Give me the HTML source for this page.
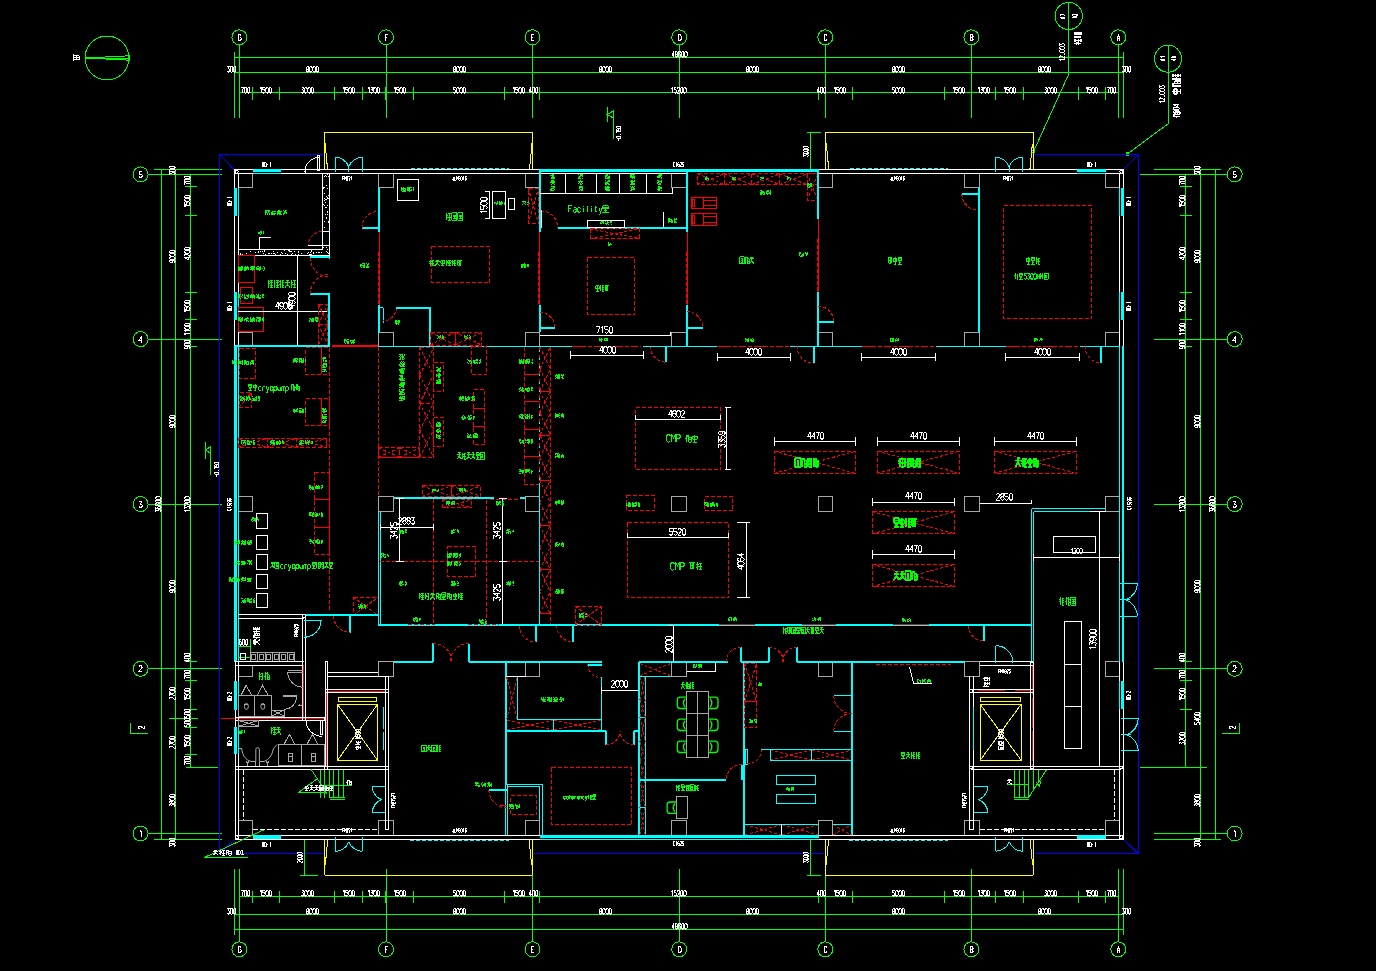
<!DOCTYPE html>
<html><head><meta charset="utf-8"><title>Floor plan</title>
<style>
html,body{margin:0;padding:0;background:#000;overflow:hidden}
svg{display:block;font-family:"Liberation Sans",sans-serif}
</style></head><body>
<svg width="1376" height="971" viewBox="0 0 1376 971" fill="none" stroke-width="1" shape-rendering="crispEdges">
<title>CAD floor plan</title><desc>First floor plan: grid axes A-G and 1-5, overall 48600 x 36600, bays 8000 / 9000; rooms: Facility, CMP small 4602x3359, CMP large 5520x4064, cryopump areas, test area 5300HM, equipment 4470, corridor, offices, meeting room, toilets, lifts, stairs, electrical room 13900.</desc>
<rect width="1376" height="971" fill="#000"/>
<circle cx="239.4" cy="37.3" r="7.5" stroke="#00ff00"/>
<path transform="translate(239.5 34.5)" d="M1.5,1L0.5,0L-0.5,0L-1.5,1L-1.5,5L-0.5,6L0.5,6L1.5,5L1.5,3L0,3" stroke="#ffffff" stroke-linejoin="round"/>
<path d="M239.5 44.8V117.5" stroke="#00ff00"/>
<circle cx="386" cy="37.3" r="7.5" stroke="#00ff00"/>
<path transform="translate(386.5 34.5)" d="M1.5,0L-1.5,0L-1.5,6M-1.5,3L0.5,3" stroke="#ffffff" stroke-linejoin="round"/>
<path d="M386.5 44.8V117.5" stroke="#00ff00"/>
<circle cx="532.5" cy="37.3" r="7.5" stroke="#00ff00"/>
<path transform="translate(532.5 34.5)" d="M1.5,0L-1.5,0L-1.5,6L1.5,6M-1.5,3L0.5,3" stroke="#ffffff" stroke-linejoin="round"/>
<path d="M532.5 44.8V117.5" stroke="#00ff00"/>
<circle cx="679.2" cy="37.3" r="7.5" stroke="#00ff00"/>
<path transform="translate(679.5 34.5)" d="M-1.5,0L-1.5,6L0.5,6L1.5,5L1.5,1L0.5,0L-1.5,0" stroke="#ffffff" stroke-linejoin="round"/>
<path d="M679.5 44.8V117.5" stroke="#00ff00"/>
<circle cx="825.3" cy="37.3" r="7.5" stroke="#00ff00"/>
<path transform="translate(825.5 34.5)" d="M1.5,1L0.5,0L-0.5,0L-1.5,1L-1.5,5L-0.5,6L0.5,6L1.5,5" stroke="#ffffff" stroke-linejoin="round"/>
<path d="M825.5 44.8V117.5" stroke="#00ff00"/>
<circle cx="971.4" cy="37.3" r="7.5" stroke="#00ff00"/>
<path transform="translate(971.5 34.5)" d="M-1.5,0L-1.5,6L0.5,6L1.5,5L1.5,4L0.5,3L-1.5,3M0.5,3L1.5,2L1.5,1L0.5,0L-1.5,0" stroke="#ffffff" stroke-linejoin="round"/>
<path d="M971.5 44.8V117.5" stroke="#00ff00"/>
<circle cx="1118.3" cy="37.3" r="7.5" stroke="#00ff00"/>
<path transform="translate(1118.5 34.5)" d="M-1.5,6L0,0L1.5,6M-0.9,4L0.9,4" stroke="#ffffff" stroke-linejoin="round"/>
<path d="M1118.5 44.8V117.5" stroke="#00ff00"/>
<path d="M234.5 52V117.5" stroke="#00ff00"/>
<path d="M1123.5 52V117.5" stroke="#00ff00"/>
<path d="M234 57.5H1124" stroke="#00ff00"/>
<path d="M234 72.5H1124" stroke="#00ff00"/>
<path d="M239.4 92.5H1118.3" stroke="#00ff00"/>
<path d="M252.5 86.6V99.6" stroke="#00ff00"/>
<path transform="translate(245.5 87.5)" d="M-4.36,0L-2.04,0L-3.59,5.52M-1.16,0.92L-0.39,0L0.39,0L1.16,0.92L1.16,4.6L0.39,5.52L-0.39,5.52L-1.16,4.6ZM2.04,0.92L2.82,0L3.59,0L4.36,0.92L4.36,4.6L3.59,5.52L2.82,5.52L2.04,4.6Z" stroke="#ffffff" stroke-linejoin="round"/>
<path d="M279.5 86.6V99.6" stroke="#00ff00"/>
<path transform="translate(265.5 87.5)" d="M-5.34,1.1L-4.42,0L-4.42,5.52M-0.44,0L-2.76,0L-2.76,2.3L-1.21,2.3L-0.44,3.22L-0.44,4.6L-1.21,5.52L-1.99,5.52L-2.76,4.6M0.44,0.92L1.21,0L1.99,0L2.76,0.92L2.76,4.6L1.99,5.52L1.21,5.52L0.44,4.6ZM3.64,0.92L4.42,0L5.19,0L5.96,0.92L5.96,4.6L5.19,5.52L4.42,5.52L3.64,4.6Z" stroke="#ffffff" stroke-linejoin="round"/>
<path d="M334.5 86.6V99.6" stroke="#00ff00"/>
<path transform="translate(307.5 87.5)" d="M-5.96,0L-3.64,0L-4.88,2.3L-4.42,2.3L-3.64,3.22L-3.64,4.6L-4.42,5.52L-5.19,5.52L-5.96,4.6M-2.76,0.92L-1.99,0L-1.21,0L-0.44,0.92L-0.44,4.6L-1.21,5.52L-1.99,5.52L-2.76,4.6ZM0.44,0.92L1.21,0L1.99,0L2.76,0.92L2.76,4.6L1.99,5.52L1.21,5.52L0.44,4.6ZM3.64,0.92L4.42,0L5.19,0L5.96,0.92L5.96,4.6L5.19,5.52L4.42,5.52L3.64,4.6Z" stroke="#ffffff" stroke-linejoin="round"/>
<path d="M362.5 86.6V99.6" stroke="#00ff00"/>
<path transform="translate(348.5 87.5)" d="M-5.34,1.1L-4.42,0L-4.42,5.52M-0.44,0L-2.76,0L-2.76,2.3L-1.21,2.3L-0.44,3.22L-0.44,4.6L-1.21,5.52L-1.99,5.52L-2.76,4.6M0.44,0.92L1.21,0L1.99,0L2.76,0.92L2.76,4.6L1.99,5.52L1.21,5.52L0.44,4.6ZM3.64,0.92L4.42,0L5.19,0L5.96,0.92L5.96,4.6L5.19,5.52L4.42,5.52L3.64,4.6Z" stroke="#ffffff" stroke-linejoin="round"/>
<path d="M385.5 86.6V99.6" stroke="#00ff00"/>
<path transform="translate(373.5 87.5)" d="M-5.34,1.1L-4.42,0L-4.42,5.52M-2.76,0L-0.44,0L-1.68,2.3L-1.21,2.3L-0.44,3.22L-0.44,4.6L-1.21,5.52L-1.99,5.52L-2.76,4.6M0.44,0.92L1.21,0L1.99,0L2.76,0.92L2.76,4.6L1.99,5.52L1.21,5.52L0.44,4.6ZM3.64,0.92L4.42,0L5.19,0L5.96,0.92L5.96,4.6L5.19,5.52L4.42,5.52L3.64,4.6Z" stroke="#ffffff" stroke-linejoin="round"/>
<path d="M413.5 86.6V99.6" stroke="#00ff00"/>
<path transform="translate(399.5 87.5)" d="M-5.34,1.1L-4.42,0L-4.42,5.52M-0.44,0L-2.76,0L-2.76,2.3L-1.21,2.3L-0.44,3.22L-0.44,4.6L-1.21,5.52L-1.99,5.52L-2.76,4.6M0.44,0.92L1.21,0L1.99,0L2.76,0.92L2.76,4.6L1.99,5.52L1.21,5.52L0.44,4.6ZM3.64,0.92L4.42,0L5.19,0L5.96,0.92L5.96,4.6L5.19,5.52L4.42,5.52L3.64,4.6Z" stroke="#ffffff" stroke-linejoin="round"/>
<path d="M504.5 86.6V99.6" stroke="#00ff00"/>
<path transform="translate(459.5 87.5)" d="M-3.64,0L-5.96,0L-5.96,2.3L-4.42,2.3L-3.64,3.22L-3.64,4.6L-4.42,5.52L-5.19,5.52L-5.96,4.6M-2.76,0.92L-1.99,0L-1.21,0L-0.44,0.92L-0.44,4.6L-1.21,5.52L-1.99,5.52L-2.76,4.6ZM0.44,0.92L1.21,0L1.99,0L2.76,0.92L2.76,4.6L1.99,5.52L1.21,5.52L0.44,4.6ZM3.64,0.92L4.42,0L5.19,0L5.96,0.92L5.96,4.6L5.19,5.52L4.42,5.52L3.64,4.6Z" stroke="#ffffff" stroke-linejoin="round"/>
<path d="M532.5 86.6V99.6" stroke="#00ff00"/>
<path transform="translate(518.5 87.5)" d="M-5.34,1.1L-4.42,0L-4.42,5.52M-0.44,0L-2.76,0L-2.76,2.3L-1.21,2.3L-0.44,3.22L-0.44,4.6L-1.21,5.52L-1.99,5.52L-2.76,4.6M0.44,0.92L1.21,0L1.99,0L2.76,0.92L2.76,4.6L1.99,5.52L1.21,5.52L0.44,4.6ZM3.64,0.92L4.42,0L5.19,0L5.96,0.92L5.96,4.6L5.19,5.52L4.42,5.52L3.64,4.6Z" stroke="#ffffff" stroke-linejoin="round"/>
<path d="M539.5 86.6V99.6" stroke="#00ff00"/>
<path transform="translate(533.5 87.5)" d="M-2.51,5.52L-2.51,0L-4.36,3.68L-1.89,3.68M-1.16,0.92L-0.39,0L0.39,0L1.16,0.92L1.16,4.6L0.39,5.52L-0.39,5.52L-1.16,4.6ZM2.04,0.92L2.82,0L3.59,0L4.36,0.92L4.36,4.6L3.59,5.52L2.82,5.52L2.04,4.6Z" stroke="#ffffff" stroke-linejoin="round"/>
<path d="M818.5 86.6V99.6" stroke="#00ff00"/>
<path transform="translate(678.5 87.5)" d="M-6.94,1.1L-6.02,0L-6.02,5.52M-2.04,0L-4.36,0L-4.36,2.3L-2.82,2.3L-2.04,3.22L-2.04,4.6L-2.82,5.52L-3.59,5.52L-4.36,4.6M-1.16,0.92L-0.39,0L0.39,0L1.16,0.92L1.16,1.84L-1.16,5.52L1.16,5.52M2.04,0.92L2.82,0L3.59,0L4.36,0.92L4.36,4.6L3.59,5.52L2.82,5.52L2.04,4.6ZM5.24,0.92L6.02,0L6.79,0L7.56,0.92L7.56,4.6L6.79,5.52L6.02,5.52L5.24,4.6Z" stroke="#ffffff" stroke-linejoin="round"/>
<path d="M825.5 86.6V99.6" stroke="#00ff00"/>
<path transform="translate(821.5 87.5)" d="M-2.51,5.52L-2.51,0L-4.36,3.68L-1.89,3.68M-1.16,0.92L-0.39,0L0.39,0L1.16,0.92L1.16,4.6L0.39,5.52L-0.39,5.52L-1.16,4.6ZM2.04,0.92L2.82,0L3.59,0L4.36,0.92L4.36,4.6L3.59,5.52L2.82,5.52L2.04,4.6Z" stroke="#ffffff" stroke-linejoin="round"/>
<path d="M852.5 86.6V99.6" stroke="#00ff00"/>
<path transform="translate(839.5 87.5)" d="M-5.34,1.1L-4.42,0L-4.42,5.52M-0.44,0L-2.76,0L-2.76,2.3L-1.21,2.3L-0.44,3.22L-0.44,4.6L-1.21,5.52L-1.99,5.52L-2.76,4.6M0.44,0.92L1.21,0L1.99,0L2.76,0.92L2.76,4.6L1.99,5.52L1.21,5.52L0.44,4.6ZM3.64,0.92L4.42,0L5.19,0L5.96,0.92L5.96,4.6L5.19,5.52L4.42,5.52L3.64,4.6Z" stroke="#ffffff" stroke-linejoin="round"/>
<path d="M944.5 86.6V99.6" stroke="#00ff00"/>
<path transform="translate(898.5 87.5)" d="M-3.64,0L-5.96,0L-5.96,2.3L-4.42,2.3L-3.64,3.22L-3.64,4.6L-4.42,5.52L-5.19,5.52L-5.96,4.6M-2.76,0.92L-1.99,0L-1.21,0L-0.44,0.92L-0.44,4.6L-1.21,5.52L-1.99,5.52L-2.76,4.6ZM0.44,0.92L1.21,0L1.99,0L2.76,0.92L2.76,4.6L1.99,5.52L1.21,5.52L0.44,4.6ZM3.64,0.92L4.42,0L5.19,0L5.96,0.92L5.96,4.6L5.19,5.52L4.42,5.52L3.64,4.6Z" stroke="#ffffff" stroke-linejoin="round"/>
<path d="M971.5 86.6V99.6" stroke="#00ff00"/>
<path transform="translate(958.5 87.5)" d="M-5.34,1.1L-4.42,0L-4.42,5.52M-0.44,0L-2.76,0L-2.76,2.3L-1.21,2.3L-0.44,3.22L-0.44,4.6L-1.21,5.52L-1.99,5.52L-2.76,4.6M0.44,0.92L1.21,0L1.99,0L2.76,0.92L2.76,4.6L1.99,5.52L1.21,5.52L0.44,4.6ZM3.64,0.92L4.42,0L5.19,0L5.96,0.92L5.96,4.6L5.19,5.52L4.42,5.52L3.64,4.6Z" stroke="#ffffff" stroke-linejoin="round"/>
<path d="M995.5 86.6V99.6" stroke="#00ff00"/>
<path transform="translate(983.5 87.5)" d="M-5.34,1.1L-4.42,0L-4.42,5.52M-2.76,0L-0.44,0L-1.68,2.3L-1.21,2.3L-0.44,3.22L-0.44,4.6L-1.21,5.52L-1.99,5.52L-2.76,4.6M0.44,0.92L1.21,0L1.99,0L2.76,0.92L2.76,4.6L1.99,5.52L1.21,5.52L0.44,4.6ZM3.64,0.92L4.42,0L5.19,0L5.96,0.92L5.96,4.6L5.19,5.52L4.42,5.52L3.64,4.6Z" stroke="#ffffff" stroke-linejoin="round"/>
<path d="M1023.5 86.6V99.6" stroke="#00ff00"/>
<path transform="translate(1009.5 87.5)" d="M-5.34,1.1L-4.42,0L-4.42,5.52M-0.44,0L-2.76,0L-2.76,2.3L-1.21,2.3L-0.44,3.22L-0.44,4.6L-1.21,5.52L-1.99,5.52L-2.76,4.6M0.44,0.92L1.21,0L1.99,0L2.76,0.92L2.76,4.6L1.99,5.52L1.21,5.52L0.44,4.6ZM3.64,0.92L4.42,0L5.19,0L5.96,0.92L5.96,4.6L5.19,5.52L4.42,5.52L3.64,4.6Z" stroke="#ffffff" stroke-linejoin="round"/>
<path d="M1078.5 86.6V99.6" stroke="#00ff00"/>
<path transform="translate(1050.5 87.5)" d="M-5.96,0L-3.64,0L-4.88,2.3L-4.42,2.3L-3.64,3.22L-3.64,4.6L-4.42,5.52L-5.19,5.52L-5.96,4.6M-2.76,0.92L-1.99,0L-1.21,0L-0.44,0.92L-0.44,4.6L-1.21,5.52L-1.99,5.52L-2.76,4.6ZM0.44,0.92L1.21,0L1.99,0L2.76,0.92L2.76,4.6L1.99,5.52L1.21,5.52L0.44,4.6ZM3.64,0.92L4.42,0L5.19,0L5.96,0.92L5.96,4.6L5.19,5.52L4.42,5.52L3.64,4.6Z" stroke="#ffffff" stroke-linejoin="round"/>
<path d="M1105.5 86.6V99.6" stroke="#00ff00"/>
<path transform="translate(1091.5 87.5)" d="M-5.34,1.1L-4.42,0L-4.42,5.52M-0.44,0L-2.76,0L-2.76,2.3L-1.21,2.3L-0.44,3.22L-0.44,4.6L-1.21,5.52L-1.99,5.52L-2.76,4.6M0.44,0.92L1.21,0L1.99,0L2.76,0.92L2.76,4.6L1.99,5.52L1.21,5.52L0.44,4.6ZM3.64,0.92L4.42,0L5.19,0L5.96,0.92L5.96,4.6L5.19,5.52L4.42,5.52L3.64,4.6Z" stroke="#ffffff" stroke-linejoin="round"/>
<path transform="translate(1111.5 87.5)" d="M-4.36,0L-2.04,0L-3.59,5.52M-1.16,0.92L-0.39,0L0.39,0L1.16,0.92L1.16,4.6L0.39,5.52L-0.39,5.52L-1.16,4.6ZM2.04,0.92L2.82,0L3.59,0L4.36,0.92L4.36,4.6L3.59,5.52L2.82,5.52L2.04,4.6Z" stroke="#ffffff" stroke-linejoin="round"/>
<path transform="translate(312.5 66.5)" d="M-5.19,0L-4.42,0L-3.64,0.92L-3.64,1.84L-4.42,2.76L-5.19,2.76L-5.96,1.84L-5.96,0.92ZM-5.19,2.76L-5.96,3.68L-5.96,4.6L-5.19,5.52L-4.42,5.52L-3.64,4.6L-3.64,3.68L-4.42,2.76M-2.76,0.92L-1.99,0L-1.21,0L-0.44,0.92L-0.44,4.6L-1.21,5.52L-1.99,5.52L-2.76,4.6ZM0.44,0.92L1.21,0L1.99,0L2.76,0.92L2.76,4.6L1.99,5.52L1.21,5.52L0.44,4.6ZM3.64,0.92L4.42,0L5.19,0L5.96,0.92L5.96,4.6L5.19,5.52L4.42,5.52L3.64,4.6Z" stroke="#ffffff" stroke-linejoin="round"/>
<path transform="translate(459.5 66.5)" d="M-5.19,0L-4.42,0L-3.64,0.92L-3.64,1.84L-4.42,2.76L-5.19,2.76L-5.96,1.84L-5.96,0.92ZM-5.19,2.76L-5.96,3.68L-5.96,4.6L-5.19,5.52L-4.42,5.52L-3.64,4.6L-3.64,3.68L-4.42,2.76M-2.76,0.92L-1.99,0L-1.21,0L-0.44,0.92L-0.44,4.6L-1.21,5.52L-1.99,5.52L-2.76,4.6ZM0.44,0.92L1.21,0L1.99,0L2.76,0.92L2.76,4.6L1.99,5.52L1.21,5.52L0.44,4.6ZM3.64,0.92L4.42,0L5.19,0L5.96,0.92L5.96,4.6L5.19,5.52L4.42,5.52L3.64,4.6Z" stroke="#ffffff" stroke-linejoin="round"/>
<path transform="translate(605.5 66.5)" d="M-5.19,0L-4.42,0L-3.64,0.92L-3.64,1.84L-4.42,2.76L-5.19,2.76L-5.96,1.84L-5.96,0.92ZM-5.19,2.76L-5.96,3.68L-5.96,4.6L-5.19,5.52L-4.42,5.52L-3.64,4.6L-3.64,3.68L-4.42,2.76M-2.76,0.92L-1.99,0L-1.21,0L-0.44,0.92L-0.44,4.6L-1.21,5.52L-1.99,5.52L-2.76,4.6ZM0.44,0.92L1.21,0L1.99,0L2.76,0.92L2.76,4.6L1.99,5.52L1.21,5.52L0.44,4.6ZM3.64,0.92L4.42,0L5.19,0L5.96,0.92L5.96,4.6L5.19,5.52L4.42,5.52L3.64,4.6Z" stroke="#ffffff" stroke-linejoin="round"/>
<path transform="translate(752.5 66.5)" d="M-5.19,0L-4.42,0L-3.64,0.92L-3.64,1.84L-4.42,2.76L-5.19,2.76L-5.96,1.84L-5.96,0.92ZM-5.19,2.76L-5.96,3.68L-5.96,4.6L-5.19,5.52L-4.42,5.52L-3.64,4.6L-3.64,3.68L-4.42,2.76M-2.76,0.92L-1.99,0L-1.21,0L-0.44,0.92L-0.44,4.6L-1.21,5.52L-1.99,5.52L-2.76,4.6ZM0.44,0.92L1.21,0L1.99,0L2.76,0.92L2.76,4.6L1.99,5.52L1.21,5.52L0.44,4.6ZM3.64,0.92L4.42,0L5.19,0L5.96,0.92L5.96,4.6L5.19,5.52L4.42,5.52L3.64,4.6Z" stroke="#ffffff" stroke-linejoin="round"/>
<path transform="translate(898.5 66.5)" d="M-5.19,0L-4.42,0L-3.64,0.92L-3.64,1.84L-4.42,2.76L-5.19,2.76L-5.96,1.84L-5.96,0.92ZM-5.19,2.76L-5.96,3.68L-5.96,4.6L-5.19,5.52L-4.42,5.52L-3.64,4.6L-3.64,3.68L-4.42,2.76M-2.76,0.92L-1.99,0L-1.21,0L-0.44,0.92L-0.44,4.6L-1.21,5.52L-1.99,5.52L-2.76,4.6ZM0.44,0.92L1.21,0L1.99,0L2.76,0.92L2.76,4.6L1.99,5.52L1.21,5.52L0.44,4.6ZM3.64,0.92L4.42,0L5.19,0L5.96,0.92L5.96,4.6L5.19,5.52L4.42,5.52L3.64,4.6Z" stroke="#ffffff" stroke-linejoin="round"/>
<path transform="translate(1044.5 66.5)" d="M-5.19,0L-4.42,0L-3.64,0.92L-3.64,1.84L-4.42,2.76L-5.19,2.76L-5.96,1.84L-5.96,0.92ZM-5.19,2.76L-5.96,3.68L-5.96,4.6L-5.19,5.52L-4.42,5.52L-3.64,4.6L-3.64,3.68L-4.42,2.76M-2.76,0.92L-1.99,0L-1.21,0L-0.44,0.92L-0.44,4.6L-1.21,5.52L-1.99,5.52L-2.76,4.6ZM0.44,0.92L1.21,0L1.99,0L2.76,0.92L2.76,4.6L1.99,5.52L1.21,5.52L0.44,4.6ZM3.64,0.92L4.42,0L5.19,0L5.96,0.92L5.96,4.6L5.19,5.52L4.42,5.52L3.64,4.6Z" stroke="#ffffff" stroke-linejoin="round"/>
<path transform="translate(231.5 66.5)" d="M-4.36,0L-2.04,0L-3.28,2.3L-2.82,2.3L-2.04,3.22L-2.04,4.6L-2.82,5.52L-3.59,5.52L-4.36,4.6M-1.16,0.92L-0.39,0L0.39,0L1.16,0.92L1.16,4.6L0.39,5.52L-0.39,5.52L-1.16,4.6ZM2.04,0.92L2.82,0L3.59,0L4.36,0.92L4.36,4.6L3.59,5.52L2.82,5.52L2.04,4.6Z" stroke="#ffffff" stroke-linejoin="round"/>
<path transform="translate(1126.5 66.5)" d="M-4.36,0L-2.04,0L-3.28,2.3L-2.82,2.3L-2.04,3.22L-2.04,4.6L-2.82,5.52L-3.59,5.52L-4.36,4.6M-1.16,0.92L-0.39,0L0.39,0L1.16,0.92L1.16,4.6L0.39,5.52L-0.39,5.52L-1.16,4.6ZM2.04,0.92L2.82,0L3.59,0L4.36,0.92L4.36,4.6L3.59,5.52L2.82,5.52L2.04,4.6Z" stroke="#ffffff" stroke-linejoin="round"/>
<path transform="translate(679.5 51.5)" d="M-5.71,5.52L-5.71,0L-7.56,3.68L-5.09,3.68M-3.59,0L-2.82,0L-2.04,0.92L-2.04,1.84L-2.82,2.76L-3.59,2.76L-4.36,1.84L-4.36,0.92ZM-3.59,2.76L-4.36,3.68L-4.36,4.6L-3.59,5.52L-2.82,5.52L-2.04,4.6L-2.04,3.68L-2.82,2.76M1.16,0.92L0.39,0L-0.39,0L-1.16,0.92L-1.16,4.6L-0.39,5.52L0.39,5.52L1.16,4.6L1.16,3.22L0.39,2.3L-1.16,2.3M2.04,0.92L2.82,0L3.59,0L4.36,0.92L4.36,4.6L3.59,5.52L2.82,5.52L2.04,4.6ZM5.24,0.92L6.02,0L6.79,0L7.56,0.92L7.56,4.6L6.79,5.52L6.02,5.52L5.24,4.6Z" stroke="#ffffff" stroke-linejoin="round"/>
<circle cx="239.4" cy="949.3" r="7.5" stroke="#00ff00"/>
<path transform="translate(239.5 946.5)" d="M1.5,1L0.5,0L-0.5,0L-1.5,1L-1.5,5L-0.5,6L0.5,6L1.5,5L1.5,3L0,3" stroke="#ffffff" stroke-linejoin="round"/>
<path d="M239.5 869V941.8" stroke="#00ff00"/>
<circle cx="386" cy="949.3" r="7.5" stroke="#00ff00"/>
<path transform="translate(386.5 946.5)" d="M1.5,0L-1.5,0L-1.5,6M-1.5,3L0.5,3" stroke="#ffffff" stroke-linejoin="round"/>
<path d="M386.5 869V941.8" stroke="#00ff00"/>
<circle cx="532.5" cy="949.3" r="7.5" stroke="#00ff00"/>
<path transform="translate(532.5 946.5)" d="M1.5,0L-1.5,0L-1.5,6L1.5,6M-1.5,3L0.5,3" stroke="#ffffff" stroke-linejoin="round"/>
<path d="M532.5 869V941.8" stroke="#00ff00"/>
<circle cx="679.2" cy="949.3" r="7.5" stroke="#00ff00"/>
<path transform="translate(679.5 946.5)" d="M-1.5,0L-1.5,6L0.5,6L1.5,5L1.5,1L0.5,0L-1.5,0" stroke="#ffffff" stroke-linejoin="round"/>
<path d="M679.5 869V941.8" stroke="#00ff00"/>
<circle cx="825.3" cy="949.3" r="7.5" stroke="#00ff00"/>
<path transform="translate(825.5 946.5)" d="M1.5,1L0.5,0L-0.5,0L-1.5,1L-1.5,5L-0.5,6L0.5,6L1.5,5" stroke="#ffffff" stroke-linejoin="round"/>
<path d="M825.5 869V941.8" stroke="#00ff00"/>
<circle cx="971.4" cy="949.3" r="7.5" stroke="#00ff00"/>
<path transform="translate(971.5 946.5)" d="M-1.5,0L-1.5,6L0.5,6L1.5,5L1.5,4L0.5,3L-1.5,3M0.5,3L1.5,2L1.5,1L0.5,0L-1.5,0" stroke="#ffffff" stroke-linejoin="round"/>
<path d="M971.5 869V941.8" stroke="#00ff00"/>
<circle cx="1118.3" cy="949.3" r="7.5" stroke="#00ff00"/>
<path transform="translate(1118.5 946.5)" d="M-1.5,6L0,0L1.5,6M-0.9,4L0.9,4" stroke="#ffffff" stroke-linejoin="round"/>
<path d="M1118.5 869V941.8" stroke="#00ff00"/>
<path d="M234.5 869V935" stroke="#00ff00"/>
<path d="M1123.5 869V935" stroke="#00ff00"/>
<path d="M234 929.5H1124" stroke="#00ff00"/>
<path d="M234 914.5H1124" stroke="#00ff00"/>
<path d="M239.4 896.5H1118.3" stroke="#00ff00"/>
<path d="M252.5 890.6V902.8" stroke="#00ff00"/>
<path transform="translate(245.5 890.5)" d="M-4.36,0L-2.04,0L-3.59,5.52M-1.16,0.92L-0.39,0L0.39,0L1.16,0.92L1.16,4.6L0.39,5.52L-0.39,5.52L-1.16,4.6ZM2.04,0.92L2.82,0L3.59,0L4.36,0.92L4.36,4.6L3.59,5.52L2.82,5.52L2.04,4.6Z" stroke="#ffffff" stroke-linejoin="round"/>
<path d="M279.5 890.6V902.8" stroke="#00ff00"/>
<path transform="translate(265.5 890.5)" d="M-5.34,1.1L-4.42,0L-4.42,5.52M-0.44,0L-2.76,0L-2.76,2.3L-1.21,2.3L-0.44,3.22L-0.44,4.6L-1.21,5.52L-1.99,5.52L-2.76,4.6M0.44,0.92L1.21,0L1.99,0L2.76,0.92L2.76,4.6L1.99,5.52L1.21,5.52L0.44,4.6ZM3.64,0.92L4.42,0L5.19,0L5.96,0.92L5.96,4.6L5.19,5.52L4.42,5.52L3.64,4.6Z" stroke="#ffffff" stroke-linejoin="round"/>
<path d="M334.5 890.6V902.8" stroke="#00ff00"/>
<path transform="translate(307.5 890.5)" d="M-5.96,0L-3.64,0L-4.88,2.3L-4.42,2.3L-3.64,3.22L-3.64,4.6L-4.42,5.52L-5.19,5.52L-5.96,4.6M-2.76,0.92L-1.99,0L-1.21,0L-0.44,0.92L-0.44,4.6L-1.21,5.52L-1.99,5.52L-2.76,4.6ZM0.44,0.92L1.21,0L1.99,0L2.76,0.92L2.76,4.6L1.99,5.52L1.21,5.52L0.44,4.6ZM3.64,0.92L4.42,0L5.19,0L5.96,0.92L5.96,4.6L5.19,5.52L4.42,5.52L3.64,4.6Z" stroke="#ffffff" stroke-linejoin="round"/>
<path d="M362.5 890.6V902.8" stroke="#00ff00"/>
<path transform="translate(348.5 890.5)" d="M-5.34,1.1L-4.42,0L-4.42,5.52M-0.44,0L-2.76,0L-2.76,2.3L-1.21,2.3L-0.44,3.22L-0.44,4.6L-1.21,5.52L-1.99,5.52L-2.76,4.6M0.44,0.92L1.21,0L1.99,0L2.76,0.92L2.76,4.6L1.99,5.52L1.21,5.52L0.44,4.6ZM3.64,0.92L4.42,0L5.19,0L5.96,0.92L5.96,4.6L5.19,5.52L4.42,5.52L3.64,4.6Z" stroke="#ffffff" stroke-linejoin="round"/>
<path d="M385.5 890.6V902.8" stroke="#00ff00"/>
<path transform="translate(373.5 890.5)" d="M-5.34,1.1L-4.42,0L-4.42,5.52M-2.76,0L-0.44,0L-1.68,2.3L-1.21,2.3L-0.44,3.22L-0.44,4.6L-1.21,5.52L-1.99,5.52L-2.76,4.6M0.44,0.92L1.21,0L1.99,0L2.76,0.92L2.76,4.6L1.99,5.52L1.21,5.52L0.44,4.6ZM3.64,0.92L4.42,0L5.19,0L5.96,0.92L5.96,4.6L5.19,5.52L4.42,5.52L3.64,4.6Z" stroke="#ffffff" stroke-linejoin="round"/>
<path d="M413.5 890.6V902.8" stroke="#00ff00"/>
<path transform="translate(399.5 890.5)" d="M-5.34,1.1L-4.42,0L-4.42,5.52M-0.44,0L-2.76,0L-2.76,2.3L-1.21,2.3L-0.44,3.22L-0.44,4.6L-1.21,5.52L-1.99,5.52L-2.76,4.6M0.44,0.92L1.21,0L1.99,0L2.76,0.92L2.76,4.6L1.99,5.52L1.21,5.52L0.44,4.6ZM3.64,0.92L4.42,0L5.19,0L5.96,0.92L5.96,4.6L5.19,5.52L4.42,5.52L3.64,4.6Z" stroke="#ffffff" stroke-linejoin="round"/>
<path d="M504.5 890.6V902.8" stroke="#00ff00"/>
<path transform="translate(459.5 890.5)" d="M-3.64,0L-5.96,0L-5.96,2.3L-4.42,2.3L-3.64,3.22L-3.64,4.6L-4.42,5.52L-5.19,5.52L-5.96,4.6M-2.76,0.92L-1.99,0L-1.21,0L-0.44,0.92L-0.44,4.6L-1.21,5.52L-1.99,5.52L-2.76,4.6ZM0.44,0.92L1.21,0L1.99,0L2.76,0.92L2.76,4.6L1.99,5.52L1.21,5.52L0.44,4.6ZM3.64,0.92L4.42,0L5.19,0L5.96,0.92L5.96,4.6L5.19,5.52L4.42,5.52L3.64,4.6Z" stroke="#ffffff" stroke-linejoin="round"/>
<path d="M532.5 890.6V902.8" stroke="#00ff00"/>
<path transform="translate(518.5 890.5)" d="M-5.34,1.1L-4.42,0L-4.42,5.52M-0.44,0L-2.76,0L-2.76,2.3L-1.21,2.3L-0.44,3.22L-0.44,4.6L-1.21,5.52L-1.99,5.52L-2.76,4.6M0.44,0.92L1.21,0L1.99,0L2.76,0.92L2.76,4.6L1.99,5.52L1.21,5.52L0.44,4.6ZM3.64,0.92L4.42,0L5.19,0L5.96,0.92L5.96,4.6L5.19,5.52L4.42,5.52L3.64,4.6Z" stroke="#ffffff" stroke-linejoin="round"/>
<path d="M539.5 890.6V902.8" stroke="#00ff00"/>
<path transform="translate(533.5 890.5)" d="M-2.51,5.52L-2.51,0L-4.36,3.68L-1.89,3.68M-1.16,0.92L-0.39,0L0.39,0L1.16,0.92L1.16,4.6L0.39,5.52L-0.39,5.52L-1.16,4.6ZM2.04,0.92L2.82,0L3.59,0L4.36,0.92L4.36,4.6L3.59,5.52L2.82,5.52L2.04,4.6Z" stroke="#ffffff" stroke-linejoin="round"/>
<path d="M818.5 890.6V902.8" stroke="#00ff00"/>
<path transform="translate(678.5 890.5)" d="M-6.94,1.1L-6.02,0L-6.02,5.52M-2.04,0L-4.36,0L-4.36,2.3L-2.82,2.3L-2.04,3.22L-2.04,4.6L-2.82,5.52L-3.59,5.52L-4.36,4.6M-1.16,0.92L-0.39,0L0.39,0L1.16,0.92L1.16,1.84L-1.16,5.52L1.16,5.52M2.04,0.92L2.82,0L3.59,0L4.36,0.92L4.36,4.6L3.59,5.52L2.82,5.52L2.04,4.6ZM5.24,0.92L6.02,0L6.79,0L7.56,0.92L7.56,4.6L6.79,5.52L6.02,5.52L5.24,4.6Z" stroke="#ffffff" stroke-linejoin="round"/>
<path d="M825.5 890.6V902.8" stroke="#00ff00"/>
<path transform="translate(821.5 890.5)" d="M-2.51,5.52L-2.51,0L-4.36,3.68L-1.89,3.68M-1.16,0.92L-0.39,0L0.39,0L1.16,0.92L1.16,4.6L0.39,5.52L-0.39,5.52L-1.16,4.6ZM2.04,0.92L2.82,0L3.59,0L4.36,0.92L4.36,4.6L3.59,5.52L2.82,5.52L2.04,4.6Z" stroke="#ffffff" stroke-linejoin="round"/>
<path d="M852.5 890.6V902.8" stroke="#00ff00"/>
<path transform="translate(839.5 890.5)" d="M-5.34,1.1L-4.42,0L-4.42,5.52M-0.44,0L-2.76,0L-2.76,2.3L-1.21,2.3L-0.44,3.22L-0.44,4.6L-1.21,5.52L-1.99,5.52L-2.76,4.6M0.44,0.92L1.21,0L1.99,0L2.76,0.92L2.76,4.6L1.99,5.52L1.21,5.52L0.44,4.6ZM3.64,0.92L4.42,0L5.19,0L5.96,0.92L5.96,4.6L5.19,5.52L4.42,5.52L3.64,4.6Z" stroke="#ffffff" stroke-linejoin="round"/>
<path d="M944.5 890.6V902.8" stroke="#00ff00"/>
<path transform="translate(898.5 890.5)" d="M-3.64,0L-5.96,0L-5.96,2.3L-4.42,2.3L-3.64,3.22L-3.64,4.6L-4.42,5.52L-5.19,5.52L-5.96,4.6M-2.76,0.92L-1.99,0L-1.21,0L-0.44,0.92L-0.44,4.6L-1.21,5.52L-1.99,5.52L-2.76,4.6ZM0.44,0.92L1.21,0L1.99,0L2.76,0.92L2.76,4.6L1.99,5.52L1.21,5.52L0.44,4.6ZM3.64,0.92L4.42,0L5.19,0L5.96,0.92L5.96,4.6L5.19,5.52L4.42,5.52L3.64,4.6Z" stroke="#ffffff" stroke-linejoin="round"/>
<path d="M971.5 890.6V902.8" stroke="#00ff00"/>
<path transform="translate(958.5 890.5)" d="M-5.34,1.1L-4.42,0L-4.42,5.52M-0.44,0L-2.76,0L-2.76,2.3L-1.21,2.3L-0.44,3.22L-0.44,4.6L-1.21,5.52L-1.99,5.52L-2.76,4.6M0.44,0.92L1.21,0L1.99,0L2.76,0.92L2.76,4.6L1.99,5.52L1.21,5.52L0.44,4.6ZM3.64,0.92L4.42,0L5.19,0L5.96,0.92L5.96,4.6L5.19,5.52L4.42,5.52L3.64,4.6Z" stroke="#ffffff" stroke-linejoin="round"/>
<path d="M995.5 890.6V902.8" stroke="#00ff00"/>
<path transform="translate(983.5 890.5)" d="M-5.34,1.1L-4.42,0L-4.42,5.52M-2.76,0L-0.44,0L-1.68,2.3L-1.21,2.3L-0.44,3.22L-0.44,4.6L-1.21,5.52L-1.99,5.52L-2.76,4.6M0.44,0.92L1.21,0L1.99,0L2.76,0.92L2.76,4.6L1.99,5.52L1.21,5.52L0.44,4.6ZM3.64,0.92L4.42,0L5.19,0L5.96,0.92L5.96,4.6L5.19,5.52L4.42,5.52L3.64,4.6Z" stroke="#ffffff" stroke-linejoin="round"/>
<path d="M1023.5 890.6V902.8" stroke="#00ff00"/>
<path transform="translate(1009.5 890.5)" d="M-5.34,1.1L-4.42,0L-4.42,5.52M-0.44,0L-2.76,0L-2.76,2.3L-1.21,2.3L-0.44,3.22L-0.44,4.6L-1.21,5.52L-1.99,5.52L-2.76,4.6M0.44,0.92L1.21,0L1.99,0L2.76,0.92L2.76,4.6L1.99,5.52L1.21,5.52L0.44,4.6ZM3.64,0.92L4.42,0L5.19,0L5.96,0.92L5.96,4.6L5.19,5.52L4.42,5.52L3.64,4.6Z" stroke="#ffffff" stroke-linejoin="round"/>
<path d="M1078.5 890.6V902.8" stroke="#00ff00"/>
<path transform="translate(1050.5 890.5)" d="M-5.96,0L-3.64,0L-4.88,2.3L-4.42,2.3L-3.64,3.22L-3.64,4.6L-4.42,5.52L-5.19,5.52L-5.96,4.6M-2.76,0.92L-1.99,0L-1.21,0L-0.44,0.92L-0.44,4.6L-1.21,5.52L-1.99,5.52L-2.76,4.6ZM0.44,0.92L1.21,0L1.99,0L2.76,0.92L2.76,4.6L1.99,5.52L1.21,5.52L0.44,4.6ZM3.64,0.92L4.42,0L5.19,0L5.96,0.92L5.96,4.6L5.19,5.52L4.42,5.52L3.64,4.6Z" stroke="#ffffff" stroke-linejoin="round"/>
<path d="M1105.5 890.6V902.8" stroke="#00ff00"/>
<path transform="translate(1091.5 890.5)" d="M-5.34,1.1L-4.42,0L-4.42,5.52M-0.44,0L-2.76,0L-2.76,2.3L-1.21,2.3L-0.44,3.22L-0.44,4.6L-1.21,5.52L-1.99,5.52L-2.76,4.6M0.44,0.92L1.21,0L1.99,0L2.76,0.92L2.76,4.6L1.99,5.52L1.21,5.52L0.44,4.6ZM3.64,0.92L4.42,0L5.19,0L5.96,0.92L5.96,4.6L5.19,5.52L4.42,5.52L3.64,4.6Z" stroke="#ffffff" stroke-linejoin="round"/>
<path transform="translate(1111.5 890.5)" d="M-4.36,0L-2.04,0L-3.59,5.52M-1.16,0.92L-0.39,0L0.39,0L1.16,0.92L1.16,4.6L0.39,5.52L-0.39,5.52L-1.16,4.6ZM2.04,0.92L2.82,0L3.59,0L4.36,0.92L4.36,4.6L3.59,5.52L2.82,5.52L2.04,4.6Z" stroke="#ffffff" stroke-linejoin="round"/>
<path transform="translate(312.5 908.5)" d="M-5.19,0L-4.42,0L-3.64,0.92L-3.64,1.84L-4.42,2.76L-5.19,2.76L-5.96,1.84L-5.96,0.92ZM-5.19,2.76L-5.96,3.68L-5.96,4.6L-5.19,5.52L-4.42,5.52L-3.64,4.6L-3.64,3.68L-4.42,2.76M-2.76,0.92L-1.99,0L-1.21,0L-0.44,0.92L-0.44,4.6L-1.21,5.52L-1.99,5.52L-2.76,4.6ZM0.44,0.92L1.21,0L1.99,0L2.76,0.92L2.76,4.6L1.99,5.52L1.21,5.52L0.44,4.6ZM3.64,0.92L4.42,0L5.19,0L5.96,0.92L5.96,4.6L5.19,5.52L4.42,5.52L3.64,4.6Z" stroke="#ffffff" stroke-linejoin="round"/>
<path transform="translate(459.5 908.5)" d="M-5.19,0L-4.42,0L-3.64,0.92L-3.64,1.84L-4.42,2.76L-5.19,2.76L-5.96,1.84L-5.96,0.92ZM-5.19,2.76L-5.96,3.68L-5.96,4.6L-5.19,5.52L-4.42,5.52L-3.64,4.6L-3.64,3.68L-4.42,2.76M-2.76,0.92L-1.99,0L-1.21,0L-0.44,0.92L-0.44,4.6L-1.21,5.52L-1.99,5.52L-2.76,4.6ZM0.44,0.92L1.21,0L1.99,0L2.76,0.92L2.76,4.6L1.99,5.52L1.21,5.52L0.44,4.6ZM3.64,0.92L4.42,0L5.19,0L5.96,0.92L5.96,4.6L5.19,5.52L4.42,5.52L3.64,4.6Z" stroke="#ffffff" stroke-linejoin="round"/>
<path transform="translate(605.5 908.5)" d="M-5.19,0L-4.42,0L-3.64,0.92L-3.64,1.84L-4.42,2.76L-5.19,2.76L-5.96,1.84L-5.96,0.92ZM-5.19,2.76L-5.96,3.68L-5.96,4.6L-5.19,5.52L-4.42,5.52L-3.64,4.6L-3.64,3.68L-4.42,2.76M-2.76,0.92L-1.99,0L-1.21,0L-0.44,0.92L-0.44,4.6L-1.21,5.52L-1.99,5.52L-2.76,4.6ZM0.44,0.92L1.21,0L1.99,0L2.76,0.92L2.76,4.6L1.99,5.52L1.21,5.52L0.44,4.6ZM3.64,0.92L4.42,0L5.19,0L5.96,0.92L5.96,4.6L5.19,5.52L4.42,5.52L3.64,4.6Z" stroke="#ffffff" stroke-linejoin="round"/>
<path transform="translate(752.5 908.5)" d="M-5.19,0L-4.42,0L-3.64,0.92L-3.64,1.84L-4.42,2.76L-5.19,2.76L-5.96,1.84L-5.96,0.92ZM-5.19,2.76L-5.96,3.68L-5.96,4.6L-5.19,5.52L-4.42,5.52L-3.64,4.6L-3.64,3.68L-4.42,2.76M-2.76,0.92L-1.99,0L-1.21,0L-0.44,0.92L-0.44,4.6L-1.21,5.52L-1.99,5.52L-2.76,4.6ZM0.44,0.92L1.21,0L1.99,0L2.76,0.92L2.76,4.6L1.99,5.52L1.21,5.52L0.44,4.6ZM3.64,0.92L4.42,0L5.19,0L5.96,0.92L5.96,4.6L5.19,5.52L4.42,5.52L3.64,4.6Z" stroke="#ffffff" stroke-linejoin="round"/>
<path transform="translate(898.5 908.5)" d="M-5.19,0L-4.42,0L-3.64,0.92L-3.64,1.84L-4.42,2.76L-5.19,2.76L-5.96,1.84L-5.96,0.92ZM-5.19,2.76L-5.96,3.68L-5.96,4.6L-5.19,5.52L-4.42,5.52L-3.64,4.6L-3.64,3.68L-4.42,2.76M-2.76,0.92L-1.99,0L-1.21,0L-0.44,0.92L-0.44,4.6L-1.21,5.52L-1.99,5.52L-2.76,4.6ZM0.44,0.92L1.21,0L1.99,0L2.76,0.92L2.76,4.6L1.99,5.52L1.21,5.52L0.44,4.6ZM3.64,0.92L4.42,0L5.19,0L5.96,0.92L5.96,4.6L5.19,5.52L4.42,5.52L3.64,4.6Z" stroke="#ffffff" stroke-linejoin="round"/>
<path transform="translate(1044.5 908.5)" d="M-5.19,0L-4.42,0L-3.64,0.92L-3.64,1.84L-4.42,2.76L-5.19,2.76L-5.96,1.84L-5.96,0.92ZM-5.19,2.76L-5.96,3.68L-5.96,4.6L-5.19,5.52L-4.42,5.52L-3.64,4.6L-3.64,3.68L-4.42,2.76M-2.76,0.92L-1.99,0L-1.21,0L-0.44,0.92L-0.44,4.6L-1.21,5.52L-1.99,5.52L-2.76,4.6ZM0.44,0.92L1.21,0L1.99,0L2.76,0.92L2.76,4.6L1.99,5.52L1.21,5.52L0.44,4.6ZM3.64,0.92L4.42,0L5.19,0L5.96,0.92L5.96,4.6L5.19,5.52L4.42,5.52L3.64,4.6Z" stroke="#ffffff" stroke-linejoin="round"/>
<path transform="translate(231.5 908.5)" d="M-4.36,0L-2.04,0L-3.28,2.3L-2.82,2.3L-2.04,3.22L-2.04,4.6L-2.82,5.52L-3.59,5.52L-4.36,4.6M-1.16,0.92L-0.39,0L0.39,0L1.16,0.92L1.16,4.6L0.39,5.52L-0.39,5.52L-1.16,4.6ZM2.04,0.92L2.82,0L3.59,0L4.36,0.92L4.36,4.6L3.59,5.52L2.82,5.52L2.04,4.6Z" stroke="#ffffff" stroke-linejoin="round"/>
<path transform="translate(1126.5 908.5)" d="M-4.36,0L-2.04,0L-3.28,2.3L-2.82,2.3L-2.04,3.22L-2.04,4.6L-2.82,5.52L-3.59,5.52L-4.36,4.6M-1.16,0.92L-0.39,0L0.39,0L1.16,0.92L1.16,4.6L0.39,5.52L-0.39,5.52L-1.16,4.6ZM2.04,0.92L2.82,0L3.59,0L4.36,0.92L4.36,4.6L3.59,5.52L2.82,5.52L2.04,4.6Z" stroke="#ffffff" stroke-linejoin="round"/>
<path transform="translate(679.5 923.5)" d="M-5.71,5.52L-5.71,0L-7.56,3.68L-5.09,3.68M-3.59,0L-2.82,0L-2.04,0.92L-2.04,1.84L-2.82,2.76L-3.59,2.76L-4.36,1.84L-4.36,0.92ZM-3.59,2.76L-4.36,3.68L-4.36,4.6L-3.59,5.52L-2.82,5.52L-2.04,4.6L-2.04,3.68L-2.82,2.76M1.16,0.92L0.39,0L-0.39,0L-1.16,0.92L-1.16,4.6L-0.39,5.52L0.39,5.52L1.16,4.6L1.16,3.22L0.39,2.3L-1.16,2.3M2.04,0.92L2.82,0L3.59,0L4.36,0.92L4.36,4.6L3.59,5.52L2.82,5.52L2.04,4.6ZM5.24,0.92L6.02,0L6.79,0L7.56,0.92L7.56,4.6L6.79,5.52L6.02,5.52L5.24,4.6Z" stroke="#ffffff" stroke-linejoin="round"/>
<circle cx="140.6" cy="174.4" r="7.5" stroke="#00ff00"/>
<path transform="translate(140.5 171.5)" d="M1.5,0L-1.5,0L-1.5,2.5L0.5,2.5L1.5,3.5L1.5,5L0.5,6L-0.5,6L-1.5,5" stroke="#ffffff" stroke-linejoin="round"/>
<path d="M148.1 174.5H221.6" stroke="#00ff00"/>
<circle cx="140.6" cy="339.1" r="7.5" stroke="#00ff00"/>
<path transform="translate(140.5 336.5)" d="M0.9,6L0.9,0L-1.5,4L1.7,4" stroke="#ffffff" stroke-linejoin="round"/>
<path d="M148.1 339.5H221.6" stroke="#00ff00"/>
<circle cx="140.6" cy="504.1" r="7.5" stroke="#00ff00"/>
<path transform="translate(140.5 501.5)" d="M-1.5,0L1.5,0L-0.1,2.5L0.5,2.5L1.5,3.5L1.5,5L0.5,6L-0.5,6L-1.5,5" stroke="#ffffff" stroke-linejoin="round"/>
<path d="M148.1 504.5H221.6" stroke="#00ff00"/>
<circle cx="140.6" cy="668.8" r="7.5" stroke="#00ff00"/>
<path transform="translate(140.5 665.5)" d="M-1.5,1L-0.5,0L0.5,0L1.5,1L1.5,2L-1.5,6L1.5,6" stroke="#ffffff" stroke-linejoin="round"/>
<path d="M148.1 668.5H221.6" stroke="#00ff00"/>
<circle cx="140.6" cy="833.5" r="7.5" stroke="#00ff00"/>
<path transform="translate(140.5 830.5)" d="M-0.7,1.2L0.5,0L0.5,6" stroke="#ffffff" stroke-linejoin="round"/>
<path d="M148.1 833.5H221.6" stroke="#00ff00"/>
<path d="M154.3 169.5H221.6" stroke="#00ff00"/>
<path d="M154.3 839.5H221.6" stroke="#00ff00"/>
<path d="M161.5 169V840" stroke="#00ff00"/>
<path d="M175.5 169V840" stroke="#00ff00"/>
<path d="M190.5 174V767.7" stroke="#00ff00"/>
<path d="M185.3 186.5H196.5" stroke="#00ff00"/>
<path d="M185.3 215.5H196.5" stroke="#00ff00"/>
<path d="M185.3 292.5H196.5" stroke="#00ff00"/>
<path d="M185.3 319.5H196.5" stroke="#00ff00"/>
<path d="M185.3 346.5H196.5" stroke="#00ff00"/>
<path d="M185.3 661.5H196.5" stroke="#00ff00"/>
<path d="M185.3 680.5H196.5" stroke="#00ff00"/>
<path d="M185.3 709.5H196.5" stroke="#00ff00"/>
<path d="M185.3 718.5H196.5" stroke="#00ff00"/>
<path d="M185.3 727.5H196.5" stroke="#00ff00"/>
<path d="M185.3 754.5H196.5" stroke="#00ff00"/>
<path d="M185.8 767.5H218.3" stroke="#00ff00"/>
<path d="M169 718.5H197.5" stroke="#00ff00"/>
<path transform="translate(184.5 180.5) rotate(-90)" d="M-4.36,0L-2.04,0L-3.59,5.52M-1.16,0.92L-0.39,0L0.39,0L1.16,0.92L1.16,4.6L0.39,5.52L-0.39,5.52L-1.16,4.6ZM2.04,0.92L2.82,0L3.59,0L4.36,0.92L4.36,4.6L3.59,5.52L2.82,5.52L2.04,4.6Z" stroke="#ffffff" stroke-linejoin="round"/>
<path transform="translate(184.5 201.5) rotate(-90)" d="M-5.34,1.1L-4.42,0L-4.42,5.52M-0.44,0L-2.76,0L-2.76,2.3L-1.21,2.3L-0.44,3.22L-0.44,4.6L-1.21,5.52L-1.99,5.52L-2.76,4.6M0.44,0.92L1.21,0L1.99,0L2.76,0.92L2.76,4.6L1.99,5.52L1.21,5.52L0.44,4.6ZM3.64,0.92L4.42,0L5.19,0L5.96,0.92L5.96,4.6L5.19,5.52L4.42,5.52L3.64,4.6Z" stroke="#ffffff" stroke-linejoin="round"/>
<path transform="translate(184.5 253.5) rotate(-90)" d="M-4.11,5.52L-4.11,0L-5.96,3.68L-3.49,3.68M-2.76,0.92L-1.99,0L-1.21,0L-0.44,0.92L-0.44,1.84L-2.76,5.52L-0.44,5.52M0.44,0.92L1.21,0L1.99,0L2.76,0.92L2.76,4.6L1.99,5.52L1.21,5.52L0.44,4.6ZM3.64,0.92L4.42,0L5.19,0L5.96,0.92L5.96,4.6L5.19,5.52L4.42,5.52L3.64,4.6Z" stroke="#ffffff" stroke-linejoin="round"/>
<path transform="translate(184.5 306.5) rotate(-90)" d="M-5.34,1.1L-4.42,0L-4.42,5.52M-0.44,0L-2.76,0L-2.76,2.3L-1.21,2.3L-0.44,3.22L-0.44,4.6L-1.21,5.52L-1.99,5.52L-2.76,4.6M0.44,0.92L1.21,0L1.99,0L2.76,0.92L2.76,4.6L1.99,5.52L1.21,5.52L0.44,4.6ZM3.64,0.92L4.42,0L5.19,0L5.96,0.92L5.96,4.6L5.19,5.52L4.42,5.52L3.64,4.6Z" stroke="#ffffff" stroke-linejoin="round"/>
<path transform="translate(184.5 329.5) rotate(-90)" d="M-5.34,1.1L-4.42,0L-4.42,5.52M-2.14,1.1L-1.21,0L-1.21,5.52M0.44,0.92L1.21,0L1.99,0L2.76,0.92L2.76,4.6L1.99,5.52L1.21,5.52L0.44,4.6ZM3.64,0.92L4.42,0L5.19,0L5.96,0.92L5.96,4.6L5.19,5.52L4.42,5.52L3.64,4.6Z" stroke="#ffffff" stroke-linejoin="round"/>
<path transform="translate(184.5 344.5) rotate(-90)" d="M-4.36,4.6L-3.59,5.52L-2.82,5.52L-2.04,4.6L-2.04,0.92L-2.82,0L-3.59,0L-4.36,0.92L-4.36,2.3L-3.59,3.22L-2.04,3.22M-1.16,0.92L-0.39,0L0.39,0L1.16,0.92L1.16,4.6L0.39,5.52L-0.39,5.52L-1.16,4.6ZM2.04,0.92L2.82,0L3.59,0L4.36,0.92L4.36,4.6L3.59,5.52L2.82,5.52L2.04,4.6Z" stroke="#ffffff" stroke-linejoin="round"/>
<path transform="translate(184.5 504.5) rotate(-90)" d="M-6.94,1.1L-6.02,0L-6.02,5.52M-4.36,0L-2.04,0L-3.28,2.3L-2.82,2.3L-2.04,3.22L-2.04,4.6L-2.82,5.52L-3.59,5.52L-4.36,4.6M-1.16,0.92L-0.39,0L0.39,0L1.16,0.92L1.16,1.84L-1.16,5.52L1.16,5.52M2.04,0.92L2.82,0L3.59,0L4.36,0.92L4.36,4.6L3.59,5.52L2.82,5.52L2.04,4.6ZM5.24,0.92L6.02,0L6.79,0L7.56,0.92L7.56,4.6L6.79,5.52L6.02,5.52L5.24,4.6Z" stroke="#ffffff" stroke-linejoin="round"/>
<path transform="translate(184.5 657.5) rotate(-90)" d="M-2.51,5.52L-2.51,0L-4.36,3.68L-1.89,3.68M-1.16,0.92L-0.39,0L0.39,0L1.16,0.92L1.16,4.6L0.39,5.52L-0.39,5.52L-1.16,4.6ZM2.04,0.92L2.82,0L3.59,0L4.36,0.92L4.36,4.6L3.59,5.52L2.82,5.52L2.04,4.6Z" stroke="#ffffff" stroke-linejoin="round"/>
<path transform="translate(184.5 674.5) rotate(-90)" d="M-4.36,0L-2.04,0L-3.59,5.52M-1.16,0.92L-0.39,0L0.39,0L1.16,0.92L1.16,4.6L0.39,5.52L-0.39,5.52L-1.16,4.6ZM2.04,0.92L2.82,0L3.59,0L4.36,0.92L4.36,4.6L3.59,5.52L2.82,5.52L2.04,4.6Z" stroke="#ffffff" stroke-linejoin="round"/>
<path transform="translate(184.5 694.5) rotate(-90)" d="M-5.34,1.1L-4.42,0L-4.42,5.52M-0.44,0L-2.76,0L-2.76,2.3L-1.21,2.3L-0.44,3.22L-0.44,4.6L-1.21,5.52L-1.99,5.52L-2.76,4.6M0.44,0.92L1.21,0L1.99,0L2.76,0.92L2.76,4.6L1.99,5.52L1.21,5.52L0.44,4.6ZM3.64,0.92L4.42,0L5.19,0L5.96,0.92L5.96,4.6L5.19,5.52L4.42,5.52L3.64,4.6Z" stroke="#ffffff" stroke-linejoin="round"/>
<path transform="translate(184.5 713.5) rotate(-90)" d="M-2.04,0L-4.36,0L-4.36,2.3L-2.82,2.3L-2.04,3.22L-2.04,4.6L-2.82,5.52L-3.59,5.52L-4.36,4.6M-1.16,0.92L-0.39,0L0.39,0L1.16,0.92L1.16,4.6L0.39,5.52L-0.39,5.52L-1.16,4.6ZM2.04,0.92L2.82,0L3.59,0L4.36,0.92L4.36,4.6L3.59,5.52L2.82,5.52L2.04,4.6Z" stroke="#ffffff" stroke-linejoin="round"/>
<path transform="translate(184.5 722.5) rotate(-90)" d="M-2.04,0L-4.36,0L-4.36,2.3L-2.82,2.3L-2.04,3.22L-2.04,4.6L-2.82,5.52L-3.59,5.52L-4.36,4.6M-1.16,0.92L-0.39,0L0.39,0L1.16,0.92L1.16,4.6L0.39,5.52L-0.39,5.52L-1.16,4.6ZM2.04,0.92L2.82,0L3.59,0L4.36,0.92L4.36,4.6L3.59,5.52L2.82,5.52L2.04,4.6Z" stroke="#ffffff" stroke-linejoin="round"/>
<path transform="translate(184.5 741.5) rotate(-90)" d="M-5.34,1.1L-4.42,0L-4.42,5.52M-0.44,0L-2.76,0L-2.76,2.3L-1.21,2.3L-0.44,3.22L-0.44,4.6L-1.21,5.52L-1.99,5.52L-2.76,4.6M0.44,0.92L1.21,0L1.99,0L2.76,0.92L2.76,4.6L1.99,5.52L1.21,5.52L0.44,4.6ZM3.64,0.92L4.42,0L5.19,0L5.96,0.92L5.96,4.6L5.19,5.52L4.42,5.52L3.64,4.6Z" stroke="#ffffff" stroke-linejoin="round"/>
<path transform="translate(184.5 760.5) rotate(-90)" d="M-4.36,0L-2.04,0L-3.59,5.52M-1.16,0.92L-0.39,0L0.39,0L1.16,0.92L1.16,4.6L0.39,5.52L-0.39,5.52L-1.16,4.6ZM2.04,0.92L2.82,0L3.59,0L4.36,0.92L4.36,4.6L3.59,5.52L2.82,5.52L2.04,4.6Z" stroke="#ffffff" stroke-linejoin="round"/>
<path transform="translate(169.5 256.5) rotate(-90)" d="M-5.96,4.6L-5.19,5.52L-4.42,5.52L-3.64,4.6L-3.64,0.92L-4.42,0L-5.19,0L-5.96,0.92L-5.96,2.3L-5.19,3.22L-3.64,3.22M-2.76,0.92L-1.99,0L-1.21,0L-0.44,0.92L-0.44,4.6L-1.21,5.52L-1.99,5.52L-2.76,4.6ZM0.44,0.92L1.21,0L1.99,0L2.76,0.92L2.76,4.6L1.99,5.52L1.21,5.52L0.44,4.6ZM3.64,0.92L4.42,0L5.19,0L5.96,0.92L5.96,4.6L5.19,5.52L4.42,5.52L3.64,4.6Z" stroke="#ffffff" stroke-linejoin="round"/>
<path transform="translate(169.5 421.5) rotate(-90)" d="M-5.96,4.6L-5.19,5.52L-4.42,5.52L-3.64,4.6L-3.64,0.92L-4.42,0L-5.19,0L-5.96,0.92L-5.96,2.3L-5.19,3.22L-3.64,3.22M-2.76,0.92L-1.99,0L-1.21,0L-0.44,0.92L-0.44,4.6L-1.21,5.52L-1.99,5.52L-2.76,4.6ZM0.44,0.92L1.21,0L1.99,0L2.76,0.92L2.76,4.6L1.99,5.52L1.21,5.52L0.44,4.6ZM3.64,0.92L4.42,0L5.19,0L5.96,0.92L5.96,4.6L5.19,5.52L4.42,5.52L3.64,4.6Z" stroke="#ffffff" stroke-linejoin="round"/>
<path transform="translate(169.5 586.5) rotate(-90)" d="M-5.96,4.6L-5.19,5.52L-4.42,5.52L-3.64,4.6L-3.64,0.92L-4.42,0L-5.19,0L-5.96,0.92L-5.96,2.3L-5.19,3.22L-3.64,3.22M-2.76,0.92L-1.99,0L-1.21,0L-0.44,0.92L-0.44,4.6L-1.21,5.52L-1.99,5.52L-2.76,4.6ZM0.44,0.92L1.21,0L1.99,0L2.76,0.92L2.76,4.6L1.99,5.52L1.21,5.52L0.44,4.6ZM3.64,0.92L4.42,0L5.19,0L5.96,0.92L5.96,4.6L5.19,5.52L4.42,5.52L3.64,4.6Z" stroke="#ffffff" stroke-linejoin="round"/>
<path transform="translate(169.5 693.5) rotate(-90)" d="M-5.96,0.92L-5.19,0L-4.42,0L-3.64,0.92L-3.64,1.84L-5.96,5.52L-3.64,5.52M-2.76,0L-0.44,0L-1.99,5.52M0.44,0.92L1.21,0L1.99,0L2.76,0.92L2.76,4.6L1.99,5.52L1.21,5.52L0.44,4.6ZM3.64,0.92L4.42,0L5.19,0L5.96,0.92L5.96,4.6L5.19,5.52L4.42,5.52L3.64,4.6Z" stroke="#ffffff" stroke-linejoin="round"/>
<path transform="translate(169.5 742.5) rotate(-90)" d="M-5.96,0.92L-5.19,0L-4.42,0L-3.64,0.92L-3.64,1.84L-5.96,5.52L-3.64,5.52M-2.76,0L-0.44,0L-1.99,5.52M0.44,0.92L1.21,0L1.99,0L2.76,0.92L2.76,4.6L1.99,5.52L1.21,5.52L0.44,4.6ZM3.64,0.92L4.42,0L5.19,0L5.96,0.92L5.96,4.6L5.19,5.52L4.42,5.52L3.64,4.6Z" stroke="#ffffff" stroke-linejoin="round"/>
<path transform="translate(169.5 800.5) rotate(-90)" d="M-5.96,0L-3.64,0L-4.88,2.3L-4.42,2.3L-3.64,3.22L-3.64,4.6L-4.42,5.52L-5.19,5.52L-5.96,4.6M-0.44,0.92L-1.21,0L-1.99,0L-2.76,0.92L-2.76,4.6L-1.99,5.52L-1.21,5.52L-0.44,4.6L-0.44,3.22L-1.21,2.3L-2.76,2.3M0.44,0.92L1.21,0L1.99,0L2.76,0.92L2.76,4.6L1.99,5.52L1.21,5.52L0.44,4.6ZM3.64,0.92L4.42,0L5.19,0L5.96,0.92L5.96,4.6L5.19,5.52L4.42,5.52L3.64,4.6Z" stroke="#ffffff" stroke-linejoin="round"/>
<path transform="translate(169.5 842.5) rotate(-90)" d="M-4.36,0L-2.04,0L-3.28,2.3L-2.82,2.3L-2.04,3.22L-2.04,4.6L-2.82,5.52L-3.59,5.52L-4.36,4.6M-1.16,0.92L-0.39,0L0.39,0L1.16,0.92L1.16,4.6L0.39,5.52L-0.39,5.52L-1.16,4.6ZM2.04,0.92L2.82,0L3.59,0L4.36,0.92L4.36,4.6L3.59,5.52L2.82,5.52L2.04,4.6Z" stroke="#ffffff" stroke-linejoin="round"/>
<path transform="translate(169.5 170.5) rotate(-90)" d="M-4.36,0L-2.04,0L-3.28,2.3L-2.82,2.3L-2.04,3.22L-2.04,4.6L-2.82,5.52L-3.59,5.52L-4.36,4.6M-1.16,0.92L-0.39,0L0.39,0L1.16,0.92L1.16,4.6L0.39,5.52L-0.39,5.52L-1.16,4.6ZM2.04,0.92L2.82,0L3.59,0L4.36,0.92L4.36,4.6L3.59,5.52L2.82,5.52L2.04,4.6Z" stroke="#ffffff" stroke-linejoin="round"/>
<path transform="translate(155.5 504.5) rotate(-90)" d="M-7.56,0L-5.24,0L-6.48,2.3L-6.02,2.3L-5.24,3.22L-5.24,4.6L-6.02,5.52L-6.79,5.52L-7.56,4.6M-2.04,0.92L-2.82,0L-3.59,0L-4.36,0.92L-4.36,4.6L-3.59,5.52L-2.82,5.52L-2.04,4.6L-2.04,3.22L-2.82,2.3L-4.36,2.3M1.16,0.92L0.39,0L-0.39,0L-1.16,0.92L-1.16,4.6L-0.39,5.52L0.39,5.52L1.16,4.6L1.16,3.22L0.39,2.3L-1.16,2.3M2.04,0.92L2.82,0L3.59,0L4.36,0.92L4.36,4.6L3.59,5.52L2.82,5.52L2.04,4.6ZM5.24,0.92L6.02,0L6.79,0L7.56,0.92L7.56,4.6L6.79,5.52L6.02,5.52L5.24,4.6Z" stroke="#ffffff" stroke-linejoin="round"/>
<path d="M130.2 723L130.2 733.7L148.3 733.7" stroke="#00ff00"/>
<path transform="translate(138.5 727.5) rotate(-90)" d="M-1.18,0.93L-0.39,0L0.39,0L1.18,0.93L1.18,1.87L-1.18,5.6L1.18,5.6" stroke="#ffffff" stroke-linejoin="round"/>
<path d="M1239.4 723L1239.4 733.7L1222.3 733.7" stroke="#00ff00"/>
<path transform="translate(1229.5 727.5) rotate(-90)" d="M-1.18,0.93L-0.39,0L0.39,0L1.18,0.93L1.18,1.87L-1.18,5.6L1.18,5.6" stroke="#ffffff" stroke-linejoin="round"/>
<circle cx="1234.7" cy="174.4" r="7.5" stroke="#00ff00"/>
<path transform="translate(1234.5 171.5)" d="M1.5,0L-1.5,0L-1.5,2.5L0.5,2.5L1.5,3.5L1.5,5L0.5,6L-0.5,6L-1.5,5" stroke="#ffffff" stroke-linejoin="round"/>
<path d="M1140 174.5H1227.2" stroke="#00ff00"/>
<circle cx="1234.7" cy="339.1" r="7.5" stroke="#00ff00"/>
<path transform="translate(1234.5 336.5)" d="M0.9,6L0.9,0L-1.5,4L1.7,4" stroke="#ffffff" stroke-linejoin="round"/>
<path d="M1154.4 339.5H1227.2" stroke="#00ff00"/>
<circle cx="1234.7" cy="504.1" r="7.5" stroke="#00ff00"/>
<path transform="translate(1234.5 501.5)" d="M-1.5,0L1.5,0L-0.1,2.5L0.5,2.5L1.5,3.5L1.5,5L0.5,6L-0.5,6L-1.5,5" stroke="#ffffff" stroke-linejoin="round"/>
<path d="M1154.4 504.5H1227.2" stroke="#00ff00"/>
<circle cx="1234.7" cy="668.8" r="7.5" stroke="#00ff00"/>
<path transform="translate(1234.5 665.5)" d="M-1.5,1L-0.5,0L0.5,0L1.5,1L1.5,2L-1.5,6L1.5,6" stroke="#ffffff" stroke-linejoin="round"/>
<path d="M1154.4 668.5H1227.2" stroke="#00ff00"/>
<circle cx="1234.7" cy="833.5" r="7.5" stroke="#00ff00"/>
<path transform="translate(1234.5 830.5)" d="M-0.7,1.2L0.5,0L0.5,6" stroke="#ffffff" stroke-linejoin="round"/>
<path d="M1154.4 833.5H1227.2" stroke="#00ff00"/>
<path d="M1154.4 169.5H1220.6" stroke="#00ff00"/>
<path d="M1154.4 839.5H1220.6" stroke="#00ff00"/>
<path d="M1185.5 174V767.7" stroke="#00ff00"/>
<path d="M1200.5 169V840" stroke="#00ff00"/>
<path d="M1215.5 169V840" stroke="#00ff00"/>
<path d="M1180.3 186.5H1191.5" stroke="#00ff00"/>
<path d="M1180.3 215.5H1191.5" stroke="#00ff00"/>
<path d="M1180.3 292.5H1191.5" stroke="#00ff00"/>
<path d="M1180.3 319.5H1191.5" stroke="#00ff00"/>
<path d="M1180.3 346.5H1191.5" stroke="#00ff00"/>
<path d="M1180.3 661.5H1191.5" stroke="#00ff00"/>
<path d="M1180.3 680.5H1191.5" stroke="#00ff00"/>
<path d="M1180.3 709.5H1191.5" stroke="#00ff00"/>
<path d="M1140 767.5H1206.6" stroke="#00ff00"/>
<path transform="translate(1179.5 180.5) rotate(-90)" d="M-4.36,0L-2.04,0L-3.59,5.52M-1.16,0.92L-0.39,0L0.39,0L1.16,0.92L1.16,4.6L0.39,5.52L-0.39,5.52L-1.16,4.6ZM2.04,0.92L2.82,0L3.59,0L4.36,0.92L4.36,4.6L3.59,5.52L2.82,5.52L2.04,4.6Z" stroke="#ffffff" stroke-linejoin="round"/>
<path transform="translate(1179.5 201.5) rotate(-90)" d="M-5.34,1.1L-4.42,0L-4.42,5.52M-0.44,0L-2.76,0L-2.76,2.3L-1.21,2.3L-0.44,3.22L-0.44,4.6L-1.21,5.52L-1.99,5.52L-2.76,4.6M0.44,0.92L1.21,0L1.99,0L2.76,0.92L2.76,4.6L1.99,5.52L1.21,5.52L0.44,4.6ZM3.64,0.92L4.42,0L5.19,0L5.96,0.92L5.96,4.6L5.19,5.52L4.42,5.52L3.64,4.6Z" stroke="#ffffff" stroke-linejoin="round"/>
<path transform="translate(1179.5 253.5) rotate(-90)" d="M-4.11,5.52L-4.11,0L-5.96,3.68L-3.49,3.68M-2.76,0.92L-1.99,0L-1.21,0L-0.44,0.92L-0.44,1.84L-2.76,5.52L-0.44,5.52M0.44,0.92L1.21,0L1.99,0L2.76,0.92L2.76,4.6L1.99,5.52L1.21,5.52L0.44,4.6ZM3.64,0.92L4.42,0L5.19,0L5.96,0.92L5.96,4.6L5.19,5.52L4.42,5.52L3.64,4.6Z" stroke="#ffffff" stroke-linejoin="round"/>
<path transform="translate(1179.5 306.5) rotate(-90)" d="M-5.34,1.1L-4.42,0L-4.42,5.52M-0.44,0L-2.76,0L-2.76,2.3L-1.21,2.3L-0.44,3.22L-0.44,4.6L-1.21,5.52L-1.99,5.52L-2.76,4.6M0.44,0.92L1.21,0L1.99,0L2.76,0.92L2.76,4.6L1.99,5.52L1.21,5.52L0.44,4.6ZM3.64,0.92L4.42,0L5.19,0L5.96,0.92L5.96,4.6L5.19,5.52L4.42,5.52L3.64,4.6Z" stroke="#ffffff" stroke-linejoin="round"/>
<path transform="translate(1179.5 329.5) rotate(-90)" d="M-5.34,1.1L-4.42,0L-4.42,5.52M-2.14,1.1L-1.21,0L-1.21,5.52M0.44,0.92L1.21,0L1.99,0L2.76,0.92L2.76,4.6L1.99,5.52L1.21,5.52L0.44,4.6ZM3.64,0.92L4.42,0L5.19,0L5.96,0.92L5.96,4.6L5.19,5.52L4.42,5.52L3.64,4.6Z" stroke="#ffffff" stroke-linejoin="round"/>
<path transform="translate(1179.5 344.5) rotate(-90)" d="M-4.36,4.6L-3.59,5.52L-2.82,5.52L-2.04,4.6L-2.04,0.92L-2.82,0L-3.59,0L-4.36,0.92L-4.36,2.3L-3.59,3.22L-2.04,3.22M-1.16,0.92L-0.39,0L0.39,0L1.16,0.92L1.16,4.6L0.39,5.52L-0.39,5.52L-1.16,4.6ZM2.04,0.92L2.82,0L3.59,0L4.36,0.92L4.36,4.6L3.59,5.52L2.82,5.52L2.04,4.6Z" stroke="#ffffff" stroke-linejoin="round"/>
<path transform="translate(1179.5 504.5) rotate(-90)" d="M-6.94,1.1L-6.02,0L-6.02,5.52M-4.36,0L-2.04,0L-3.28,2.3L-2.82,2.3L-2.04,3.22L-2.04,4.6L-2.82,5.52L-3.59,5.52L-4.36,4.6M-1.16,0.92L-0.39,0L0.39,0L1.16,0.92L1.16,1.84L-1.16,5.52L1.16,5.52M2.04,0.92L2.82,0L3.59,0L4.36,0.92L4.36,4.6L3.59,5.52L2.82,5.52L2.04,4.6ZM5.24,0.92L6.02,0L6.79,0L7.56,0.92L7.56,4.6L6.79,5.52L6.02,5.52L5.24,4.6Z" stroke="#ffffff" stroke-linejoin="round"/>
<path transform="translate(1179.5 657.5) rotate(-90)" d="M-2.51,5.52L-2.51,0L-4.36,3.68L-1.89,3.68M-1.16,0.92L-0.39,0L0.39,0L1.16,0.92L1.16,4.6L0.39,5.52L-0.39,5.52L-1.16,4.6ZM2.04,0.92L2.82,0L3.59,0L4.36,0.92L4.36,4.6L3.59,5.52L2.82,5.52L2.04,4.6Z" stroke="#ffffff" stroke-linejoin="round"/>
<path transform="translate(1179.5 674.5) rotate(-90)" d="M-4.36,0L-2.04,0L-3.59,5.52M-1.16,0.92L-0.39,0L0.39,0L1.16,0.92L1.16,4.6L0.39,5.52L-0.39,5.52L-1.16,4.6ZM2.04,0.92L2.82,0L3.59,0L4.36,0.92L4.36,4.6L3.59,5.52L2.82,5.52L2.04,4.6Z" stroke="#ffffff" stroke-linejoin="round"/>
<path transform="translate(1179.5 694.5) rotate(-90)" d="M-5.34,1.1L-4.42,0L-4.42,5.52M-0.44,0L-2.76,0L-2.76,2.3L-1.21,2.3L-0.44,3.22L-0.44,4.6L-1.21,5.52L-1.99,5.52L-2.76,4.6M0.44,0.92L1.21,0L1.99,0L2.76,0.92L2.76,4.6L1.99,5.52L1.21,5.52L0.44,4.6ZM3.64,0.92L4.42,0L5.19,0L5.96,0.92L5.96,4.6L5.19,5.52L4.42,5.52L3.64,4.6Z" stroke="#ffffff" stroke-linejoin="round"/>
<path transform="translate(1179.5 738.5) rotate(-90)" d="M-5.96,0L-3.64,0L-4.88,2.3L-4.42,2.3L-3.64,3.22L-3.64,4.6L-4.42,5.52L-5.19,5.52L-5.96,4.6M-2.76,0.92L-1.99,0L-1.21,0L-0.44,0.92L-0.44,1.84L-2.76,5.52L-0.44,5.52M0.44,0.92L1.21,0L1.99,0L2.76,0.92L2.76,4.6L1.99,5.52L1.21,5.52L0.44,4.6ZM3.64,0.92L4.42,0L5.19,0L5.96,0.92L5.96,4.6L5.19,5.52L4.42,5.52L3.64,4.6Z" stroke="#ffffff" stroke-linejoin="round"/>
<path transform="translate(1194.5 256.5) rotate(-90)" d="M-5.96,4.6L-5.19,5.52L-4.42,5.52L-3.64,4.6L-3.64,0.92L-4.42,0L-5.19,0L-5.96,0.92L-5.96,2.3L-5.19,3.22L-3.64,3.22M-2.76,0.92L-1.99,0L-1.21,0L-0.44,0.92L-0.44,4.6L-1.21,5.52L-1.99,5.52L-2.76,4.6ZM0.44,0.92L1.21,0L1.99,0L2.76,0.92L2.76,4.6L1.99,5.52L1.21,5.52L0.44,4.6ZM3.64,0.92L4.42,0L5.19,0L5.96,0.92L5.96,4.6L5.19,5.52L4.42,5.52L3.64,4.6Z" stroke="#ffffff" stroke-linejoin="round"/>
<path transform="translate(1194.5 421.5) rotate(-90)" d="M-5.96,4.6L-5.19,5.52L-4.42,5.52L-3.64,4.6L-3.64,0.92L-4.42,0L-5.19,0L-5.96,0.92L-5.96,2.3L-5.19,3.22L-3.64,3.22M-2.76,0.92L-1.99,0L-1.21,0L-0.44,0.92L-0.44,4.6L-1.21,5.52L-1.99,5.52L-2.76,4.6ZM0.44,0.92L1.21,0L1.99,0L2.76,0.92L2.76,4.6L1.99,5.52L1.21,5.52L0.44,4.6ZM3.64,0.92L4.42,0L5.19,0L5.96,0.92L5.96,4.6L5.19,5.52L4.42,5.52L3.64,4.6Z" stroke="#ffffff" stroke-linejoin="round"/>
<path transform="translate(1194.5 586.5) rotate(-90)" d="M-5.96,4.6L-5.19,5.52L-4.42,5.52L-3.64,4.6L-3.64,0.92L-4.42,0L-5.19,0L-5.96,0.92L-5.96,2.3L-5.19,3.22L-3.64,3.22M-2.76,0.92L-1.99,0L-1.21,0L-0.44,0.92L-0.44,4.6L-1.21,5.52L-1.99,5.52L-2.76,4.6ZM0.44,0.92L1.21,0L1.99,0L2.76,0.92L2.76,4.6L1.99,5.52L1.21,5.52L0.44,4.6ZM3.64,0.92L4.42,0L5.19,0L5.96,0.92L5.96,4.6L5.19,5.52L4.42,5.52L3.64,4.6Z" stroke="#ffffff" stroke-linejoin="round"/>
<path transform="translate(1194.5 718.5) rotate(-90)" d="M-3.64,0L-5.96,0L-5.96,2.3L-4.42,2.3L-3.64,3.22L-3.64,4.6L-4.42,5.52L-5.19,5.52L-5.96,4.6M-0.91,5.52L-0.91,0L-2.76,3.68L-0.29,3.68M0.44,0.92L1.21,0L1.99,0L2.76,0.92L2.76,4.6L1.99,5.52L1.21,5.52L0.44,4.6ZM3.64,0.92L4.42,0L5.19,0L5.96,0.92L5.96,4.6L5.19,5.52L4.42,5.52L3.64,4.6Z" stroke="#ffffff" stroke-linejoin="round"/>
<path transform="translate(1194.5 800.5) rotate(-90)" d="M-5.96,0L-3.64,0L-4.88,2.3L-4.42,2.3L-3.64,3.22L-3.64,4.6L-4.42,5.52L-5.19,5.52L-5.96,4.6M-0.44,0.92L-1.21,0L-1.99,0L-2.76,0.92L-2.76,4.6L-1.99,5.52L-1.21,5.52L-0.44,4.6L-0.44,3.22L-1.21,2.3L-2.76,2.3M0.44,0.92L1.21,0L1.99,0L2.76,0.92L2.76,4.6L1.99,5.52L1.21,5.52L0.44,4.6ZM3.64,0.92L4.42,0L5.19,0L5.96,0.92L5.96,4.6L5.19,5.52L4.42,5.52L3.64,4.6Z" stroke="#ffffff" stroke-linejoin="round"/>
<path transform="translate(1194.5 842.5) rotate(-90)" d="M-4.36,0L-2.04,0L-3.28,2.3L-2.82,2.3L-2.04,3.22L-2.04,4.6L-2.82,5.52L-3.59,5.52L-4.36,4.6M-1.16,0.92L-0.39,0L0.39,0L1.16,0.92L1.16,4.6L0.39,5.52L-0.39,5.52L-1.16,4.6ZM2.04,0.92L2.82,0L3.59,0L4.36,0.92L4.36,4.6L3.59,5.52L2.82,5.52L2.04,4.6Z" stroke="#ffffff" stroke-linejoin="round"/>
<path transform="translate(1194.5 170.5) rotate(-90)" d="M-4.36,0L-2.04,0L-3.28,2.3L-2.82,2.3L-2.04,3.22L-2.04,4.6L-2.82,5.52L-3.59,5.52L-4.36,4.6M-1.16,0.92L-0.39,0L0.39,0L1.16,0.92L1.16,4.6L0.39,5.52L-0.39,5.52L-1.16,4.6ZM2.04,0.92L2.82,0L3.59,0L4.36,0.92L4.36,4.6L3.59,5.52L2.82,5.52L2.04,4.6Z" stroke="#ffffff" stroke-linejoin="round"/>
<path transform="translate(1209.5 504.5) rotate(-90)" d="M-7.56,0L-5.24,0L-6.48,2.3L-6.02,2.3L-5.24,3.22L-5.24,4.6L-6.02,5.52L-6.79,5.52L-7.56,4.6M-2.04,0.92L-2.82,0L-3.59,0L-4.36,0.92L-4.36,4.6L-3.59,5.52L-2.82,5.52L-2.04,4.6L-2.04,3.22L-2.82,2.3L-4.36,2.3M1.16,0.92L0.39,0L-0.39,0L-1.16,0.92L-1.16,4.6L-0.39,5.52L0.39,5.52L1.16,4.6L1.16,3.22L0.39,2.3L-1.16,2.3M2.04,0.92L2.82,0L3.59,0L4.36,0.92L4.36,4.6L3.59,5.52L2.82,5.52L2.04,4.6ZM5.24,0.92L6.02,0L6.79,0L7.56,0.92L7.56,4.6L6.79,5.52L6.02,5.52L5.24,4.6Z" stroke="#ffffff" stroke-linejoin="round"/>
<circle cx="107" cy="58" r="22" stroke="#00ff00"/>
<path d="M85.5 58L129.5 55.8L129.5 60.2Z" stroke="#00ff00"/>
<path d="M85.5 58.5H129.5" stroke="#00ff00"/>
<path transform="translate(76.5 57.8) rotate(-90)" d="M-3.5 -2.8L3.5 -2.8M-2.1 -2.8L-2.1 2.8M2.1 -2.8L2.1 2.8M-2.1 0L2.1 0M-2.1 2.8L2.1 2.8M0 -2.8L0 2.8" stroke="#ffffff"/>
<circle cx="1068.7" cy="16" r="13.6" stroke="#00ff00"/>
<path d="M1068.5 2V74.3" stroke="#00ff00"/>
<path d="M1068.7 74.3L1033.2 152.3" stroke="#00ff00"/>
<circle cx="1033.4" cy="151.6" r="1.5" stroke="#00ff00"/>
<path transform="translate(1059.5 52.5) rotate(-90)" d="M-8.17,1.06L-7.29,0L-7.29,5.28M-5.7,0.88L-4.96,0L-4.22,0L-3.48,0.88L-3.48,1.76L-5.7,5.28L-3.48,5.28M-0.42,0L-0.42,4.4L-1.16,5.28L-1.9,5.28L-2.64,4.4M0.42,0.88L1.16,0L1.9,0L2.64,0.88L2.64,4.4L1.9,5.28L1.16,5.28L0.42,4.4ZM3.48,0.88L4.22,0L4.96,0L5.7,0.88L5.7,4.4L4.96,5.28L4.22,5.28L3.48,4.4ZM6.55,0L8.76,0L7.58,2.2L8.03,2.2L8.76,3.08L8.76,4.4L8.03,5.28L7.29,5.28L6.55,4.4" stroke="#ffffff" stroke-linejoin="round"/>
<path transform="translate(1077.7 38.5) rotate(-90)" d="M-4.91 -3.5L-4.91 3.5M-6.4 -1.05L-3.42 -1.05M-3.12 -2.45L-0.45 -2.45M-1.93 -2.45L-1.93 3.5M-3.12 0.7L-0.45 0.7M-6.1 1.4L-3.72 0.35M-3.12 3.5L-0.45 3.5M1.34 -3.5L1.34 3.5M0.45 -1.75L2.53 -1.75M0.45 0.7L2.53 -0.35M3.12 -2.8L6.4 -2.8M3.12 -0.7L6.4 -0.7M4.61 -2.8L4.61 3.5M3.12 1.4L6.4 1.4M3.12 3.5L6.4 3.5" stroke="#ffffff" stroke-width="1.5"/>
<path transform="translate(1060.5 16.5) rotate(-90)" d="M-2.4,4.8L-1.39,0L-0.38,4.8M-2,3.2L-0.79,3.2M0.38,0L2.4,0L1.06,4.8" stroke="#ffffff" stroke-linejoin="round"/>
<path transform="translate(1072.5 16.5) rotate(-90)" d="M-1.86,0.96L-1.06,0L-1.06,4.8M0.38,0.8L1.06,0L1.73,0L2.4,0.8L2.4,4L1.73,4.8L1.06,4.8L0.38,4Z" stroke="#ffffff" stroke-linejoin="round"/>
<circle cx="1168" cy="58.7" r="13.5" stroke="#00ff00"/>
<path d="M1168.5 45V123.8" stroke="#00ff00"/>
<path d="M1168 123.8L1127.6 153.9" stroke="#00ff00"/>
<circle cx="1127.6" cy="153.9" r="1.5" stroke="#00ff00"/>
<path transform="translate(1159.5 94.5) rotate(-90)" d="M-8.17,1.06L-7.29,0L-7.29,5.28M-5.7,0.88L-4.96,0L-4.22,0L-3.48,0.88L-3.48,1.76L-5.7,5.28L-3.48,5.28M-0.42,0L-0.42,4.4L-1.16,5.28L-1.9,5.28L-2.64,4.4M0.42,0.88L1.16,0L1.9,0L2.64,0.88L2.64,4.4L1.9,5.28L1.16,5.28L0.42,4.4ZM3.48,0.88L4.22,0L4.96,0L5.7,0.88L5.7,4.4L4.96,5.28L4.22,5.28L3.48,4.4ZM6.55,0L8.76,0L7.58,2.2L8.03,2.2L8.76,3.08L8.76,4.4L8.03,5.28L7.29,5.28L6.55,4.4" stroke="#ffffff" stroke-linejoin="round"/>
<path transform="translate(1176.3 84.2) rotate(-90)" d="M-9.88 -2.55L-4.78 -2.55M-7.33 -4.25L-7.33 4.25M-9.88 0.85L-4.78 0.85M-9.56 4.25L-5.1 4.25M-9.88 -2.55L-9.88 0.85M-4.78 -2.55L-4.78 0.85M-1.91 -4.25L-1.91 4.25M-1.91 -2.55L0.32 -3.4M0.64 -4.25L0.64 4.25M0.64 -1.7L3.19 -1.7M0.64 1.28L3.19 1.28M3.19 -1.7L3.19 4.25M-3.19 0L-0.64 0M0.64 4.25L3.19 4.25M5.1 -4.25L5.1 4.25M4.14 -2.12L6.37 -2.12M4.14 0.85L6.37 -0.42M7.01 -3.4L10.52 -3.4M7.01 -0.85L10.52 -0.85M8.61 -3.4L8.61 4.25M7.01 1.7L10.52 1.7M7.01 4.25L10.52 4.25" stroke="#ffffff" stroke-width="1.6"/>
<path transform="translate(1173.5 108.5) rotate(-90)" d="M-3.59,0L-2.82,0L-2.04,0.92L-2.04,1.84L-2.82,2.76L-3.59,2.76L-4.36,1.84L-4.36,0.92ZM-3.59,2.76L-4.36,3.68L-4.36,4.6L-3.59,5.52L-2.82,5.52L-2.04,4.6L-2.04,3.68L-2.82,2.76M-1.16,0.92L-0.39,0L0.39,0L1.16,0.92L1.16,4.6L0.39,5.52L-0.39,5.52L-1.16,4.6ZM3.9,5.52L3.9,0L2.04,3.68L4.52,3.68" stroke="#ffffff" stroke-linejoin="round"/>
<path transform="translate(1176.3 115) rotate(-90)" d="M-1.68 -3.5L-1.68 3.5M-1.68 -2.1L0.28 -2.8M0.56 -3.5L0.56 3.5M0.56 -1.4L2.8 -1.4M0.56 1.05L2.8 1.05M2.8 -1.4L2.8 3.5M-2.8 0L-0.56 0M0.56 3.5L2.8 3.5" stroke="#ffffff" stroke-width="1.5"/>
<path transform="translate(1160.5 58.5) rotate(-90)" d="M-2.4,4.8L-1.39,0L-0.38,4.8M-2,3.2L-0.79,3.2M0.92,0.96L1.73,0L1.73,4.8" stroke="#ffffff" stroke-linejoin="round"/>
<path transform="translate(1171.5 58.5) rotate(-90)" d="M-0.79,4.8L-0.79,0L-2.4,3.2L-0.25,3.2M0.38,4.8L1.39,0L2.4,4.8M0.79,3.2L2,3.2" stroke="#ffffff" stroke-linejoin="round"/>
<path d="M205.5 441.8V458.6" stroke="#00ff00"/>
<path d="M205.2 450L210.9 446.5L210.9 453.5Z" stroke="#00ff00"/>
<path d="M210.5 446.9V475.3" stroke="#00ff00"/>
<path transform="translate(214.5 469.5) rotate(-90)" d="M-7,2.2L-5.76,2.2M-4.75,0.73L-4.14,0L-3.52,0L-2.9,0.73L-2.9,3.67L-3.52,4.4L-4.14,4.4L-4.75,3.67ZM-1.46,3.96L-1.46,4.4M0.84,0.88L1.58,0L1.58,4.4M4.75,0L2.9,0L2.9,1.83L4.14,1.83L4.75,2.57L4.75,3.67L4.14,4.4L3.52,4.4L2.9,3.67M5.46,0.73L6.07,0L6.69,0L7.3,0.73L7.3,3.67L6.69,4.4L6.07,4.4L5.46,3.67Z" stroke="#ffffff" stroke-linejoin="round"/>
<path d="M607.5 106.5V122.2" stroke="#00ff00"/>
<path d="M607.3 114.5L613.3 111L613.3 118Z" stroke="#00ff00"/>
<path d="M613.5 111.5V139" stroke="#00ff00"/>
<path transform="translate(616.5 133.5) rotate(-90)" d="M-7,2.2L-5.76,2.2M-4.75,0.73L-4.14,0L-3.52,0L-2.9,0.73L-2.9,3.67L-3.52,4.4L-4.14,4.4L-4.75,3.67ZM-1.46,3.96L-1.46,4.4M0.84,0.88L1.58,0L1.58,4.4M4.75,0L2.9,0L2.9,1.83L4.14,1.83L4.75,2.57L4.75,3.67L4.14,4.4L3.52,4.4L2.9,3.67M5.46,0.73L6.07,0L6.69,0L7.3,0.73L7.3,3.67L6.69,4.4L6.07,4.4L5.46,3.67Z" stroke="#ffffff" stroke-linejoin="round"/>
<path d="M238.5 173.5H252.5V187.5H238.5Z" stroke="#a8a8a8"/>
<path d="M238.5 332.5H252.5V346.5H238.5Z" stroke="#a8a8a8"/>
<path d="M238.5 496.5H252.5V511.5H238.5Z" stroke="#a8a8a8"/>
<path d="M238.4 676.6L252.6 676.6L252.6 665.2" stroke="#a8a8a8"/>
<path d="M238.5 820.5H252.5V835.5H238.5Z" stroke="#a8a8a8"/>
<path d="M378.5 173.5H393.5V187.5H378.5Z" stroke="#a8a8a8"/>
<path d="M378.5 332.5H393.5V346.5H378.5Z" stroke="#a8a8a8"/>
<path d="M378.5 496.5H393.5V511.5H378.5Z" stroke="#a8a8a8"/>
<path d="M378.5 661.5H393.5V676.5H378.5Z" stroke="#a8a8a8"/>
<path d="M378.5 820.5H393.5V835.5H378.5Z" stroke="#a8a8a8"/>
<path d="M525.5 173.5H539.5V187.5H525.5Z" stroke="#a8a8a8"/>
<path d="M525.5 332.5H539.5V346.5H525.5Z" stroke="#a8a8a8"/>
<path d="M525.5 496.5H539.5V511.5H525.5Z" stroke="#a8a8a8"/>
<path d="M525.5 661.5H539.5V676.5H525.5Z" stroke="#a8a8a8"/>
<path d="M525.5 820.5H539.5V835.5H525.5Z" stroke="#a8a8a8"/>
<path d="M671.5 173.5H686.5V187.5H671.5Z" stroke="#a8a8a8"/>
<path d="M671.5 332.5H686.5V346.5H671.5Z" stroke="#a8a8a8"/>
<path d="M671.5 496.5H686.5V511.5H671.5Z" stroke="#a8a8a8"/>
<path d="M671.5 661.5H686.5V676.5H671.5Z" stroke="#a8a8a8"/>
<path d="M671.5 820.5H686.5V835.5H671.5Z" stroke="#a8a8a8"/>
<path d="M818.5 173.5H832.5V187.5H818.5Z" stroke="#a8a8a8"/>
<path d="M818.5 332.5H832.5V346.5H818.5Z" stroke="#a8a8a8"/>
<path d="M818.5 496.5H832.5V511.5H818.5Z" stroke="#a8a8a8"/>
<path d="M818.5 661.5H832.5V676.5H818.5Z" stroke="#a8a8a8"/>
<path d="M818.5 820.5H832.5V835.5H818.5Z" stroke="#a8a8a8"/>
<path d="M964.5 173.5H979.5V187.5H964.5Z" stroke="#a8a8a8"/>
<path d="M964.5 332.5H979.5V346.5H964.5Z" stroke="#a8a8a8"/>
<path d="M964.5 496.5H979.5V511.5H964.5Z" stroke="#a8a8a8"/>
<path d="M964.5 661.5H979.5V676.5H964.5Z" stroke="#a8a8a8"/>
<path d="M964.5 820.5H979.5V835.5H964.5Z" stroke="#a8a8a8"/>
<path d="M1105.5 173.5H1119.5V187.5H1105.5Z" stroke="#a8a8a8"/>
<path d="M1105.5 332.5H1119.5V346.5H1105.5Z" stroke="#a8a8a8"/>
<path d="M1105.5 496.5H1119.5V511.5H1105.5Z" stroke="#a8a8a8"/>
<path d="M1105.5 661.5H1119.5V676.5H1105.5Z" stroke="#a8a8a8"/>
<path d="M1105.5 820.5H1119.5V835.5H1105.5Z" stroke="#a8a8a8"/>
<path d="M324 154.5L219.8 154.5L219.8 853.4L323.6 853.4" stroke="#0000ff"/>
<path d="M219.8 154.5L235 170.5" stroke="#0000ff"/>
<path d="M219.8 853.4L234.6 839.3" stroke="#0000ff"/>
<path d="M1033.8 154.3L1138.6 154.3L1138.6 853.8L1034.5 853.8" stroke="#0000ff"/>
<path d="M1138.6 154.3L1122.6 170.2" stroke="#0000ff"/>
<path d="M1138.6 853.8L1123.2 839.2" stroke="#0000ff"/>
<path d="M532.8 853.5H825.3" stroke="#0000ff"/>
<path d="M324.3 132.5H532.8" stroke="#ffff00"/>
<path d="M324.5 132.3V169.7" stroke="#ffff00"/>
<path d="M532.5 132.3V169.7" stroke="#ffff00"/>
<path d="M325.1 143.52L327.6 169.7" stroke="#ffff00"/>
<path d="M532 143.52L529.5 169.7" stroke="#ffff00"/>
<path d="M825.5 132.5H1033.2" stroke="#ffff00"/>
<path d="M825.5 132.3V169.7" stroke="#ffff00"/>
<path d="M1033.5 132.3V169.7" stroke="#ffff00"/>
<path d="M826.3 143.52L828.8 169.7" stroke="#ffff00"/>
<path d="M1032.4 143.52L1029.9 169.7" stroke="#ffff00"/>
<path d="M324.5 875.5H532.4" stroke="#ffff00"/>
<path d="M324.5 839.3V875.4" stroke="#ffff00"/>
<path d="M532.5 839.3V875.4" stroke="#ffff00"/>
<path d="M325.3 864.57L327.8 839.3" stroke="#ffff00"/>
<path d="M531.6 864.57L529.1 839.3" stroke="#ffff00"/>
<path d="M825.4 875.5H1033.4" stroke="#ffff00"/>
<path d="M825.5 839.3V875.4" stroke="#ffff00"/>
<path d="M1033.5 839.3V875.4" stroke="#ffff00"/>
<path d="M826.2 864.57L828.7 839.3" stroke="#ffff00"/>
<path d="M1032.6 864.57L1030.1 839.3" stroke="#ffff00"/>
<path d="M810.5 132.3V169.7" stroke="#00ff00"/>
<path d="M807 132.5H821" stroke="#00ff00"/>
<path d="M807 169.5H821.3" stroke="#00ff00"/>
<path transform="translate(803.5 151.5) rotate(-90)" d="M-5.18,0L-3.17,0L-4.24,2L-3.84,2L-3.17,2.8L-3.17,4L-3.84,4.8L-4.51,4.8L-5.18,4M-2.4,0.8L-1.73,0L-1.06,0L-0.38,0.8L-0.38,4L-1.06,4.8L-1.73,4.8L-2.4,4ZM0.38,0.8L1.06,0L1.73,0L2.4,0.8L2.4,4L1.73,4.8L1.06,4.8L0.38,4ZM3.17,0.8L3.84,0L4.51,0L5.18,0.8L5.18,4L4.51,4.8L3.84,4.8L3.17,4Z" stroke="#ffffff" stroke-linejoin="round"/>
<path d="M810.5 839.1V875.4" stroke="#00ff00"/>
<path d="M806.6 839.5H821.3" stroke="#00ff00"/>
<path d="M806.6 875.5H820.5" stroke="#00ff00"/>
<path transform="translate(803.5 857.5) rotate(-90)" d="M-5.18,0L-3.17,0L-4.24,2L-3.84,2L-3.17,2.8L-3.17,4L-3.84,4.8L-4.51,4.8L-5.18,4M-2.4,0.8L-1.73,0L-1.06,0L-0.38,0.8L-0.38,4L-1.06,4.8L-1.73,4.8L-2.4,4ZM0.38,0.8L1.06,0L1.73,0L2.4,0.8L2.4,4L1.73,4.8L1.06,4.8L0.38,4ZM3.17,0.8L3.84,0L4.51,0L5.18,0.8L5.18,4L4.51,4.8L3.84,4.8L3.17,4Z" stroke="#ffffff" stroke-linejoin="round"/>
<path d="M304.5 839.5V875.4" stroke="#00ff00"/>
<path d="M300.2 839.5H317" stroke="#00ff00"/>
<path d="M300.2 875.5H318" stroke="#00ff00"/>
<path transform="translate(297.5 857.5) rotate(-90)" d="M-5.18,0.8L-4.51,0L-3.84,0L-3.17,0.8L-3.17,1.6L-5.18,4.8L-3.17,4.8M-2.4,0.8L-1.73,0L-1.06,0L-0.38,0.8L-0.38,4L-1.06,4.8L-1.73,4.8L-2.4,4ZM0.38,0.8L1.06,0L1.73,0L2.4,0.8L2.4,4L1.73,4.8L1.06,4.8L0.38,4ZM3.17,0.8L3.84,0L4.51,0L5.18,0.8L5.18,4L4.51,4.8L3.84,4.8L3.17,4Z" stroke="#ffffff" stroke-linejoin="round"/>
<path d="M234.2 169.5H539.4" stroke="#ffffff"/>
<path d="M818 169.5H1123.8" stroke="#ffffff"/>
<rect x="539" y="169" width="279.6" height="3" fill="#00ffff" stroke="none"/>
<path d="M234.2 173.5H688" stroke="#ffffff"/>
<path d="M818 173.5H1123.8" stroke="#ffffff"/>
<path d="M410.5 168.5H508.5" stroke="#00ffff" stroke-dasharray="4 2"/>
<path d="M849.7 168.5H947.7" stroke="#00ffff" stroke-dasharray="4 2"/>
<path d="M235.4 835.5H539.8" stroke="#ffffff"/>
<path d="M235.4 839.5H539.8" stroke="#ffffff"/>
<path d="M818.4 835.5H1123" stroke="#ffffff"/>
<path d="M818.4 839.5H1123" stroke="#ffffff"/>
<rect x="539.5" y="835" width="279.1" height="3" fill="#00ffff" stroke="none"/>
<path d="M539.5 839.5H818.6" stroke="#00ffff"/>
<path d="M409.7 840.5H508.5" stroke="#00ffff" stroke-dasharray="4 2"/>
<path d="M848.8 840.5H948.1" stroke="#00ffff" stroke-dasharray="4 2"/>
<path d="M234.5 169.2V346" stroke="#ffffff"/>
<path d="M238.5 173V346" stroke="#ffffff"/>
<rect x="234" y="346" width="2.6" height="315.5" fill="#00ffff" stroke="none"/>
<path d="M238.5 346V661.5" stroke="#00ffff"/>
<path d="M235.5 661.5V839.5" stroke="#ffffff"/>
<path d="M238.5 661.5V839.5" stroke="#ffffff"/>
<path d="M1123.5 169.2V346" stroke="#ffffff"/>
<path d="M1119.5 173V346" stroke="#ffffff"/>
<rect x="1121.6" y="346" width="2.4" height="315.6" fill="#00ffff" stroke="none"/>
<path d="M1119.5 346V661.6" stroke="#00ffff"/>
<path d="M1119.5 661.6V839.5" stroke="#ffffff"/>
<path d="M1123.5 661.6V839.5" stroke="#ffffff"/>
<circle cx="236.6" cy="171.6" r="1.5" stroke="#ffffff"/>
<circle cx="1121.4" cy="171.6" r="1.5" stroke="#ffffff"/>
<circle cx="236.8" cy="837.3" r="1.5" stroke="#ffffff"/>
<circle cx="1121.2" cy="837.3" r="1.5" stroke="#ffffff"/>
<rect x="252.7" y="169" width="27.9" height="3" fill="#00ffff" stroke="none"/>
<path d="M252.7 173.5H280.6" stroke="#00ffff"/>
<path transform="translate(266.5 162.5)" d="M-4.32,4L-4.32,0L-3.48,2L-2.64,0L-2.64,4M-2,0.67L-1.44,0L-0.88,0L-0.32,0.67L-0.32,3.33L-0.88,4L-1.44,4L-2,3.33ZM-0.88,3L-0.15,4.2M0.6,2L1.72,2M3.09,0.8L3.76,0L3.76,4" stroke="#ffffff" stroke-linejoin="round"/>
<rect x="1077.2" y="169" width="28.4" height="3" fill="#00ffff" stroke="none"/>
<path d="M1077.2 173.5H1105.6" stroke="#00ffff"/>
<path transform="translate(1091.5 162.5)" d="M-4.32,4L-4.32,0L-3.48,2L-2.64,0L-2.64,4M-2,0.67L-1.44,0L-0.88,0L-0.32,0.67L-0.32,3.33L-0.88,4L-1.44,4L-2,3.33ZM-0.88,3L-0.15,4.2M0.6,2L1.72,2M3.09,0.8L3.76,0L3.76,4" stroke="#ffffff" stroke-linejoin="round"/>
<rect x="252.6" y="836" width="27.9" height="3" fill="#00ffff" stroke="none"/>
<path d="M252.6 835.5H280.5" stroke="#00ffff"/>
<path transform="translate(266.5 842.5)" d="M-4.32,4L-4.32,0L-3.48,2L-2.64,0L-2.64,4M-2,0.67L-1.44,0L-0.88,0L-0.32,0.67L-0.32,3.33L-0.88,4L-1.44,4L-2,3.33ZM-0.88,3L-0.15,4.2M0.6,2L1.72,2M3.09,0.8L3.76,0L3.76,4" stroke="#ffffff" stroke-linejoin="round"/>
<rect x="1077.1" y="836" width="28.4" height="3" fill="#00ffff" stroke="none"/>
<path d="M1077.1 835.5H1105.5" stroke="#00ffff"/>
<path transform="translate(1091.5 842.5)" d="M-4.32,4L-4.32,0L-3.48,2L-2.64,0L-2.64,4M-2,0.67L-1.44,0L-0.88,0L-0.32,0.67L-0.32,3.33L-0.88,4L-1.44,4L-2,3.33ZM-0.88,3L-0.15,4.2M0.6,2L1.72,2M3.09,0.8L3.76,0L3.76,4" stroke="#ffffff" stroke-linejoin="round"/>
<rect x="234" y="187.6" width="3" height="27.9" fill="#00ffff" stroke="none"/>
<path d="M238.5 187.6V215.5" stroke="#00ffff"/>
<rect x="1121" y="187.6" width="3" height="27.9" fill="#00ffff" stroke="none"/>
<path d="M1119.5 187.6V215.5" stroke="#00ffff"/>
<rect x="234" y="292.3" width="3" height="27.3" fill="#00ffff" stroke="none"/>
<path d="M238.5 292.3V319.6" stroke="#00ffff"/>
<rect x="1121" y="292.3" width="3" height="27.3" fill="#00ffff" stroke="none"/>
<path d="M1119.5 292.3V319.6" stroke="#00ffff"/>
<path transform="translate(227.5 201.5) rotate(-90)" d="M-4.32,4L-4.32,0L-3.48,2L-2.64,0L-2.64,4M-2,0.67L-1.44,0L-0.88,0L-0.32,0.67L-0.32,3.33L-0.88,4L-1.44,4L-2,3.33ZM-0.88,3L-0.15,4.2M0.6,2L1.72,2M3.09,0.8L3.76,0L3.76,4" stroke="#ffffff" stroke-linejoin="round"/>
<path transform="translate(227.5 306.5) rotate(-90)" d="M-4.32,4L-4.32,0L-3.48,2L-2.64,0L-2.64,4M-2,0.67L-1.44,0L-0.88,0L-0.32,0.67L-0.32,3.33L-0.88,4L-1.44,4L-2,3.33ZM-0.88,3L-0.15,4.2M0.6,2L1.72,2M3.09,0.8L3.76,0L3.76,4" stroke="#ffffff" stroke-linejoin="round"/>
<path transform="translate(1126.5 201.5) rotate(-90)" d="M-4.32,4L-4.32,0L-3.48,2L-2.64,0L-2.64,4M-2,0.67L-1.44,0L-0.88,0L-0.32,0.67L-0.32,3.33L-0.88,4L-1.44,4L-2,3.33ZM-0.88,3L-0.15,4.2M0.6,2L1.72,2M3.09,0.8L3.76,0L3.76,4" stroke="#ffffff" stroke-linejoin="round"/>
<path transform="translate(1126.5 306.5) rotate(-90)" d="M-4.32,4L-4.32,0L-3.48,2L-2.64,0L-2.64,4M-2,0.67L-1.44,0L-0.88,0L-0.32,0.67L-0.32,3.33L-0.88,4L-1.44,4L-2,3.33ZM-0.88,3L-0.15,4.2M0.6,2L1.72,2M3.09,0.8L3.76,0L3.76,4" stroke="#ffffff" stroke-linejoin="round"/>
<rect x="234.4" y="681.1" width="2.6" height="28.4" fill="#00ffff" stroke="none"/>
<path d="M238.5 681.1V709.5" stroke="#00ffff"/>
<rect x="234.4" y="727.2" width="2.6" height="27.2" fill="#00ffff" stroke="none"/>
<path d="M238.5 727.2V754.4" stroke="#00ffff"/>
<path transform="translate(227.5 696.5) rotate(-90)" d="M-4.32,4L-4.32,0L-3.48,2L-2.64,0L-2.64,4M-2,0.67L-1.44,0L-0.88,0L-0.32,0.67L-0.32,3.33L-0.88,4L-1.44,4L-2,3.33ZM-0.88,3L-0.15,4.2M0.6,2L1.72,2M2.64,0.67L3.2,0L3.76,0L4.32,0.67L4.32,1.33L2.64,4L4.32,4" stroke="#ffffff" stroke-linejoin="round"/>
<path transform="translate(227.5 741.5) rotate(-90)" d="M-4.32,4L-4.32,0L-3.48,2L-2.64,0L-2.64,4M-2,0.67L-1.44,0L-0.88,0L-0.32,0.67L-0.32,3.33L-0.88,4L-1.44,4L-2,3.33ZM-0.88,3L-0.15,4.2M0.6,2L1.72,2M2.64,0.67L3.2,0L3.76,0L4.32,0.67L4.32,1.33L2.64,4L4.32,4" stroke="#ffffff" stroke-linejoin="round"/>
<rect x="1121" y="681.2" width="2.6" height="27.9" fill="#00ffff" stroke="none"/>
<path d="M1119.5 681.2V709.1" stroke="#00ffff"/>
<path transform="translate(1126.5 695.5) rotate(-90)" d="M-4.32,4L-4.32,0L-3.48,2L-2.64,0L-2.64,4M-2,0.67L-1.44,0L-0.88,0L-0.32,0.67L-0.32,3.33L-0.88,4L-1.44,4L-2,3.33ZM-0.88,3L-0.15,4.2M0.6,2L1.72,2M2.64,0.67L3.2,0L3.76,0L4.32,0.67L4.32,1.33L2.64,4L4.32,4" stroke="#ffffff" stroke-linejoin="round"/>
<path transform="translate(227.5 504.5) rotate(-90)" d="M-4.46,0.6L-4.97,0L-5.47,0L-5.98,0.6L-5.98,3L-5.47,3.6L-4.97,3.6L-4.46,3M-3.48,0.72L-2.88,0L-2.88,3.6M-1.8,0L-0.29,0L-1.09,1.5L-0.79,1.5L-0.29,2.1L-0.29,3L-0.79,3.6L-1.3,3.6L-1.8,3M0.29,0.6L0.79,0L1.3,0L1.8,0.6L1.8,1.2L0.29,3.6L1.8,3.6M2.38,0.6L2.88,0L3.38,0L3.89,0.6L3.89,1.2L2.38,3.6L3.89,3.6M5.98,0.6L5.47,0L4.97,0L4.46,0.6L4.46,3L4.97,3.6L5.47,3.6L5.98,3L5.98,2.1L5.47,1.5L4.46,1.5" stroke="#ffffff" stroke-linejoin="round"/>
<path transform="translate(1127.5 503.5) rotate(-90)" d="M-4.46,0.6L-4.97,0L-5.47,0L-5.98,0.6L-5.98,3L-5.47,3.6L-4.97,3.6L-4.46,3M-3.48,0.72L-2.88,0L-2.88,3.6M-1.8,0L-0.29,0L-1.09,1.5L-0.79,1.5L-0.29,2.1L-0.29,3L-0.79,3.6L-1.3,3.6L-1.8,3M0.29,0.6L0.79,0L1.3,0L1.8,0.6L1.8,1.2L0.29,3.6L1.8,3.6M2.38,0.6L2.88,0L3.38,0L3.89,0.6L3.89,1.2L2.38,3.6L3.89,3.6M5.98,0.6L5.47,0L4.97,0L4.46,0.6L4.46,3L4.97,3.6L5.47,3.6L5.98,3L5.98,2.1L5.47,1.5L4.46,1.5" stroke="#ffffff" stroke-linejoin="round"/>
<path transform="translate(678.5 162.5)" d="M-3.8,0.67L-4.36,0L-4.92,0L-5.48,0.67L-5.48,3.33L-4.92,4L-4.36,4L-3.8,3.33M-2.71,0.8L-2.04,0L-2.04,4M0.84,0.67L0.28,0L-0.28,0L-0.84,0.67L-0.84,3.33L-0.28,4L0.28,4L0.84,3.33L0.84,2.33L0.28,1.67L-0.84,1.67M1.48,0.67L2.04,0L2.6,0L3.16,0.67L3.16,1.33L1.48,4L3.16,4M5.48,0L3.8,0L3.8,1.67L4.92,1.67L5.48,2.33L5.48,3.33L4.92,4L4.36,4L3.8,3.33" stroke="#ffffff" stroke-linejoin="round"/>
<path transform="translate(678.5 841.5)" d="M-3.8,0.67L-4.36,0L-4.92,0L-5.48,0.67L-5.48,3.33L-4.92,4L-4.36,4L-3.8,3.33M-2.71,0.8L-2.04,0L-2.04,4M0.84,0.67L0.28,0L-0.28,0L-0.84,0.67L-0.84,3.33L-0.28,4L0.28,4L0.84,3.33L0.84,2.33L0.28,1.67L-0.84,1.67M1.48,0.67L2.04,0L2.6,0L3.16,0.67L3.16,1.33L1.48,4L3.16,4M5.48,0L3.8,0L3.8,1.67L4.92,1.67L5.48,2.33L5.48,3.33L4.92,4L4.36,4L3.8,3.33" stroke="#ffffff" stroke-linejoin="round"/>
<path d="M335.5 171.5V157.25" stroke="#00ffff"/>
<path d="M362.5 171.5V157.25" stroke="#00ffff"/>
<path d="M335.3 157.25A14.25 14.25 0 0 1 348.69 166.63" stroke="#00ffff"/>
<path d="M362.2 157.25A14.25 14.25 0 0 0 348.81 166.63" stroke="#00ffff"/>
<path d="M995.5 171.5V157.3" stroke="#00ffff"/>
<path d="M1022.5 171.5V157.3" stroke="#00ffff"/>
<path d="M995.7 157.3A14.2 14.2 0 0 1 1009.04 166.64" stroke="#00ffff"/>
<path d="M1022.5 157.3A14.2 14.2 0 0 0 1009.16 166.64" stroke="#00ffff"/>
<path d="M335.5 837V851.35" stroke="#00ffff"/>
<path d="M362.5 837V851.35" stroke="#00ffff"/>
<path d="M335.3 851.35A14.35 14.35 0 0 0 348.78 841.91" stroke="#00ffff"/>
<path d="M362.4 851.35A14.35 14.35 0 0 1 348.92 841.91" stroke="#00ffff"/>
<path d="M995.5 837V851.2" stroke="#00ffff"/>
<path d="M1022.5 837V851.2" stroke="#00ffff"/>
<path d="M995.9 851.2A14.2 14.2 0 0 0 1009.24 841.86" stroke="#00ffff"/>
<path d="M1022.7 851.2A14.2 14.2 0 0 1 1009.36 841.86" stroke="#00ffff"/>
<path d="M348.5 166.5V171.5" stroke="#00ffff"/>
<path d="M1009.5 166.5V171.5" stroke="#00ffff"/>
<path d="M1120.3 583.5H1137.45" stroke="#00ffff"/>
<path d="M1120.3 616.5H1137.45" stroke="#00ffff"/>
<path d="M1137.45 583.4A17.15 17.15 0 0 1 1126.17 599.52" stroke="#00ffff"/>
<path d="M1137.45 616.1A17.15 17.15 0 0 0 1126.17 599.98" stroke="#00ffff"/>
<path d="M1120.3 599.5H1130" stroke="#00ffff"/>
<path d="M1121.3 718.5H1138.25" stroke="#00ffff"/>
<path d="M1121.3 750.5H1138.25" stroke="#00ffff"/>
<path d="M1138.25 718.5A16.95 16.95 0 0 1 1127.1 734.43" stroke="#00ffff"/>
<path d="M1138.25 750.8A16.95 16.95 0 0 0 1127.1 734.87" stroke="#00ffff"/>
<path d="M1121.3 734.5H1131" stroke="#00ffff"/>
<path transform="translate(347.5 176.5)" d="M-3.42,0L-4.93,0L-4.93,3.6M-4.93,1.8L-3.92,1.8M-2.84,3.6L-2.84,0L-2.09,1.8L-1.33,0L-1.33,3.6M-0.76,0L0.76,0L-0.76,3.6L0.76,3.6M1.33,0.6L1.84,0L2.34,0L2.84,0.6L2.84,1.2L1.33,3.6L2.84,3.6M3.82,0.72L4.43,0L4.43,3.6" stroke="#ffffff" stroke-linejoin="round"/>
<path transform="translate(1008.5 176.5)" d="M-3.42,0L-4.93,0L-4.93,3.6M-4.93,1.8L-3.92,1.8M-2.84,3.6L-2.84,0L-2.09,1.8L-1.33,0L-1.33,3.6M-0.76,0L0.76,0L-0.76,3.6L0.76,3.6M1.33,0.6L1.84,0L2.34,0L2.84,0.6L2.84,1.2L1.33,3.6L2.84,3.6M3.82,0.72L4.43,0L4.43,3.6" stroke="#ffffff" stroke-linejoin="round"/>
<path transform="translate(347.5 828.5)" d="M-3.42,0L-4.93,0L-4.93,3.6M-4.93,1.8L-3.92,1.8M-2.84,3.6L-2.84,0L-2.09,1.8L-1.33,0L-1.33,3.6M-0.76,0L0.76,0L-0.76,3.6L0.76,3.6M1.33,0.6L1.84,0L2.34,0L2.84,0.6L2.84,1.2L1.33,3.6L2.84,3.6M3.82,0.72L4.43,0L4.43,3.6" stroke="#ffffff" stroke-linejoin="round"/>
<path transform="translate(1009.5 828.5)" d="M-3.42,0L-4.93,0L-4.93,3.6M-4.93,1.8L-3.92,1.8M-2.84,3.6L-2.84,0L-2.09,1.8L-1.33,0L-1.33,3.6M-0.76,0L0.76,0L-0.76,3.6L0.76,3.6M1.33,0.6L1.84,0L2.34,0L2.84,0.6L2.84,1.2L1.33,3.6L2.84,3.6M3.82,0.72L4.43,0L4.43,3.6" stroke="#ffffff" stroke-linejoin="round"/>
<path transform="translate(459.5 176.5)" d="M-5.51,0L-5.51,3L-6.01,3.6L-6.52,3.6L-7.02,3M-4.93,0L-4.93,3.6L-3.42,3.6M-2.84,3.6L-2.84,0L-2.09,1.8L-1.33,0L-1.33,3.6M0.76,0L-0.76,0L-0.76,1.5L0.25,1.5L0.76,2.1L0.76,3L0.25,3.6L-0.25,3.6L-0.76,3M1.33,0.6L1.84,0L2.34,0L2.84,0.6L2.84,3L2.34,3.6L1.84,3.6L1.33,3ZM3.82,0.72L4.43,0L4.43,3.6M7.02,0L5.51,0L5.51,1.5L6.52,1.5L7.02,2.1L7.02,3L6.52,3.6L6.01,3.6L5.51,3" stroke="#ffffff" stroke-linejoin="round"/>
<path transform="translate(897.5 176.5)" d="M-5.51,0L-5.51,3L-6.01,3.6L-6.52,3.6L-7.02,3M-4.93,0L-4.93,3.6L-3.42,3.6M-2.84,3.6L-2.84,0L-2.09,1.8L-1.33,0L-1.33,3.6M0.76,0L-0.76,0L-0.76,1.5L0.25,1.5L0.76,2.1L0.76,3L0.25,3.6L-0.25,3.6L-0.76,3M1.33,0.6L1.84,0L2.34,0L2.84,0.6L2.84,3L2.34,3.6L1.84,3.6L1.33,3ZM3.82,0.72L4.43,0L4.43,3.6M7.02,0L5.51,0L5.51,1.5L6.52,1.5L7.02,2.1L7.02,3L6.52,3.6L6.01,3.6L5.51,3" stroke="#ffffff" stroke-linejoin="round"/>
<path transform="translate(459.5 828.5)" d="M-5.51,0L-5.51,3L-6.01,3.6L-6.52,3.6L-7.02,3M-4.93,0L-4.93,3.6L-3.42,3.6M-2.84,3.6L-2.84,0L-2.09,1.8L-1.33,0L-1.33,3.6M0.76,0L-0.76,0L-0.76,1.5L0.25,1.5L0.76,2.1L0.76,3L0.25,3.6L-0.25,3.6L-0.76,3M1.33,0.6L1.84,0L2.34,0L2.84,0.6L2.84,3L2.34,3.6L1.84,3.6L1.33,3ZM3.82,0.72L4.43,0L4.43,3.6M7.02,0L5.51,0L5.51,1.5L6.52,1.5L7.02,2.1L7.02,3L6.52,3.6L6.01,3.6L5.51,3" stroke="#ffffff" stroke-linejoin="round"/>
<path transform="translate(897.5 828.5)" d="M-5.51,0L-5.51,3L-6.01,3.6L-6.52,3.6L-7.02,3M-4.93,0L-4.93,3.6L-3.42,3.6M-2.84,3.6L-2.84,0L-2.09,1.8L-1.33,0L-1.33,3.6M0.76,0L-0.76,0L-0.76,1.5L0.25,1.5L0.76,2.1L0.76,3L0.25,3.6L-0.25,3.6L-0.76,3M1.33,0.6L1.84,0L2.34,0L2.84,0.6L2.84,3L2.34,3.6L1.84,3.6L1.33,3ZM3.82,0.72L4.43,0L4.43,3.6M7.02,0L5.51,0L5.51,1.5L6.52,1.5L7.02,2.1L7.02,3L6.52,3.6L6.01,3.6L5.51,3" stroke="#ffffff" stroke-linejoin="round"/>
<path d="M305 171.5A14 14 0 0 1 319 157.5" stroke="#ffffff"/>
<path d="M317.5 155.5H319.5V170.5H317.5Z" stroke="#ffffff"/>
<path d="M305.5 166V173.4" stroke="#ffffff"/>
<path d="M204.2 857.6L264.5 829.5" stroke="#00ff00"/>
<path d="M204.2 857.5H248.4" stroke="#00ff00"/>
<path transform="translate(222 852.6)" d="M-9.07 -1.1L-3.57 -1.1M-6.32 -2.75L-6.32 0.28M-6.32 0.28L-9.07 2.75M-6.32 0.28L-3.57 2.75M-7.97 -2.48L-4.67 -2.48M-7.7 1.1L-4.95 1.1M-1.38 -2.75L-1.38 2.75M-2.75 -0.83L0 -0.83M0.28 -1.93L2.75 -1.93M1.38 -1.93L1.38 2.75M0.28 0.55L2.75 0.55M-2.48 1.1L-0.27 0.28M0.28 2.75L2.75 2.75M4.67 -2.75L4.67 2.75M4.67 -1.65L6.6 -2.2M6.87 -2.75L6.87 2.75M6.87 -1.1L9.07 -1.1M6.87 0.83L9.07 0.83M9.07 -1.1L9.07 2.75M3.57 0L5.77 0M6.87 2.75L9.07 2.75" stroke="#ffffff"/>
<path transform="translate(240.5 850.5)" d="M-3.76,0L-3.2,0L-2.64,0.67L-2.64,1.33L-3.2,2L-3.76,2L-4.32,1.33L-4.32,0.67ZM-3.76,2L-4.32,2.67L-4.32,3.33L-3.76,4L-3.2,4L-2.64,3.33L-2.64,2.67L-3.2,2M-2,0.67L-1.44,0L-0.88,0L-0.32,0.67L-0.32,3.33L-0.88,4L-1.44,4L-2,3.33ZM0.32,0.67L0.88,0L1.44,0L2,0.67L2,3.33L1.44,4L0.88,4L0.32,3.33ZM3.31,3.6L3.31,4" stroke="#ffffff" stroke-linejoin="round"/>
<path d="M322.5 173.4V249.4" stroke="#ffffff"/>
<path d="M329.5 173.4V255.6" stroke="#ffffff"/>
<path d="M238 249.5H322.8" stroke="#ffffff"/>
<path d="M238 255.5H330" stroke="#ffffff"/>
<path d="M322.3 231.5H329.5" stroke="#ffffff"/>
<path d="M322.3 245.5H329.5" stroke="#ffffff"/>
<path d="M324 221.5h1M327 188.5h1M326 199.5h1M326 218.5h1M324 176.5h1M327 198.5h1M327 174.5h1M325 214.5h1M324 227.5h1M328 176.5h1M323 204.5h1M328 195.5h1M324 198.5h1M323 187.5h1M325 202.5h1M324 187.5h1M324 200.5h1M325 175.5h1M327 205.5h1M326 185.5h1M328 222.5h1M324 193.5h1M327 214.5h1M328 198.5h1M327 211.5h1M325 207.5h1M328 221.5h1M326 207.5h1M323 188.5h1M327 197.5h1M324 205.5h1M327 212.5h1M325 199.5h1M326 217.5h1M326 196.5h1M326 176.5h1" stroke="#fff"/>
<path d="M328 253.5h1M323 247.5h1M327 252.5h1M327 249.5h1M326 251.5h1M326 247.5h1" stroke="#fff"/>
<path d="M258 252.5h1M269 253.5h1M290 251.5h1M240 254.5h1M260 251.5h1M321 252.5h1M308 252.5h1M291 251.5h1M291 254.5h1M282 253.5h1M294 251.5h1M301 253.5h1M264 250.5h1M310 252.5h1M298 254.5h1M298 254.5h1M271 253.5h1M275 254.5h1M311 251.5h1M250 251.5h1M318 252.5h1M290 251.5h1M281 252.5h1M268 253.5h1M287 254.5h1M295 254.5h1M309 254.5h1M294 251.5h1M310 254.5h1M313 253.5h1M298 251.5h1M307 253.5h1M262 251.5h1M309 254.5h1M246 253.5h1M273 251.5h1M263 253.5h1M311 250.5h1M289 250.5h1M298 252.5h1M311 254.5h1M280 254.5h1M264 251.5h1M288 250.5h1M255 252.5h1M289 251.5h1M242 254.5h1M265 254.5h1M313 252.5h1M277 252.5h1M292 253.5h1M285 253.5h1M316 252.5h1M274 253.5h1M258 251.5h1M319 252.5h1M284 250.5h1M273 253.5h1M240 253.5h1M291 251.5h1" stroke="#fff"/>
<path d="M322.3 231.6A14 14 0 0 0 308.3 245.6" stroke="#ff0000" stroke-dasharray="3 2"/>
<path d="M308.3 245.5H322.3" stroke="#ffffff"/>
<path d="M265 210.5h1M265 211.5h1M265 212.5h1M265 213.5h1M265 214.5h1M266 210.5h1M266 211.5h1M266 212.5h1M267 210.5h1M267 213.5h1M267 214.5h1M268 210.5h1M268 211.5h1M268 212.5h1M269 210.5h1M269 211.5h1M269 213.5h1M269 214.5h1M271 212.5h1M271 213.5h1M271 214.5h1M272 211.5h1M272 212.5h1M272 213.5h1M272 214.5h1M273 211.5h1M273 213.5h1M273 214.5h1M274 211.5h1M274 213.5h1M274 214.5h1M275 211.5h1M275 213.5h1M277 211.5h1M277 212.5h1M277 213.5h1M277 214.5h1M278 210.5h1M278 211.5h1M278 212.5h1M278 213.5h1M279 210.5h1M279 211.5h1M279 212.5h1M279 213.5h1M279 214.5h1M280 211.5h1M280 212.5h1M280 213.5h1M280 214.5h1M281 211.5h1M281 214.5h1M283 210.5h1M283 213.5h1M283 214.5h1M284 211.5h1M284 212.5h1M284 213.5h1M285 210.5h1M285 211.5h1M285 212.5h1M286 210.5h1M286 212.5h1M286 213.5h1" stroke="#00ff00"/>
<path d="M258 232.5h1M258 233.5h1M259 232.5h1M259 233.5h1M260 231.5h1M260 232.5h1M260 234.5h1M261 231.5h1M261 232.5h1M261 233.5h1M263 231.5h1M263 232.5h1M263 233.5h1" stroke="#00ff00"/>
<path d="M259.3 249L259.3 237.2L271 237.2" stroke="#ffffff"/>
<path d="M238.5 255.5H254.5V282.5H238.5Z" stroke="#ff0000"/>
<path d="M240.5 287.5H252.5V303.5H240.5Z" stroke="#ff0000"/>
<path d="M238.5 307.5H263.5V331.5H238.5Z" stroke="#ff0000"/>
<path d="M238 266.5h1M238 267.5h1M238 268.5h1M238 269.5h1M238 270.5h1M239 267.5h1M239 268.5h1M239 269.5h1M239 270.5h1M240 267.5h1M240 268.5h1M240 269.5h1M240 270.5h1M241 266.5h1M241 267.5h1M241 268.5h1M241 269.5h1M241 270.5h1M242 266.5h1M242 267.5h1M242 268.5h1M242 269.5h1M244 267.5h1M244 268.5h1M244 269.5h1M244 270.5h1M245 266.5h1M245 267.5h1M245 268.5h1M245 269.5h1M245 270.5h1M246 267.5h1M246 268.5h1M246 269.5h1M247 266.5h1M247 267.5h1M247 268.5h1M248 267.5h1M248 268.5h1M248 269.5h1M250 267.5h1M250 269.5h1M251 266.5h1M251 267.5h1M251 268.5h1M251 269.5h1M252 266.5h1M252 267.5h1M252 268.5h1M252 269.5h1M252 270.5h1M253 266.5h1M253 267.5h1M253 268.5h1M253 269.5h1M254 266.5h1M254 267.5h1M254 269.5h1M256 267.5h1M256 268.5h1M256 269.5h1M257 266.5h1M257 268.5h1M257 269.5h1M258 266.5h1M258 268.5h1M258 269.5h1M259 267.5h1M259 268.5h1M259 269.5h1M259 270.5h1M260 266.5h1M260 267.5h1M260 268.5h1M260 269.5h1M262 268.5h1M263 266.5h1M263 270.5h1M264 267.5h1M264 268.5h1M264 269.5h1" stroke="#00ff00"/>
<path d="M238 295.5h1M238 296.5h1M238 298.5h1M239 294.5h1M239 295.5h1M239 296.5h1M239 297.5h1M240 294.5h1M240 298.5h1M241 296.5h1M242 294.5h1M242 295.5h1M242 297.5h1M244 294.5h1M244 295.5h1M244 296.5h1M244 297.5h1M244 298.5h1M245 297.5h1M245 298.5h1M246 295.5h1M246 298.5h1M247 295.5h1M247 296.5h1M247 298.5h1M248 294.5h1M248 295.5h1M248 296.5h1M248 297.5h1M250 295.5h1M250 296.5h1M250 297.5h1M251 294.5h1M251 295.5h1M251 296.5h1M251 297.5h1M252 295.5h1M252 296.5h1M252 297.5h1M253 294.5h1M253 295.5h1M253 296.5h1M253 297.5h1M254 295.5h1M254 296.5h1M254 297.5h1M254 298.5h1M256 294.5h1M256 297.5h1M257 295.5h1M257 296.5h1M257 297.5h1M258 294.5h1M258 295.5h1M258 296.5h1M258 297.5h1M258 298.5h1M259 297.5h1M259 298.5h1M260 295.5h1M260 297.5h1M260 298.5h1M262 294.5h1M262 295.5h1M262 296.5h1M262 297.5h1M263 294.5h1M263 295.5h1M263 297.5h1" stroke="#00ff00"/>
<path d="M238 317.5h1M238 318.5h1M238 319.5h1M238 320.5h1M239 317.5h1M239 318.5h1M239 319.5h1M239 320.5h1M240 317.5h1M240 319.5h1M240 320.5h1M240 321.5h1M241 318.5h1M241 319.5h1M241 320.5h1M241 321.5h1M242 317.5h1M242 318.5h1M242 319.5h1M242 320.5h1M244 319.5h1M244 320.5h1M245 318.5h1M245 319.5h1M246 318.5h1M246 319.5h1M246 320.5h1M246 321.5h1M247 317.5h1M247 318.5h1M247 320.5h1M248 318.5h1M248 321.5h1M250 317.5h1M250 318.5h1M250 319.5h1M250 320.5h1M250 321.5h1M251 319.5h1M251 320.5h1M251 321.5h1M252 318.5h1M252 319.5h1M252 320.5h1M252 321.5h1M253 317.5h1M253 318.5h1M253 319.5h1M253 320.5h1M254 318.5h1M254 319.5h1M254 320.5h1M254 321.5h1M256 317.5h1M256 319.5h1M256 320.5h1M256 321.5h1M257 317.5h1M257 318.5h1M258 317.5h1M258 318.5h1M258 320.5h1M258 321.5h1M259 317.5h1M259 318.5h1M259 319.5h1M259 320.5h1M259 321.5h1M260 317.5h1M260 318.5h1M260 319.5h1M260 320.5h1M262 318.5h1M262 319.5h1M262 320.5h1M263 317.5h1M263 318.5h1M263 319.5h1M263 320.5h1M263 321.5h1" stroke="#00ff00"/>
<path d="M297.5 255.6V345.5" stroke="#ffffff"/>
<path d="M238 311.5H329.5" stroke="#ffffff"/>
<path transform="translate(283.5 302.5)" d="M-5.41,6.56L-5.41,0L-8.04,4.37L-4.54,4.37M-3.77,5.47L-2.68,6.56L-1.59,6.56L-0.49,5.47L-0.49,1.09L-1.59,0L-2.68,0L-3.77,1.09L-3.77,2.73L-2.68,3.83L-0.49,3.83M0.49,1.09L1.59,0L2.68,0L3.77,1.09L3.77,5.47L2.68,6.56L1.59,6.56L0.49,5.47ZM4.76,1.09L5.85,0L6.94,0L8.04,1.09L8.04,5.47L6.94,6.56L5.85,6.56L4.76,5.47Z" stroke="#ffffff" stroke-linejoin="round"/>
<path transform="translate(288.5 300.5) rotate(-90)" d="M-5.41,6.56L-5.41,0L-8.04,4.37L-4.54,4.37M-3.77,5.47L-2.68,6.56L-1.59,6.56L-0.49,5.47L-0.49,1.09L-1.59,0L-2.68,0L-3.77,1.09L-3.77,2.73L-2.68,3.83L-0.49,3.83M0.49,1.09L1.59,0L2.68,0L3.77,1.09L3.77,5.47L2.68,6.56L1.59,6.56L0.49,5.47ZM4.76,1.09L5.85,0L6.94,0L8.04,1.09L8.04,5.47L6.94,6.56L5.85,6.56L4.76,5.47Z" stroke="#ffffff" stroke-linejoin="round"/>
<path transform="translate(281.8 283.7)" d="M-13.14 -4L-13.14 4M-13.89 -2L-12.15 -2M-13.89 0.8L-12.15 -0.4M-11.66 -3.2L-8.93 -3.2M-11.66 -0.8L-8.93 -0.8M-10.42 -3.2L-10.42 4M-11.66 1.6L-8.93 1.6M-11.66 4L-8.93 4M-7.44 -4L-7.44 4M-8.18 -2L-6.45 -2M-8.18 0.8L-6.45 -0.4M-5.95 -3.2L-3.22 -3.2M-5.95 -0.8L-3.22 -0.8M-4.71 -3.2L-4.71 4M-5.95 1.6L-3.22 1.6M-5.95 4L-3.22 4M-1.74 -4L-1.74 4M-2.48 -2L-0.74 -2M-2.48 0.8L-0.74 -0.4M-0.25 -3.2L2.48 -3.2M-0.25 -0.8L2.48 -0.8M0.99 -3.2L0.99 4M-0.25 1.6L2.48 1.6M-0.25 4L2.48 4M3.22 -1.6L8.18 -1.6M5.7 -4L5.7 0.4M5.7 0.4L3.22 4M5.7 0.4L8.18 4M4.22 -3.6L7.19 -3.6M4.46 1.6L6.94 1.6M10.17 -4L10.17 4M8.93 -1.2L11.41 -1.2M11.66 -2.8L13.89 -2.8M12.65 -2.8L12.65 4M11.66 0.8L13.89 0.8M9.18 1.6L11.16 0.4M11.66 4L13.89 4" stroke="#00ff00"/>
<path d="M310.3 257H330" stroke="#00ffff" stroke-width="2"/>
<path d="M329.5 255.6V259" stroke="#00ffff"/>
<path d="M310.3 257.8A19.2 19.2 0 0 0 329.5 277" stroke="#ff0000" stroke-dasharray="3 2"/>
<path d="M310.3 294H330" stroke="#00ffff" stroke-width="2"/>
<path d="M310.3 293.7A19.2 19.2 0 0 1 329.5 274.5" stroke="#ff0000" stroke-dasharray="3 2"/>
<path d="M329 293.7V345.5" stroke="#00ffff" stroke-width="2"/>
<path d="M318.5 304.5H327.5V345.5H318.5Z" stroke="#ff0000" stroke-dasharray="4 2"/>
<path d="M318.6 324.5H327.8" stroke="#ff0000" stroke-dasharray="4 2"/>
<path d="M318.6 304.2L327.8 324.2" stroke="#ff0000" stroke-dasharray="3 2"/>
<path d="M318.6 324.2L327.8 304.2" stroke="#ff0000" stroke-dasharray="3 2"/>
<path d="M318.6 324.2L327.8 345.1" stroke="#ff0000" stroke-dasharray="3 2"/>
<path d="M318.6 345.1L327.8 324.2" stroke="#ff0000" stroke-dasharray="3 2"/>
<path d="M309 318.5h1M309 320.5h1M309 321.5h1M310 318.5h1M310 319.5h1M311 319.5h1M311 320.5h1M311 321.5h1M312 318.5h1M312 319.5h1M312 320.5h1M312 321.5h1M313 318.5h1M313 319.5h1M313 320.5h1M313 321.5h1M315 317.5h1M315 318.5h1M315 319.5h1M315 320.5h1M316 317.5h1M316 318.5h1M316 320.5h1M316 321.5h1M317 317.5h1M317 318.5h1M317 319.5h1M317 320.5h1M317 321.5h1" stroke="#00ff00"/>
<path d="M360 264.5h1M360 265.5h1M360 266.5h1M361 264.5h1M361 265.5h1M361 267.5h1M362 263.5h1M362 265.5h1M363 263.5h1M363 265.5h1M363 266.5h1M363 267.5h1M364 263.5h1M364 264.5h1M364 265.5h1M364 266.5h1M364 267.5h1M366 263.5h1M366 266.5h1M366 267.5h1M367 264.5h1M367 265.5h1M367 266.5h1M367 267.5h1M368 263.5h1M368 264.5h1M368 266.5h1M368 267.5h1" stroke="#00ff00"/>
<path d="M344 339.5h1M344 340.5h1M344 341.5h1M344 342.5h1M345 339.5h1M345 340.5h1M345 343.5h1M346 340.5h1M346 341.5h1M347 339.5h1M347 341.5h1M347 342.5h1M347 343.5h1M348 339.5h1M348 341.5h1M348 342.5h1M348 343.5h1M350 340.5h1M350 341.5h1M351 340.5h1M351 342.5h1M351 343.5h1M352 340.5h1M352 341.5h1M352 342.5h1M353 340.5h1M353 341.5h1M353 342.5h1M353 343.5h1M354 339.5h1M354 340.5h1M354 342.5h1" stroke="#00ff00"/>
<path d="M379 187.6V231.6" stroke="#00ffff" stroke-width="2"/>
<path d="M362 228H379" stroke="#00ffff" stroke-width="2"/>
<path d="M362 227.7A16.4 16.4 0 0 1 378.4 211.3" stroke="#ff0000" stroke-dasharray="3 2"/>
<path d="M379.5 231.6V305" stroke="#ff0000"/>
<path d="M378.5 251.6V305" stroke="#ff0000" stroke-dasharray="4 2"/>
<path d="M379 305V332.6" stroke="#00ffff" stroke-width="2"/>
<path d="M383.5 307.5V322.6" stroke="#00ffff"/>
<path d="M380 307.5H383" stroke="#00ffff"/>
<path d="M396.4 307.5A13.4 13.4 0 0 1 383 320.9" stroke="#ff0000" stroke-dasharray="3 2"/>
<path d="M396.3 308H430.5" stroke="#00ffff" stroke-width="2"/>
<path d="M430 307.5V346" stroke="#00ffff" stroke-width="2"/>
<path d="M395 320.5h1M395 321.5h1M395 322.5h1M395 323.5h1M396 320.5h1M396 321.5h1M396 322.5h1M396 323.5h1M396 324.5h1M397 321.5h1M397 323.5h1M398 320.5h1M398 321.5h1M398 322.5h1M398 323.5h1M398 324.5h1M399 320.5h1M399 321.5h1M399 322.5h1" stroke="#00ff00"/>
<path d="M397.5 179.5H418.5V200.5H397.5Z" stroke="#ffffff"/>
<path d="M401 187.5h1M401 188.5h1M401 189.5h1M401 190.5h1M402 188.5h1M402 189.5h1M402 191.5h1M403 187.5h1M403 188.5h1M403 189.5h1M403 190.5h1M403 191.5h1M404 188.5h1M404 190.5h1M404 191.5h1M405 188.5h1M405 189.5h1M405 190.5h1M405 191.5h1M407 187.5h1M407 188.5h1M407 189.5h1M407 190.5h1M408 187.5h1M408 188.5h1M408 189.5h1M408 190.5h1M409 187.5h1M409 188.5h1M409 189.5h1M409 190.5h1M409 191.5h1M410 187.5h1M410 190.5h1M411 187.5h1M411 189.5h1M411 190.5h1M413 187.5h1M413 188.5h1M413 189.5h1M413 190.5h1" stroke="#00ff00"/>
<path transform="translate(454.2 216.5)" d="M-7.35 -3.75L-7.35 3.75M-8.66 -1.12L-6.04 -1.12M-5.77 -2.62L-3.41 -2.62M-4.72 -2.62L-4.72 3.75M-5.77 0.75L-3.41 0.75M-8.4 1.5L-6.3 0.38M-5.77 3.75L-3.41 3.75M-2.62 -3.75L2.62 -3.75M-2.62 -3.75L-2.62 3.75M2.62 -3.75L2.62 3.75M-2.62 3.75L2.62 3.75M-1.31 -1.5L1.31 -1.5M0 -1.5L0 2.25M-1.31 2.25L1.31 2.25M-1.31 0.38L1.31 0.38M3.41 -3.75L8.66 -3.75M3.41 -3.75L3.41 3.75M8.66 -3.75L8.66 3.75M3.41 3.75L8.66 3.75M4.72 -1.5L7.35 -1.5M6.04 -1.5L6.04 2.25M4.72 2.25L7.35 2.25M4.72 0.38L7.35 0.38" stroke="#00ff00"/>
<path d="M431.5 246.5H489.5V282.5H431.5Z" stroke="#ff0000" stroke-dasharray="4 2"/>
<path transform="translate(445.5 262.8)" d="M-15 -3L-15 3M-16.2 -0.9L-13.8 -0.9M-13.56 -2.1L-11.4 -2.1M-12.6 -2.1L-12.6 3M-13.56 0.6L-11.4 0.6M-15.96 1.2L-14.04 0.3M-13.56 3L-11.4 3M-10.68 -1.2L-5.88 -1.2M-8.28 -3L-8.28 0.3M-8.28 0.3L-10.68 3M-8.28 0.3L-5.88 3M-9.72 -2.7L-6.84 -2.7M-9.48 1.2L-7.08 1.2M-4.68 -1.8L-0.84 -1.8M-2.76 -3L-2.76 3M-4.68 0.6L-0.84 0.6M-4.44 3L-1.08 3M-4.68 -1.8L-4.68 0.6M-0.84 -1.8L-0.84 0.6M1.08 -3L1.08 3M0.36 -1.5L2.04 -1.5M0.36 0.6L2.04 -0.3M2.52 -2.4L5.16 -2.4M2.52 -0.6L5.16 -0.6M3.72 -2.4L3.72 3M2.52 1.2L5.16 1.2M2.52 3L5.16 3M7.08 -3L7.08 3M5.88 -0.9L8.28 -0.9M8.52 -2.1L10.68 -2.1M9.48 -2.1L9.48 3M8.52 0.6L10.68 0.6M6.12 1.2L8.04 0.3M8.52 3L10.68 3M11.4 -2.4L16.2 -2.4M12.36 -2.4L12.36 2.4M15.24 -2.4L15.24 2.4M12.36 0L15.24 0M12.36 2.4L15.24 2.4M13.8 -2.4L13.8 2.4" stroke="#00ff00"/>
<path d="M492.5 191.5H505.5V218.5H492.5Z" stroke="#ffffff"/>
<path d="M508.5 198.5H514.5V209.5H508.5Z" stroke="#ffffff"/>
<path d="M489.5 191.3V218.5" stroke="#ffffff"/>
<path d="M485 191.5H490" stroke="#ffffff"/>
<path d="M485 218.5H490" stroke="#ffffff"/>
<path transform="translate(480.5 205.5) rotate(-90)" d="M-7.16,1.31L-5.85,0L-5.85,6.56M-0.49,0L-3.77,0L-3.77,2.73L-1.59,2.73L-0.49,3.83L-0.49,5.47L-1.59,6.56L-2.68,6.56L-3.77,5.47M0.49,1.09L1.59,0L2.68,0L3.77,1.09L3.77,5.47L2.68,6.56L1.59,6.56L0.49,5.47ZM4.76,1.09L5.85,0L6.94,0L8.04,1.09L8.04,5.47L6.94,6.56L5.85,6.56L4.76,5.47Z" stroke="#ffffff" stroke-linejoin="round"/>
<path d="M494 202.5h1M494 203.5h1M495 202.5h1M496 203.5h1M496 204.5h1M497 201.5h1M497 202.5h1M497 203.5h1M499 201.5h1M499 202.5h1M499 203.5h1M499 204.5h1M500 202.5h1M500 203.5h1M500 204.5h1M501 201.5h1M501 202.5h1M501 203.5h1M501 204.5h1M502 202.5h1M502 203.5h1M504 202.5h1M504 203.5h1M504 204.5h1" stroke="#00ff00"/>
<path d="M522 201.5h1M522 204.5h1M523 201.5h1M523 202.5h1M524 201.5h1M524 203.5h1M525 201.5h1M525 202.5h1M525 204.5h1M527 202.5h1M527 204.5h1M528 201.5h1M528 202.5h1M528 203.5h1M529 203.5h1" stroke="#00ff00"/>
<path d="M528.5 188.5H538.5V223.5H528.5Z" stroke="#ff0000" stroke-dasharray="4 2"/>
<path d="M528.1 188.1L538.6 223.5" stroke="#ff0000" stroke-dasharray="3 2"/>
<path d="M528.1 223.5L538.6 188.1" stroke="#ff0000" stroke-dasharray="3 2"/>
<path d="M521 264.5h1M521 265.5h1M521 266.5h1M521 267.5h1M522 264.5h1M522 265.5h1M522 266.5h1M522 267.5h1M523 264.5h1M523 265.5h1M524 263.5h1M524 264.5h1M524 265.5h1M524 266.5h1M524 267.5h1M525 264.5h1M525 265.5h1M525 266.5h1M525 267.5h1M527 264.5h1M527 265.5h1M527 266.5h1M528 264.5h1M528 265.5h1M528 266.5h1" stroke="#00ff00"/>
<path d="M430.5 332.5H455.5V345.5H430.5Z" stroke="#ff0000" stroke-dasharray="4 2"/>
<path d="M430.3 332.1L455 345.1" stroke="#ff0000" stroke-dasharray="3 2"/>
<path d="M430.3 345.1L455 332.1" stroke="#ff0000" stroke-dasharray="3 2"/>
<path d="M455.5 332.5H481.5V345.5H455.5Z" stroke="#ff0000" stroke-dasharray="4 2"/>
<path d="M455 332.1L481.8 345.1" stroke="#ff0000" stroke-dasharray="3 2"/>
<path d="M455 345.1L481.8 332.1" stroke="#ff0000" stroke-dasharray="3 2"/>
<path d="M437 335.5h1M437 338.5h1M438 336.5h1M438 337.5h1M439 336.5h1M439 338.5h1M440 335.5h1M440 336.5h1M440 337.5h1M442 335.5h1M442 336.5h1M442 337.5h1M442 338.5h1M443 336.5h1M443 337.5h1M443 338.5h1" stroke="#00ff00"/>
<path d="M464 335.5h1M464 336.5h1M464 337.5h1M465 336.5h1M465 338.5h1M466 336.5h1M466 338.5h1M467 335.5h1M467 337.5h1M467 338.5h1M469 335.5h1M469 337.5h1M470 336.5h1M470 337.5h1M470 338.5h1" stroke="#00ff00"/>
<path d="M540 172V231.9" stroke="#00ffff" stroke-width="2"/>
<path d="M539.5 231.9V305" stroke="#ff0000"/>
<path d="M538.5 251.9V305" stroke="#ff0000" stroke-dasharray="4 2"/>
<path d="M540 305V332" stroke="#00ffff" stroke-width="2"/>
<path d="M539.8 328H555" stroke="#00ffff" stroke-width="2"/>
<path d="M539.8 312.4A15.2 15.2 0 0 1 555 327.6" stroke="#ff0000" stroke-dasharray="3 2"/>
<path d="M540.3 193.5H672.5" stroke="#ffffff"/>
<path d="M672.5 187.6V193.1" stroke="#ffffff"/>
<path d="M565.5 173.4V193.1" stroke="#ffffff"/>
<path d="M596.5 173.4V193.1" stroke="#ffffff"/>
<path d="M619.5 173.4V193.1" stroke="#ffffff"/>
<path d="M646.5 173.4V193.1" stroke="#ffffff"/>
<path d="M552 174.5h1M553 174.5h1M550 175.5h1M551 175.5h1M552 175.5h1M553 175.5h1M552 176.5h1M553 176.5h1M551 177.5h1M552 177.5h1M553 177.5h1M554 177.5h1M551 178.5h1M552 178.5h1M553 178.5h1M554 178.5h1M551 180.5h1M552 180.5h1M553 180.5h1M551 181.5h1M552 181.5h1M553 181.5h1M554 181.5h1M550 182.5h1M551 182.5h1M552 182.5h1M553 182.5h1M554 182.5h1M552 183.5h1M553 183.5h1M551 184.5h1M554 184.5h1M551 186.5h1M552 186.5h1M553 186.5h1M554 186.5h1M553 187.5h1M554 187.5h1M551 188.5h1M552 188.5h1M553 188.5h1M550 189.5h1M551 189.5h1M554 189.5h1M550 190.5h1M551 190.5h1M552 190.5h1M553 190.5h1" stroke="#00ff00"/>
<path d="M578 174.5h1M580 174.5h1M581 174.5h1M582 174.5h1M580 175.5h1M581 175.5h1M582 175.5h1M579 176.5h1M580 176.5h1M582 176.5h1M578 177.5h1M579 177.5h1M578 178.5h1M579 178.5h1M580 178.5h1M582 178.5h1M580 180.5h1M578 181.5h1M579 181.5h1M580 181.5h1M581 181.5h1M582 181.5h1M579 182.5h1M581 182.5h1M578 183.5h1M580 183.5h1M582 183.5h1M580 184.5h1M581 184.5h1M579 186.5h1M580 186.5h1M581 186.5h1M582 186.5h1M579 187.5h1M580 187.5h1M581 187.5h1M582 187.5h1M579 188.5h1M582 188.5h1M580 189.5h1M581 189.5h1M582 189.5h1M579 190.5h1M581 190.5h1M582 190.5h1" stroke="#00ff00"/>
<path d="M606 174.5h1M607 174.5h1M609 174.5h1M605 175.5h1M606 175.5h1M607 175.5h1M605 176.5h1M606 176.5h1M608 176.5h1M609 176.5h1M605 177.5h1M607 177.5h1M608 177.5h1M609 177.5h1M605 178.5h1M606 178.5h1M607 178.5h1M608 178.5h1M609 178.5h1M605 180.5h1M608 180.5h1M609 180.5h1M607 181.5h1M608 181.5h1M609 181.5h1M605 182.5h1M606 182.5h1M607 182.5h1M605 183.5h1M606 183.5h1M607 183.5h1M608 183.5h1M605 184.5h1M606 184.5h1M608 184.5h1M609 184.5h1M605 186.5h1M607 186.5h1M608 186.5h1M605 187.5h1M606 187.5h1M607 187.5h1M608 187.5h1M609 187.5h1M605 188.5h1M606 188.5h1M607 188.5h1M608 188.5h1M605 189.5h1M606 189.5h1M607 189.5h1M608 189.5h1M609 189.5h1M606 190.5h1M607 190.5h1M608 190.5h1M609 190.5h1" stroke="#00ff00"/>
<path d="M630 174.5h1M631 174.5h1M632 174.5h1M633 174.5h1M634 174.5h1M630 175.5h1M631 175.5h1M633 175.5h1M630 176.5h1M631 176.5h1M632 176.5h1M633 176.5h1M634 176.5h1M630 177.5h1M631 177.5h1M632 177.5h1M633 177.5h1M634 177.5h1M632 178.5h1M634 178.5h1M631 180.5h1M632 180.5h1M634 180.5h1M630 181.5h1M631 181.5h1M632 181.5h1M633 181.5h1M634 181.5h1M631 182.5h1M632 182.5h1M631 183.5h1M632 183.5h1M633 183.5h1M634 183.5h1M630 184.5h1M631 184.5h1M632 184.5h1M633 184.5h1M634 184.5h1M630 186.5h1M632 186.5h1M634 186.5h1M631 187.5h1M632 187.5h1M633 187.5h1M631 188.5h1M633 188.5h1M634 188.5h1M631 189.5h1M632 189.5h1M633 189.5h1M634 189.5h1M630 190.5h1M631 190.5h1" stroke="#00ff00"/>
<path d="M659 174.5h1M660 174.5h1M661 174.5h1M658 175.5h1M659 175.5h1M660 175.5h1M661 175.5h1M657 176.5h1M658 176.5h1M659 176.5h1M660 176.5h1M657 177.5h1M658 177.5h1M659 177.5h1M661 177.5h1M661 178.5h1M657 180.5h1M658 180.5h1M661 180.5h1M658 181.5h1M659 181.5h1M660 181.5h1M661 181.5h1M657 182.5h1M658 182.5h1M661 182.5h1M657 183.5h1M659 183.5h1M660 183.5h1M658 184.5h1M659 184.5h1M660 184.5h1M658 186.5h1M659 186.5h1M658 187.5h1M659 187.5h1M660 187.5h1M661 187.5h1M658 188.5h1M659 188.5h1M660 188.5h1M661 188.5h1M657 189.5h1M658 189.5h1M659 189.5h1M658 190.5h1M659 190.5h1M661 190.5h1" stroke="#00ff00"/>
<path transform="translate(585.5 205.5)" d="M-13.28,0L-16.56,0L-16.56,6.56M-16.56,3.28L-14.38,3.28M-11.97,2.73L-11.21,2.19L-10.11,2.19L-9.02,3.28L-9.02,6.56M-9.02,4.37L-11.21,4.37L-12.3,5.47L-11.21,6.56L-10.11,6.56L-9.02,5.47M-4.76,2.73L-5.85,2.19L-6.94,2.19L-8.04,3.28L-8.04,5.47L-6.94,6.56L-5.85,6.56L-4.76,6.01M-2.13,2.19L-2.13,6.56M-2.13,0.44L-2.13,1.09M2.13,0L2.13,6.56M6.4,2.19L6.4,6.56M6.4,0.44L6.4,1.09M10.11,0L10.11,5.47L11.21,6.56M9.02,2.19L11.43,2.19M13.28,2.19L14.92,6.56M16.56,2.19L14.38,8.75L13.61,8.75" stroke="#00ff00" stroke-linejoin="round"/>
<path transform="translate(605.5 208.8)" d="M-2.6 -3.25L2.6 -3.25M-2.6 -3.25L-2.6 0M2.6 -3.25L2.6 0M-2.6 0L2.6 0M0 0L0 3.25M-3.25 3.25L3.25 3.25M-1.95 1.62L1.95 1.62M-2.6 -1.62L2.6 -1.62" stroke="#00ff00"/>
<path d="M557.8 228H687" stroke="#00ffff" stroke-width="2"/>
<path d="M541 211A16.7 16.7 0 0 1 557.7 227.7" stroke="#ff0000" stroke-dasharray="3 2"/>
<path d="M541.5 210.2V227.7" stroke="#ffffff"/>
<path d="M587.5 220.5H624.5V227.5H587.5Z" stroke="#ffffff"/>
<path d="M600 222.5h1M600 223.5h1M601 221.5h1M601 223.5h1M602 221.5h1M602 222.5h1M603 221.5h1M603 222.5h1M603 223.5h1M605 221.5h1M605 223.5h1M606 223.5h1M606 224.5h1M607 221.5h1M607 222.5h1M607 223.5h1M608 222.5h1M608 224.5h1M610 221.5h1M610 222.5h1M611 221.5h1M611 222.5h1M611 224.5h1" stroke="#00ff00"/>
<path d="M663.5 211.8V226.9" stroke="#ffffff"/>
<path d="M668 218.5h1M668 219.5h1M668 220.5h1M668 221.5h1M668 222.5h1M669 218.5h1M669 219.5h1M669 220.5h1M669 221.5h1M670 219.5h1M670 221.5h1M671 219.5h1M671 220.5h1M671 221.5h1M671 222.5h1M672 220.5h1M672 221.5h1M672 222.5h1M674 218.5h1M674 219.5h1M674 220.5h1M674 221.5h1M674 222.5h1M675 219.5h1M675 221.5h1M675 222.5h1M676 218.5h1M676 219.5h1M676 222.5h1" stroke="#00ff00"/>
<path d="M590.5 228.5H639.5V238.5H590.5Z" stroke="#ff0000" stroke-dasharray="4 2"/>
<path d="M590.1 228.8L639.7 238.6" stroke="#ff0000" stroke-dasharray="3 2"/>
<path d="M590.1 238.6L639.7 228.8" stroke="#ff0000" stroke-dasharray="3 2"/>
<path d="M608 242.5h1M608 243.5h1M608 244.5h1M608 245.5h1M609 244.5h1M609 245.5h1M610 243.5h1M610 244.5h1M611 244.5h1" stroke="#00ff00"/>
<path d="M587.5 257.5H634.5V314.5H587.5Z" stroke="#ff0000" stroke-dasharray="4 2"/>
<path transform="translate(602.1 287.9)" d="M-6.23 -2.01L-3.01 -2.01M-4.62 -3.35L-4.62 3.35M-6.23 0.67L-3.01 0.67M-6.03 3.35L-3.22 3.35M-6.23 -2.01L-6.23 0.67M-3.01 -2.01L-3.01 0.67M-1.41 -3.35L-1.41 3.35M-2.01 -1.68L-0.6 -1.68M-2.01 0.67L-0.6 -0.33M-0.2 -2.68L2.01 -2.68M-0.2 -0.67L2.01 -0.67M0.8 -2.68L0.8 3.35M-0.2 1.34L2.01 1.34M-0.2 3.35L2.01 3.35M2.61 -2.68L6.63 -2.68M3.42 -2.68L3.42 2.68M5.83 -2.68L5.83 2.68M3.42 0L5.83 0M3.42 2.68L5.83 2.68M4.62 -2.68L4.62 2.68" stroke="#00ff00"/>
<path d="M687 172V231.9" stroke="#00ffff" stroke-width="2"/>
<path d="M687.5 231.9V304.8" stroke="#ff0000"/>
<path d="M686.5 251.9V304.8" stroke="#ff0000" stroke-dasharray="4 2"/>
<path d="M687 304.8V346" stroke="#00ffff" stroke-width="2"/>
<path d="M687 328H702.6" stroke="#00ffff" stroke-width="2"/>
<path d="M686.7 311.7A15.9 15.9 0 0 1 702.6 327.6" stroke="#ff0000" stroke-dasharray="3 2"/>
<path d="M539.8 335.5H670.9" stroke="#ffffff"/>
<path d="M670.5 331.8V335.4" stroke="#ffffff"/>
<path transform="translate(604.5 326.5)" d="M-8.04,0L-4.76,0L-6.94,6.56M-2.9,1.31L-1.59,0L-1.59,6.56M3.77,0L0.49,0L0.49,2.73L2.68,2.73L3.77,3.83L3.77,5.47L2.68,6.56L1.59,6.56L0.49,5.47M4.76,1.09L5.85,0L6.94,0L8.04,1.09L8.04,5.47L6.94,6.56L5.85,6.56L4.76,5.47Z" stroke="#ffffff" stroke-linejoin="round"/>
<path d="M697.5 173.5H818.5V184.5H697.5Z" stroke="#ff0000" stroke-dasharray="4 2"/>
<path d="M724.5 173.8V184.6" stroke="#ff0000" stroke-dasharray="4 2"/>
<path d="M697.1 173.8L724.3 184.6" stroke="#ff0000" stroke-dasharray="3 2"/>
<path d="M697.1 184.6L724.3 173.8" stroke="#ff0000" stroke-dasharray="3 2"/>
<path d="M705 177.5h1M705 178.5h1M705 179.5h1M706 176.5h1M706 177.5h1M706 178.5h1M706 179.5h1M707 178.5h1M708 178.5h1M708 179.5h1" stroke="#00ff00"/>
<path d="M751.5 173.8V184.6" stroke="#ff0000" stroke-dasharray="4 2"/>
<path d="M724.3 173.8L751.9 184.6" stroke="#ff0000" stroke-dasharray="3 2"/>
<path d="M724.3 184.6L751.9 173.8" stroke="#ff0000" stroke-dasharray="3 2"/>
<path d="M732 177.5h1M732 178.5h1M732 179.5h1M733 177.5h1M733 178.5h1M733 179.5h1M734 178.5h1M734 179.5h1M735 177.5h1M735 179.5h1" stroke="#00ff00"/>
<path d="M779.5 173.8V184.6" stroke="#ff0000" stroke-dasharray="4 2"/>
<path d="M751.9 173.8L779.5 184.6" stroke="#ff0000" stroke-dasharray="3 2"/>
<path d="M751.9 184.6L779.5 173.8" stroke="#ff0000" stroke-dasharray="3 2"/>
<path d="M760 177.5h1M760 179.5h1M761 177.5h1M761 178.5h1M762 177.5h1M762 178.5h1M763 177.5h1M763 178.5h1" stroke="#00ff00"/>
<path d="M807.5 173.8V184.6" stroke="#ff0000" stroke-dasharray="4 2"/>
<path d="M779.5 173.8L807.1 184.6" stroke="#ff0000" stroke-dasharray="3 2"/>
<path d="M779.5 184.6L807.1 173.8" stroke="#ff0000" stroke-dasharray="3 2"/>
<path d="M787 176.5h1M787 177.5h1M787 178.5h1M787 179.5h1M788 177.5h1M788 178.5h1M789 177.5h1M790 178.5h1M790 179.5h1" stroke="#00ff00"/>
<path d="M807.5 173.5H818.5V200.5H807.5Z" stroke="#ff0000" stroke-dasharray="4 2"/>
<path d="M807.1 173.8L818 200.5" stroke="#ff0000" stroke-dasharray="3 2"/>
<path d="M807.1 200.5L818 173.8" stroke="#ff0000" stroke-dasharray="3 2"/>
<path d="M807 183.5h1M807 184.5h1M807 185.5h1M807 186.5h1M808 183.5h1M808 184.5h1M808 185.5h1M808 187.5h1M809 184.5h1M809 186.5h1M809 187.5h1M810 183.5h1M810 184.5h1M810 185.5h1M810 186.5h1M811 183.5h1M811 184.5h1M811 185.5h1M811 186.5h1" stroke="#00ff00"/>
<path d="M760 190.5h1M760 192.5h1M760 193.5h1M760 194.5h1M761 190.5h1M761 191.5h1M761 192.5h1M761 193.5h1M761 194.5h1M762 191.5h1M762 192.5h1M762 193.5h1M763 191.5h1M763 192.5h1M763 194.5h1M764 192.5h1M764 193.5h1M764 194.5h1M766 191.5h1M766 192.5h1M766 193.5h1M767 190.5h1M767 191.5h1M767 193.5h1M767 194.5h1M768 190.5h1M768 191.5h1M768 193.5h1M769 192.5h1M769 193.5h1M770 190.5h1M770 191.5h1M770 192.5h1M770 193.5h1M770 194.5h1" stroke="#00ff00"/>
<path d="M691.5 197.5H716.5V208.5H691.5Z" stroke="#ff0000"/>
<path d="M703.5 197.3V208.5" stroke="#ff0000"/>
<path d="M703.5 200.5H716" stroke="#ff0000"/>
<path d="M703.5 205.5H716" stroke="#ff0000"/>
<path d="M692.5 199.5H694.5V206.5H692.5Z" stroke="#ff0000"/>
<path d="M691.5 213.5H716.5V225.5H691.5Z" stroke="#ff0000"/>
<path d="M703.5 213.2V225.5" stroke="#ff0000"/>
<path d="M703.5 216.5H716" stroke="#ff0000"/>
<path d="M703.5 222.5H716" stroke="#ff0000"/>
<path d="M692.5 215.5H694.5V223.5H692.5Z" stroke="#ff0000"/>
<path transform="translate(746.9 260.3)" d="M-6.93 -3.5L-2.73 -3.5M-6.93 -3.5L-6.93 3.5M-2.73 -3.5L-2.73 3.5M-6.93 3.5L-2.73 3.5M-5.88 -1.4L-3.78 -1.4M-4.83 -1.4L-4.83 2.1M-5.88 2.1L-3.78 2.1M-5.88 0.35L-3.78 0.35M-1.26 -3.5L-1.26 3.5M-1.26 -2.1L0.21 -2.8M0.42 -3.5L0.42 3.5M0.42 -1.4L2.1 -1.4M0.42 1.05L2.1 1.05M2.1 -1.4L2.1 3.5M-2.1 0L-0.42 0M0.42 3.5L2.1 3.5M2.73 -1.4L6.93 -1.4M4.83 -3.5L4.83 0.35M4.83 0.35L2.73 3.5M4.83 0.35L6.93 3.5M3.57 -3.15L6.09 -3.15M3.78 1.4L5.88 1.4" stroke="#00ff00"/>
<path d="M799 252.5h1M799 253.5h1M799 254.5h1M799 255.5h1M800 252.5h1M800 253.5h1M800 256.5h1M801 255.5h1M801 256.5h1M802 254.5h1M802 255.5h1M802 256.5h1M803 253.5h1M803 254.5h1M803 255.5h1M805 252.5h1M805 253.5h1M806 253.5h1M806 254.5h1M806 255.5h1M807 252.5h1M807 253.5h1M807 254.5h1" stroke="#00ff00"/>
<path d="M818 172V218.5" stroke="#00ffff" stroke-width="2"/>
<path d="M818.5 218.5V292" stroke="#ff0000"/>
<path d="M817.5 238.5V292" stroke="#ff0000" stroke-dasharray="4 2"/>
<path d="M818 292V346" stroke="#00ffff" stroke-width="2"/>
<path d="M818.4 322H833.8" stroke="#00ffff" stroke-width="2"/>
<path d="M818.4 306.3A15.4 15.4 0 0 1 833.8 321.7" stroke="#ff0000" stroke-dasharray="3 2"/>
<path transform="translate(895 260.6)" d="M-6.93 -2.8L-2.73 -2.8M-6.09 -2.8L-6.09 2.8M-3.57 -2.8L-3.57 2.8M-6.09 0L-3.57 0M-6.09 2.8L-3.57 2.8M-4.83 -2.8L-4.83 2.8M-1.68 -2.1L1.68 -2.1M-0 -3.5L-0 3.5M-1.68 0.7L1.68 0.7M-1.47 3.5L1.47 3.5M-1.68 -2.1L-1.68 0.7M1.68 -2.1L1.68 0.7M3.15 -3.5L6.51 -3.5M3.15 -3.5L3.15 0M6.51 -3.5L6.51 0M3.15 0L6.51 0M4.83 0L4.83 3.5M2.73 3.5L6.93 3.5M3.57 1.75L6.09 1.75M3.15 -1.75L6.51 -1.75" stroke="#00ff00"/>
<path d="M961.9 194H978.3" stroke="#00ffff" stroke-width="2"/>
<path d="M961.9 193.8A16.4 16.4 0 0 0 978.3 210.2" stroke="#ff0000" stroke-dasharray="3 2"/>
<path d="M979 187.6V332.4" stroke="#00ffff" stroke-width="2"/>
<path d="M1003.5 205.5H1091.5V318.5H1003.5Z" stroke="#ff0000" stroke-dasharray="4 2"/>
<path transform="translate(1032.9 260.6)" d="M-6.51 -2.1L-3.15 -2.1M-4.83 -3.5L-4.83 3.5M-6.51 0.7L-3.15 0.7M-6.3 3.5L-3.36 3.5M-6.51 -2.1L-6.51 0.7M-3.15 -2.1L-3.15 0.7M-1.68 -3.5L1.68 -3.5M-1.68 -3.5L-1.68 0M1.68 -3.5L1.68 0M-1.68 0L1.68 0M-0 0L-0 3.5M-2.1 3.5L2.1 3.5M-1.26 1.75L1.26 1.75M-1.68 -1.75L1.68 -1.75M3.78 -3.5L3.78 3.5M2.73 -1.05L4.83 -1.05M5.04 -2.45L6.93 -2.45M5.88 -2.45L5.88 3.5M5.04 0.7L6.93 0.7M2.94 1.4L4.62 0.35M5.04 3.5L6.93 3.5" stroke="#00ff00"/>
<path transform="translate(1018.65 276.2)" d="M-3.23 -2.8L-3.23 2.8M-4.21 -0.84L-2.25 -0.84M-2.06 -1.96L-0.29 -1.96M-1.27 -1.96L-1.27 2.8M-2.06 0.56L-0.29 0.56M-4.02 1.12L-2.45 0.28M-2.06 2.8L-0.29 2.8M0.69 -2.8L3.82 -2.8M0.69 -2.8L0.69 0M3.82 -2.8L3.82 0M0.69 0L3.82 0M2.25 0L2.25 2.8M0.29 2.8L4.21 2.8M1.08 1.4L3.43 1.4M0.69 -1.4L3.82 -1.4" stroke="#00ff00"/>
<path transform="translate(1033.5 273.5)" d="M-6.94,0L-9.3,0L-9.3,2.33L-7.73,2.33L-6.94,3.27L-6.94,4.67L-7.73,5.6L-8.51,5.6L-9.3,4.67M-6.05,0L-3.7,0L-4.95,2.33L-4.48,2.33L-3.7,3.27L-3.7,4.67L-4.48,5.6L-5.26,5.6L-6.05,4.67M-2.8,0.93L-2.02,0L-1.23,0L-0.45,0.93L-0.45,4.67L-1.23,5.6L-2.02,5.6L-2.8,4.67ZM0.45,0.93L1.23,0L2.02,0L2.8,0.93L2.8,4.67L2.02,5.6L1.23,5.6L0.45,4.67ZM3.7,0L3.7,5.6M6.05,0L6.05,5.6M3.7,2.8L6.05,2.8M6.94,5.6L6.94,0L8.12,2.8L9.3,0L9.3,5.6" stroke="#00ff00" stroke-linejoin="round"/>
<path transform="translate(1046.2 276.2)" d="M-1.96 -2.8L1.96 -2.8M-1.96 -2.8L-1.96 2.8M1.96 -2.8L1.96 2.8M-1.96 2.8L1.96 2.8M-0.98 -1.12L0.98 -1.12M0 -1.12L0 1.68M-0.98 1.68L0.98 1.68M-0.98 0.28L0.98 0.28" stroke="#00ff00"/>
<path d="M234.7 346H329.5" stroke="#00ffff" stroke-width="2"/>
<path d="M332 346H378.4" stroke="#ff0000" stroke-width="2"/>
<path d="M378.4 346.5H572" stroke="#00ffff"/>
<path d="M572 346.5H641.4" stroke="#ff0000" stroke-dasharray="14 2 4 2 7 2 4 2"/>
<path d="M643 346.5H716.8" stroke="#00ffff"/>
<path d="M716.8 346.5H790.4" stroke="#ff0000" stroke-dasharray="14 2 4 2 7 2 4 2"/>
<path d="M790.4 346.5H862.2" stroke="#00ffff"/>
<path d="M862.2 346.5H935.9" stroke="#ff0000" stroke-dasharray="14 2 4 2 7 2 4 2"/>
<path d="M935.9 346.5H1005.6" stroke="#00ffff"/>
<path d="M1005.6 346.5H1080.2" stroke="#ff0000" stroke-dasharray="14 2 4 2 7 2 4 2"/>
<path d="M1080.2 346.5H1119.4" stroke="#00ffff"/>
<path d="M570.4 355.5H643.6" stroke="#ffffff"/>
<path d="M570.5 350.9V359.4" stroke="#ffffff"/>
<path d="M643.5 350.9V359.4" stroke="#ffffff"/>
<path transform="translate(607.5 346.5)" d="M-5.41,6.56L-5.41,0L-8.04,4.37L-4.54,4.37M-3.77,1.09L-2.68,0L-1.59,0L-0.49,1.09L-0.49,5.47L-1.59,6.56L-2.68,6.56L-3.77,5.47ZM0.49,1.09L1.59,0L2.68,0L3.77,1.09L3.77,5.47L2.68,6.56L1.59,6.56L0.49,5.47ZM4.76,1.09L5.85,0L6.94,0L8.04,1.09L8.04,5.47L6.94,6.56L5.85,6.56L4.76,5.47Z" stroke="#ffffff" stroke-linejoin="round"/>
<path d="M717.3 357.5H790.4" stroke="#ffffff"/>
<path d="M717.5 352.8V361.3" stroke="#ffffff"/>
<path d="M790.5 352.8V361.3" stroke="#ffffff"/>
<path transform="translate(753.5 348.5)" d="M-5.41,6.56L-5.41,0L-8.04,4.37L-4.54,4.37M-3.77,1.09L-2.68,0L-1.59,0L-0.49,1.09L-0.49,5.47L-1.59,6.56L-2.68,6.56L-3.77,5.47ZM0.49,1.09L1.59,0L2.68,0L3.77,1.09L3.77,5.47L2.68,6.56L1.59,6.56L0.49,5.47ZM4.76,1.09L5.85,0L6.94,0L8.04,1.09L8.04,5.47L6.94,6.56L5.85,6.56L4.76,5.47Z" stroke="#ffffff" stroke-linejoin="round"/>
<path d="M861.4 357.5H935.5" stroke="#ffffff"/>
<path d="M861.5 352.8V361.3" stroke="#ffffff"/>
<path d="M935.5 352.8V361.3" stroke="#ffffff"/>
<path transform="translate(898.5 348.5)" d="M-5.41,6.56L-5.41,0L-8.04,4.37L-4.54,4.37M-3.77,1.09L-2.68,0L-1.59,0L-0.49,1.09L-0.49,5.47L-1.59,6.56L-2.68,6.56L-3.77,5.47ZM0.49,1.09L1.59,0L2.68,0L3.77,1.09L3.77,5.47L2.68,6.56L1.59,6.56L0.49,5.47ZM4.76,1.09L5.85,0L6.94,0L8.04,1.09L8.04,5.47L6.94,6.56L5.85,6.56L4.76,5.47Z" stroke="#ffffff" stroke-linejoin="round"/>
<path d="M1005.6 357.5H1079.8" stroke="#ffffff"/>
<path d="M1005.5 352.8V361.3" stroke="#ffffff"/>
<path d="M1079.5 352.8V361.3" stroke="#ffffff"/>
<path transform="translate(1042.5 348.5)" d="M-5.41,6.56L-5.41,0L-8.04,4.37L-4.54,4.37M-3.77,1.09L-2.68,0L-1.59,0L-0.49,1.09L-0.49,5.47L-1.59,6.56L-2.68,6.56L-3.77,5.47ZM0.49,1.09L1.59,0L2.68,0L3.77,1.09L3.77,5.47L2.68,6.56L1.59,6.56L0.49,5.47ZM4.76,1.09L5.85,0L6.94,0L8.04,1.09L8.04,5.47L6.94,6.56L5.85,6.56L4.76,5.47Z" stroke="#ffffff" stroke-linejoin="round"/>
<path d="M599 338.5h1M599 339.5h1M599 340.5h1M600 339.5h1M600 340.5h1M601 338.5h1M601 339.5h1M601 340.5h1M601 341.5h1M602 339.5h1M604 338.5h1M604 339.5h1M604 340.5h1M605 338.5h1M605 340.5h1M606 338.5h1M606 339.5h1M606 340.5h1M607 338.5h1M607 339.5h1M607 340.5h1" stroke="#00ff00"/>
<path d="M745 338.5h1M745 339.5h1M745 341.5h1M746 339.5h1M746 340.5h1M747 339.5h1M747 340.5h1M747 341.5h1M748 338.5h1M748 339.5h1M748 340.5h1M748 341.5h1M750 339.5h1M750 340.5h1M751 339.5h1M751 340.5h1M751 341.5h1M752 338.5h1M752 340.5h1M752 341.5h1M753 339.5h1M753 340.5h1M753 341.5h1" stroke="#00ff00"/>
<path d="M890 338.5h1M890 339.5h1M890 340.5h1M890 341.5h1M891 338.5h1M891 341.5h1M892 338.5h1M892 339.5h1M892 340.5h1M892 341.5h1M893 338.5h1M893 339.5h1M893 340.5h1M893 341.5h1M895 339.5h1M895 340.5h1M895 341.5h1M896 338.5h1M896 340.5h1M897 339.5h1M897 340.5h1M898 338.5h1M898 339.5h1M898 340.5h1" stroke="#00ff00"/>
<path d="M1034 338.5h1M1034 339.5h1M1034 340.5h1M1034 341.5h1M1035 338.5h1M1035 339.5h1M1035 340.5h1M1036 338.5h1M1036 339.5h1M1037 339.5h1M1037 340.5h1M1039 340.5h1M1040 338.5h1M1040 339.5h1M1041 338.5h1M1041 339.5h1M1041 340.5h1M1042 339.5h1" stroke="#00ff00"/>
<path d="M666 346.5V362.2" stroke="#00ffff" stroke-width="2"/>
<path d="M650.3 346.5A15.7 15.7 0 0 0 666 362.2" stroke="#ff0000" stroke-dasharray="3 2"/>
<path d="M814 346.5V363.2" stroke="#00ffff" stroke-width="2"/>
<path d="M797.1 346.5A16.7 16.7 0 0 0 813.8 363.2" stroke="#ff0000" stroke-dasharray="3 2"/>
<path d="M1101 346.5V362.8" stroke="#00ffff" stroke-width="2"/>
<path d="M1085 346.5A16.3 16.3 0 0 0 1101.3 362.8" stroke="#ff0000" stroke-dasharray="3 2"/>
<path d="M239.5 348.5H255.5V378.5H239.5Z" stroke="#ff0000" stroke-dasharray="4 2"/>
<path d="M232 360.5h1M232 361.5h1M232 362.5h1M232 363.5h1M233 361.5h1M233 362.5h1M233 363.5h1M234 363.5h1M234 364.5h1M235 361.5h1M236 360.5h1M236 361.5h1M236 362.5h1M236 363.5h1M236 364.5h1M238 361.5h1M238 363.5h1M238 364.5h1M239 361.5h1M239 362.5h1M239 363.5h1M240 361.5h1M240 362.5h1M240 363.5h1M241 361.5h1M241 363.5h1M242 360.5h1M242 361.5h1M242 362.5h1M242 363.5h1M242 364.5h1M244 360.5h1M244 361.5h1M244 362.5h1M244 363.5h1M244 364.5h1M245 360.5h1M245 361.5h1M245 362.5h1M245 363.5h1M246 361.5h1M246 362.5h1M246 363.5h1M246 364.5h1M247 361.5h1M247 364.5h1M248 361.5h1M248 362.5h1M248 363.5h1M248 364.5h1M250 362.5h1M250 363.5h1M250 364.5h1M251 360.5h1M251 361.5h1M251 363.5h1M252 360.5h1M252 361.5h1M252 362.5h1M252 363.5h1M253 360.5h1M253 361.5h1M253 362.5h1M253 363.5h1M253 364.5h1" stroke="#00ff00"/>
<path d="M305.5 347.5H329.5V374.5H305.5Z" stroke="#ff0000" stroke-dasharray="4 2"/>
<path d="M321.5 347.6V374.4" stroke="#ff0000"/>
<path d="M293 359.5h1M293 360.5h1M293 361.5h1M293 362.5h1M294 358.5h1M294 359.5h1M294 360.5h1M294 361.5h1M295 358.5h1M295 359.5h1M295 360.5h1M295 361.5h1M296 358.5h1M296 360.5h1M296 361.5h1M296 362.5h1M297 358.5h1M297 359.5h1M297 361.5h1M299 358.5h1M299 359.5h1M299 360.5h1M299 361.5h1M299 362.5h1M300 358.5h1M300 359.5h1M300 361.5h1M301 358.5h1M301 359.5h1M301 360.5h1M301 361.5h1M301 362.5h1M302 360.5h1M302 361.5h1M302 362.5h1M303 358.5h1M303 359.5h1M303 360.5h1M303 361.5h1M303 362.5h1M305 359.5h1M305 360.5h1M305 361.5h1" stroke="#00ff00"/>
<path d="M323 357.5h1M324 357.5h1M325 357.5h1M322 358.5h1M323 358.5h1M324 358.5h1M325 358.5h1M323 359.5h1M323 360.5h1M325 360.5h1M326 360.5h1M323 361.5h1M325 361.5h1M326 361.5h1M323 363.5h1M324 363.5h1M325 363.5h1M326 363.5h1M323 364.5h1M324 364.5h1M325 364.5h1M326 364.5h1M322 365.5h1M323 365.5h1M326 365.5h1M323 366.5h1M324 366.5h1M326 366.5h1M322 367.5h1M323 367.5h1M324 367.5h1M325 367.5h1M322 369.5h1M323 369.5h1M324 369.5h1M325 369.5h1M324 370.5h1M325 370.5h1M322 371.5h1M323 371.5h1M324 371.5h1M326 371.5h1" stroke="#00ff00"/>
<path d="M305.5 398.5H329.5V425.5H305.5Z" stroke="#ff0000" stroke-dasharray="4 2"/>
<path d="M321.5 398.3V425.4" stroke="#ff0000"/>
<path d="M293 409.5h1M293 410.5h1M293 411.5h1M294 409.5h1M294 410.5h1M294 411.5h1M294 412.5h1M295 410.5h1M295 411.5h1M296 409.5h1M296 410.5h1M296 411.5h1M297 408.5h1M297 409.5h1M297 411.5h1M299 408.5h1M299 410.5h1M299 411.5h1M299 412.5h1M300 408.5h1M300 410.5h1M300 411.5h1M300 412.5h1M301 408.5h1M301 411.5h1M301 412.5h1M302 409.5h1M302 410.5h1M302 411.5h1M302 412.5h1M303 409.5h1M303 410.5h1M303 411.5h1M303 412.5h1M305 408.5h1M305 409.5h1M305 411.5h1M305 412.5h1" stroke="#00ff00"/>
<path d="M322 408.5h1M323 408.5h1M325 408.5h1M322 409.5h1M323 409.5h1M324 409.5h1M325 409.5h1M323 410.5h1M324 410.5h1M326 410.5h1M322 411.5h1M323 411.5h1M324 411.5h1M325 411.5h1M326 411.5h1M323 412.5h1M324 412.5h1M322 414.5h1M324 414.5h1M325 414.5h1M326 414.5h1M322 415.5h1M322 416.5h1M323 416.5h1M324 416.5h1M325 416.5h1M326 416.5h1M322 417.5h1M323 417.5h1M324 417.5h1M325 417.5h1M322 418.5h1M323 418.5h1M324 418.5h1M325 418.5h1M326 418.5h1M323 420.5h1M325 420.5h1M326 420.5h1M322 421.5h1M324 421.5h1M325 421.5h1M322 422.5h1M323 422.5h1M324 422.5h1M325 422.5h1" stroke="#00ff00"/>
<path transform="translate(252.59 387.2)" d="M-4.09 -3L-0.73 -3M-4.09 -3L-4.09 0M-0.73 -3L-0.73 0M-4.09 0L-0.73 0M-2.41 0L-2.41 3M-4.51 3L-0.31 3M-3.67 1.5L-1.15 1.5M-4.09 -1.5L-0.73 -1.5M0.74 -1.8L4.09 -1.8M2.42 -3L2.42 3M0.74 0.6L4.09 0.6M0.95 3L3.88 3M0.74 -1.8L0.74 0.6M4.09 -1.8L4.09 0.6" stroke="#00ff00"/>
<path transform="translate(273.5 384.5)" d="M-12.15,2.5L-13.15,2L-14.15,2L-15.15,3L-15.15,5L-14.15,6L-13.15,6L-12.15,5.5M-11.25,2L-11.25,6M-11.25,3L-10.25,2L-8.75,2M-7.35,2L-5.85,6M-4.35,2L-6.35,8L-7.05,8M-2.45,2L-1.45,2L-0.45,3L-0.45,5L-1.45,6L-2.45,6L-3.45,5L-3.45,3ZM0.45,2L0.45,8M0.45,3L1.45,2L2.45,2L3.45,3L3.45,5L2.45,6L1.45,6L0.45,5M4.35,2L4.35,5L5.35,6L6.35,6L7.35,5M7.35,2L7.35,6M8.25,2L8.25,6M8.25,3L8.95,2L9.45,2L9.95,3L9.95,6M9.95,3L10.65,2L11.15,2L11.65,3L11.65,6M12.15,2L12.15,8M12.15,3L13.15,2L14.15,2L15.15,3L15.15,5L14.15,6L13.15,6L12.15,5" stroke="#00ff00" stroke-linejoin="round"/>
<path transform="translate(295.01 387.2)" d="M-3.67 -3L-3.67 3M-3.67 -1.8L-2.2 -2.4M-1.99 -3L-1.99 3M-1.99 -1.2L-0.31 -1.2M-1.99 0.9L-0.31 0.9M-0.31 -1.2L-0.31 3M-4.51 0L-2.83 0M-1.99 3L-0.31 3M1.16 -3L1.16 3M1.16 -1.8L2.62 -2.4M2.83 -3L2.83 3M2.83 -1.2L4.51 -1.2M2.83 0.9L4.51 0.9M4.51 -1.2L4.51 3M0.32 0L2 0M2.83 3L4.51 3" stroke="#00ff00"/>
<path d="M239.5 392.5H251.5V407.5H239.5Z" stroke="#ff0000" stroke-dasharray="4 2"/>
<path d="M239.2 407.3L251.8 392.3" stroke="#ff0000" stroke-dasharray="3 2"/>
<path d="M240 396.5h1M240 397.5h1M240 399.5h1M240 400.5h1M241 396.5h1M241 398.5h1M241 399.5h1M241 400.5h1M242 397.5h1M242 398.5h1M242 400.5h1M243 397.5h1M243 398.5h1M243 399.5h1M244 396.5h1M244 398.5h1M244 399.5h1M244 400.5h1M246 396.5h1M246 397.5h1M246 398.5h1M246 399.5h1M246 400.5h1M247 397.5h1M247 398.5h1M247 399.5h1M248 396.5h1M248 397.5h1M248 400.5h1M249 396.5h1M249 397.5h1M249 398.5h1M249 399.5h1M250 398.5h1M250 399.5h1M252 396.5h1M252 398.5h1M252 400.5h1M253 398.5h1M253 399.5h1M253 400.5h1M254 398.5h1M254 399.5h1M254 400.5h1M255 397.5h1M255 399.5h1M255 400.5h1M256 396.5h1M256 397.5h1M256 398.5h1M256 399.5h1M256 400.5h1M258 396.5h1M258 397.5h1M258 398.5h1M258 400.5h1M259 396.5h1M259 397.5h1M259 398.5h1M259 399.5h1M259 400.5h1" stroke="#00ff00"/>
<path d="M238.5 438.5H326.5V447.5H238.5Z" stroke="#ff0000" stroke-dasharray="4 2"/>
<path d="M267.5 438.4V447.4" stroke="#ff0000" stroke-dasharray="4 2"/>
<path d="M238 438.4L267.3 447.4" stroke="#ff0000" stroke-dasharray="3 2"/>
<path d="M238 447.4L267.3 438.4" stroke="#ff0000" stroke-dasharray="3 2"/>
<path d="M241 440.5h1M241 441.5h1M241 442.5h1M241 443.5h1M242 440.5h1M242 444.5h1M243 440.5h1M243 442.5h1M243 443.5h1M244 440.5h1M244 441.5h1M244 442.5h1M245 440.5h1M245 442.5h1M245 443.5h1M245 444.5h1M247 440.5h1M247 441.5h1M247 442.5h1M247 443.5h1M247 444.5h1M248 440.5h1M248 441.5h1M248 443.5h1M248 444.5h1M249 441.5h1M249 442.5h1M249 443.5h1M249 444.5h1M250 441.5h1M250 444.5h1M251 441.5h1M251 442.5h1M253 440.5h1M253 441.5h1M253 442.5h1M253 443.5h1M253 444.5h1M254 440.5h1M254 442.5h1M254 443.5h1M254 444.5h1" stroke="#00ff00"/>
<path d="M296.5 438.4V447.4" stroke="#ff0000" stroke-dasharray="4 2"/>
<path d="M267.3 438.4L296 447.4" stroke="#ff0000" stroke-dasharray="3 2"/>
<path d="M267.3 447.4L296 438.4" stroke="#ff0000" stroke-dasharray="3 2"/>
<path d="M270 441.5h1M270 442.5h1M270 444.5h1M271 440.5h1M271 441.5h1M271 442.5h1M271 443.5h1M272 440.5h1M272 442.5h1M272 443.5h1M273 440.5h1M273 441.5h1M273 442.5h1M273 443.5h1M273 444.5h1M274 440.5h1M274 442.5h1M274 443.5h1M274 444.5h1M276 441.5h1M276 442.5h1M276 443.5h1M276 444.5h1M277 441.5h1M277 442.5h1M277 443.5h1M277 444.5h1M278 442.5h1M278 443.5h1M279 440.5h1M279 441.5h1M279 443.5h1M279 444.5h1M280 441.5h1M280 442.5h1M280 443.5h1M282 440.5h1M282 441.5h1M282 442.5h1M283 441.5h1M283 442.5h1M283 443.5h1" stroke="#00ff00"/>
<path d="M326.5 438.4V447.4" stroke="#ff0000" stroke-dasharray="4 2"/>
<path d="M296 438.4L326.1 447.4" stroke="#ff0000" stroke-dasharray="3 2"/>
<path d="M296 447.4L326.1 438.4" stroke="#ff0000" stroke-dasharray="3 2"/>
<path d="M299 441.5h1M299 443.5h1M299 444.5h1M300 440.5h1M300 442.5h1M300 443.5h1M300 444.5h1M301 440.5h1M301 441.5h1M301 442.5h1M301 443.5h1M301 444.5h1M302 440.5h1M302 443.5h1M303 441.5h1M303 443.5h1M305 440.5h1M305 441.5h1M305 442.5h1M305 443.5h1M306 442.5h1M306 443.5h1M307 440.5h1M307 442.5h1M308 441.5h1M308 442.5h1M308 443.5h1M308 444.5h1M309 440.5h1M309 441.5h1M309 442.5h1M311 441.5h1M311 443.5h1M312 441.5h1M312 442.5h1M312 443.5h1" stroke="#00ff00"/>
<path d="M329.5 347.6V611.7" stroke="#ff0000" stroke-dasharray="4 2"/>
<path d="M314.5 472.5H329.5V554.5H314.5Z" stroke="#ff0000" stroke-dasharray="4 2"/>
<path d="M314.4 499.5H329.5" stroke="#ff0000"/>
<path d="M314.4 527.5H329.5" stroke="#ff0000"/>
<path d="M329.5 499.6V527.4" stroke="#ff0000"/>
<path d="M309 485.5h1M309 486.5h1M309 487.5h1M309 488.5h1M310 485.5h1M310 486.5h1M310 487.5h1M310 489.5h1M311 487.5h1M311 488.5h1M312 486.5h1M312 487.5h1M312 488.5h1M312 489.5h1M313 487.5h1M313 488.5h1M313 489.5h1M315 486.5h1M315 487.5h1M315 488.5h1M316 485.5h1M316 486.5h1M316 487.5h1M316 488.5h1M317 486.5h1M317 487.5h1M317 488.5h1M318 485.5h1M318 486.5h1M318 487.5h1M318 488.5h1M319 486.5h1M319 487.5h1M319 488.5h1M321 485.5h1M321 487.5h1M321 488.5h1M322 485.5h1M322 486.5h1M322 487.5h1" stroke="#00ff00"/>
<path d="M309 512.5h1M309 513.5h1M309 514.5h1M309 515.5h1M310 512.5h1M310 513.5h1M310 514.5h1M310 515.5h1M311 512.5h1M311 515.5h1M312 513.5h1M312 514.5h1M312 515.5h1M312 516.5h1M313 512.5h1M313 513.5h1M313 514.5h1M313 516.5h1M315 512.5h1M315 514.5h1M315 515.5h1M315 516.5h1M316 513.5h1M316 514.5h1M316 515.5h1M316 516.5h1M317 513.5h1M317 514.5h1M317 515.5h1M318 515.5h1M319 513.5h1M319 514.5h1M321 512.5h1M321 513.5h1M321 514.5h1M321 515.5h1M321 516.5h1M322 513.5h1M322 514.5h1M322 515.5h1M322 516.5h1" stroke="#00ff00"/>
<path d="M309 539.5h1M309 541.5h1M310 539.5h1M310 540.5h1M310 541.5h1M310 543.5h1M311 540.5h1M311 541.5h1M312 541.5h1M312 542.5h1M313 540.5h1M313 542.5h1M313 543.5h1M315 540.5h1M315 541.5h1M315 542.5h1M316 540.5h1M316 541.5h1M316 542.5h1M317 539.5h1M317 540.5h1M317 541.5h1M317 542.5h1M317 543.5h1M318 539.5h1M318 542.5h1M318 543.5h1M319 540.5h1M319 541.5h1M319 542.5h1M319 543.5h1M321 540.5h1M321 541.5h1M321 542.5h1M321 543.5h1M322 540.5h1M322 541.5h1M322 542.5h1" stroke="#00ff00"/>
<path d="M256.5 513.5H267.5V528.5H256.5Z" stroke="#ffffff"/>
<path d="M256.5 535.5H267.5V549.5H256.5Z" stroke="#ffffff"/>
<path d="M256.5 554.5H267.5V569.5H256.5Z" stroke="#ffffff"/>
<path d="M256.5 574.5H267.5V588.5H256.5Z" stroke="#ffffff"/>
<path d="M256.5 593.5H267.5V607.5H256.5Z" stroke="#ffffff"/>
<path d="M251 519.5h1M251 520.5h1M252 517.5h1M252 518.5h1M252 519.5h1M252 521.5h1M253 517.5h1M253 518.5h1M253 520.5h1M254 518.5h1M254 519.5h1M254 520.5h1M255 518.5h1M255 519.5h1M255 520.5h1M255 521.5h1M257 517.5h1M257 518.5h1M257 519.5h1M258 519.5h1M258 520.5h1" stroke="#00ff00"/>
<path d="M235 541.5h1M235 542.5h1M235 543.5h1M235 544.5h1M236 540.5h1M236 541.5h1M236 542.5h1M236 543.5h1M237 541.5h1M237 543.5h1M238 541.5h1M238 542.5h1M238 543.5h1M238 544.5h1M239 540.5h1M239 541.5h1M239 542.5h1M239 543.5h1M241 541.5h1M241 543.5h1M241 544.5h1M242 540.5h1M242 541.5h1M242 542.5h1M242 543.5h1M243 541.5h1M243 543.5h1M243 544.5h1M244 541.5h1M244 542.5h1M244 543.5h1M244 544.5h1M245 540.5h1M245 541.5h1M245 542.5h1M245 543.5h1M245 544.5h1M247 541.5h1M247 542.5h1M247 543.5h1M248 540.5h1M248 542.5h1M248 543.5h1M248 544.5h1M249 541.5h1M249 542.5h1M249 543.5h1M249 544.5h1M250 540.5h1M250 541.5h1M250 542.5h1M250 544.5h1M251 540.5h1M251 541.5h1M251 542.5h1M251 543.5h1" stroke="#00ff00"/>
<path d="M235 563.5h1M235 564.5h1M236 561.5h1M236 562.5h1M237 561.5h1M237 563.5h1M238 562.5h1M238 563.5h1M239 561.5h1M239 563.5h1M239 564.5h1M241 561.5h1M241 562.5h1M241 564.5h1M242 561.5h1M242 562.5h1M242 563.5h1M242 564.5h1M243 561.5h1M243 562.5h1M243 563.5h1M243 564.5h1M244 561.5h1M244 562.5h1M244 563.5h1M244 564.5h1M245 562.5h1M245 563.5h1M247 560.5h1M247 563.5h1M248 560.5h1M248 561.5h1M249 560.5h1M249 561.5h1M249 562.5h1M249 563.5h1M249 564.5h1M250 561.5h1M250 562.5h1M250 563.5h1M251 560.5h1M251 561.5h1M251 563.5h1M251 564.5h1" stroke="#00ff00"/>
<path d="M229 577.5h1M229 578.5h1M229 579.5h1M229 580.5h1M229 581.5h1M230 577.5h1M230 578.5h1M230 579.5h1M230 580.5h1M231 579.5h1M231 580.5h1M231 581.5h1M232 578.5h1M232 579.5h1M232 580.5h1M232 581.5h1M233 577.5h1M233 578.5h1M233 581.5h1M235 577.5h1M235 578.5h1M235 580.5h1M235 581.5h1M236 577.5h1M236 578.5h1M236 579.5h1M237 578.5h1M237 579.5h1M237 580.5h1M237 581.5h1M238 577.5h1M238 578.5h1M238 579.5h1M238 580.5h1M239 579.5h1M239 580.5h1M241 578.5h1M241 579.5h1M241 581.5h1M242 577.5h1M242 578.5h1M242 579.5h1M242 580.5h1M243 577.5h1M243 578.5h1M243 580.5h1M244 578.5h1M244 580.5h1M245 577.5h1M245 578.5h1M245 579.5h1M245 580.5h1M247 578.5h1M247 579.5h1M247 581.5h1M248 578.5h1M248 579.5h1M248 580.5h1M248 581.5h1M249 578.5h1M249 579.5h1M249 580.5h1M249 581.5h1M250 578.5h1M250 579.5h1M250 580.5h1M250 581.5h1M251 578.5h1" stroke="#00ff00"/>
<path d="M241 598.5h1M241 602.5h1M242 598.5h1M242 600.5h1M242 601.5h1M243 600.5h1M243 601.5h1M243 602.5h1M244 599.5h1M244 600.5h1M244 601.5h1M244 602.5h1M245 598.5h1M245 600.5h1M245 601.5h1M245 602.5h1M247 598.5h1M247 599.5h1M247 600.5h1M247 601.5h1M248 598.5h1M248 599.5h1M248 600.5h1M248 601.5h1M249 599.5h1M249 600.5h1M249 601.5h1M249 602.5h1M250 599.5h1M250 601.5h1M250 602.5h1M251 598.5h1M251 599.5h1M251 601.5h1M251 602.5h1M253 599.5h1M253 600.5h1M253 601.5h1M253 602.5h1M254 598.5h1M254 600.5h1M254 601.5h1M254 602.5h1" stroke="#00ff00"/>
<path transform="translate(274.53 565)" d="M-4 -1.2L-0.28 -1.2M-2.14 -3L-2.14 0.3M-2.14 0.3L-4 3M-2.14 0.3L-0.28 3M-3.25 -2.7L-1.02 -2.7M-3.07 1.2L-1.21 1.2M0.28 -3L4 -3M0.28 -3L0.28 3M4 -3L4 3M0.28 3L4 3M1.21 -1.2L3.07 -1.2M2.14 -1.2L2.14 1.8M1.21 1.8L3.07 1.8M1.21 0.3L3.07 0.3" stroke="#00ff00"/>
<path transform="translate(295.5 562.5)" d="M-12.15,2.5L-13.15,2L-14.15,2L-15.15,3L-15.15,5L-14.15,6L-13.15,6L-12.15,5.5M-11.25,2L-11.25,6M-11.25,3L-10.25,2L-8.75,2M-7.35,2L-5.85,6M-4.35,2L-6.35,8L-7.05,8M-2.45,2L-1.45,2L-0.45,3L-0.45,5L-1.45,6L-2.45,6L-3.45,5L-3.45,3ZM0.45,2L0.45,8M0.45,3L1.45,2L2.45,2L3.45,3L3.45,5L2.45,6L1.45,6L0.45,5M4.35,2L4.35,5L5.35,6L6.35,6L7.35,5M7.35,2L7.35,6M8.25,2L8.25,6M8.25,3L8.95,2L9.45,2L9.95,3L9.95,6M9.95,3L10.65,2L11.15,2L11.65,3L11.65,6M12.15,2L12.15,8M12.15,3L13.15,2L14.15,2L15.15,3L15.15,5L14.15,6L13.15,6L12.15,5" stroke="#00ff00" stroke-linejoin="round"/>
<path transform="translate(322.26 565)" d="M-10.04 -3L-7.07 -3M-10.04 -3L-10.04 0M-7.07 -3L-7.07 0M-10.04 0L-7.07 0M-8.56 0L-8.56 3M-10.42 3L-6.7 3M-9.67 1.5L-7.44 1.5M-10.04 -1.5L-7.07 -1.5M-5.58 -3L-5.58 3M-6.14 -1.5L-4.84 -1.5M-6.14 0.6L-4.84 -0.3M-4.46 -2.4L-2.42 -2.4M-4.46 -0.6L-2.42 -0.6M-3.53 -2.4L-3.53 3M-4.46 1.2L-2.42 1.2M-4.46 3L-2.42 3M-1.3 -3L-1.3 3M-1.86 -1.5L-0.56 -1.5M-1.86 0.6L-0.56 -0.3M-0.19 -2.4L1.86 -2.4M-0.19 -0.6L1.86 -0.6M0.74 -2.4L0.74 3M-0.19 1.2L1.86 1.2M-0.19 3L1.86 3M2.42 -1.2L6.14 -1.2M4.28 -3L4.28 0.3M4.28 0.3L2.42 3M4.28 0.3L6.14 3M3.16 -2.7L5.39 -2.7M3.35 1.2L5.21 1.2M7.07 -3L10.04 -3M7.07 -3L7.07 0M10.04 -3L10.04 0M7.07 0L10.04 0M8.56 0L8.56 3M6.7 3L10.42 3M7.44 1.5L9.67 1.5M7.07 -1.5L10.04 -1.5" stroke="#00ff00"/>
<path d="M378.5 346.5V496.5" stroke="#ff0000" stroke-dasharray="4 2"/>
<path d="M353.5 597.5H378.5V615.5H353.5Z" stroke="#ff0000" stroke-dasharray="4 2"/>
<path d="M353.2 597.1L378.4 615.4" stroke="#ff0000" stroke-dasharray="3 2"/>
<path d="M353.2 615.4L378.4 597.1" stroke="#ff0000" stroke-dasharray="3 2"/>
<path d="M358 604.5h1M358 606.5h1M359 606.5h1M359 607.5h1M359 608.5h1M360 604.5h1M360 605.5h1M360 606.5h1M360 607.5h1M361 604.5h1M361 605.5h1M361 606.5h1M361 607.5h1M361 608.5h1M362 605.5h1M362 606.5h1M362 607.5h1M364 604.5h1M364 605.5h1M364 606.5h1M364 607.5h1M365 605.5h1M365 606.5h1M365 607.5h1M365 608.5h1" stroke="#00ff00"/>
<path d="M419.5 347.5H433.5V457.5H419.5Z" stroke="#ff0000" stroke-dasharray="4 2"/>
<path d="M419.7 403.5H433.6" stroke="#ff0000" stroke-dasharray="4 2"/>
<path d="M419.7 347.6L433.6 375" stroke="#ff0000" stroke-dasharray="3 2"/>
<path d="M419.7 375L433.6 347.6" stroke="#ff0000" stroke-dasharray="3 2"/>
<path d="M419.7 375L433.6 403.3" stroke="#ff0000" stroke-dasharray="3 2"/>
<path d="M419.7 403.3L433.6 375" stroke="#ff0000" stroke-dasharray="3 2"/>
<path d="M419.7 403.3L433.6 430" stroke="#ff0000" stroke-dasharray="3 2"/>
<path d="M419.7 430L433.6 403.3" stroke="#ff0000" stroke-dasharray="3 2"/>
<path d="M419.7 430L433.6 457.1" stroke="#ff0000" stroke-dasharray="3 2"/>
<path d="M419.7 457.1L433.6 430" stroke="#ff0000" stroke-dasharray="3 2"/>
<path d="M378.5 447.5H399.5V457.5H378.5Z" stroke="#ff0000" stroke-dasharray="4 2"/>
<path d="M378.4 447.9L399.7 457.1" stroke="#ff0000" stroke-dasharray="3 2"/>
<path d="M378.4 457.1L399.7 447.9" stroke="#ff0000" stroke-dasharray="3 2"/>
<path d="M399.5 447.5H419.5V457.5H399.5Z" stroke="#ff0000" stroke-dasharray="4 2"/>
<path d="M399.7 447.9L419.7 457.1" stroke="#ff0000" stroke-dasharray="3 2"/>
<path d="M399.7 457.1L419.7 447.9" stroke="#ff0000" stroke-dasharray="3 2"/>
<path d="M378.4 457.5H419.7" stroke="#ff0000"/>
<path d="M433.5 362.5H443.5V391.5H433.5Z" stroke="#ff0000" stroke-dasharray="4 2"/>
<path d="M436 367.5h1M437 367.5h1M440 367.5h1M438 368.5h1M439 368.5h1M440 368.5h1M437 369.5h1M438 369.5h1M439 369.5h1M436 370.5h1M437 370.5h1M438 370.5h1M439 370.5h1M440 370.5h1M437 371.5h1M439 371.5h1M440 371.5h1M438 373.5h1M439 373.5h1M436 374.5h1M438 374.5h1M439 374.5h1M440 374.5h1M436 375.5h1M437 375.5h1M438 375.5h1M439 375.5h1M440 375.5h1M436 376.5h1M438 376.5h1M439 376.5h1M438 377.5h1M439 377.5h1M438 379.5h1M439 379.5h1M440 379.5h1M436 380.5h1M437 380.5h1M439 380.5h1M440 380.5h1M437 381.5h1M438 381.5h1M439 381.5h1M440 381.5h1M436 382.5h1M437 382.5h1M438 382.5h1M439 382.5h1M440 382.5h1M436 383.5h1M437 383.5h1M438 383.5h1M439 383.5h1M440 383.5h1" stroke="#00ff00"/>
<path d="M433.5 417.5H443.5V446.5H433.5Z" stroke="#ff0000" stroke-dasharray="4 2"/>
<path d="M437 422.5h1M438 422.5h1M439 422.5h1M436 423.5h1M438 423.5h1M439 423.5h1M440 423.5h1M436 424.5h1M437 424.5h1M439 424.5h1M440 424.5h1M436 425.5h1M437 425.5h1M438 425.5h1M439 425.5h1M440 425.5h1M436 426.5h1M437 426.5h1M438 426.5h1M439 426.5h1M440 426.5h1M439 428.5h1M437 429.5h1M438 429.5h1M436 430.5h1M437 430.5h1M439 430.5h1M440 430.5h1M436 431.5h1M437 431.5h1M438 431.5h1M439 431.5h1M440 431.5h1M437 432.5h1M438 432.5h1M440 432.5h1M436 434.5h1M440 434.5h1M436 435.5h1M437 435.5h1M438 435.5h1M439 435.5h1M436 436.5h1M438 436.5h1M439 436.5h1M440 436.5h1M436 437.5h1M437 437.5h1M439 437.5h1M438 438.5h1M439 438.5h1M440 438.5h1" stroke="#00ff00"/>
<path d="M399 354.5h1M400 354.5h1M401 354.5h1M402 354.5h1M404 354.5h1M400 355.5h1M402 355.5h1M404 355.5h1M399 356.5h1M401 356.5h1M402 356.5h1M403 356.5h1M400 357.5h1M402 357.5h1M403 357.5h1M400 358.5h1M402 358.5h1M404 358.5h1M399 359.5h1M400 359.5h1M402 359.5h1M403 359.5h1M401 361.5h1M403 361.5h1M400 362.5h1M402 362.5h1M404 362.5h1M400 363.5h1M401 363.5h1M403 363.5h1M404 363.5h1M399 364.5h1M401 364.5h1M402 364.5h1M403 364.5h1M404 364.5h1M399 365.5h1M400 365.5h1M402 365.5h1M403 365.5h1M400 366.5h1M401 366.5h1M402 366.5h1M403 366.5h1M404 366.5h1M401 368.5h1M402 368.5h1M403 368.5h1M404 368.5h1M399 369.5h1M400 369.5h1M401 369.5h1M402 369.5h1M404 369.5h1M399 370.5h1M400 370.5h1M401 370.5h1M402 370.5h1M403 370.5h1M400 371.5h1M401 371.5h1M402 371.5h1M403 371.5h1M400 372.5h1M401 372.5h1M402 372.5h1M403 372.5h1M401 373.5h1M402 373.5h1M403 373.5h1M399 375.5h1M400 375.5h1M401 375.5h1M402 375.5h1M400 376.5h1M401 376.5h1M402 376.5h1M401 377.5h1M402 377.5h1M399 378.5h1M400 378.5h1M401 378.5h1M402 378.5h1M404 378.5h1M399 379.5h1M400 379.5h1M401 379.5h1M402 379.5h1M403 379.5h1M400 380.5h1M401 380.5h1M402 380.5h1M403 380.5h1M404 380.5h1M401 382.5h1M402 382.5h1M403 382.5h1M404 382.5h1M400 383.5h1M401 383.5h1M402 383.5h1M403 383.5h1M404 383.5h1M399 384.5h1M400 384.5h1M401 384.5h1M402 384.5h1M403 384.5h1M404 384.5h1M399 385.5h1M400 385.5h1M401 385.5h1M402 385.5h1M403 385.5h1M401 386.5h1M402 386.5h1M403 386.5h1M399 387.5h1M400 387.5h1M403 387.5h1M399 389.5h1M401 389.5h1M402 389.5h1M403 389.5h1M404 389.5h1M399 390.5h1M402 390.5h1M403 390.5h1M399 391.5h1M400 391.5h1M401 391.5h1M402 391.5h1M400 392.5h1M401 392.5h1M402 392.5h1M403 392.5h1M399 393.5h1M400 393.5h1M401 393.5h1M404 393.5h1M399 394.5h1M400 394.5h1M401 394.5h1M402 394.5h1M403 394.5h1M404 394.5h1M400 396.5h1M402 396.5h1M403 396.5h1M404 396.5h1M399 397.5h1M400 397.5h1M401 397.5h1M402 397.5h1M404 397.5h1M399 398.5h1M400 398.5h1M401 398.5h1M402 398.5h1M403 398.5h1M404 398.5h1M401 399.5h1M403 399.5h1M404 399.5h1M399 400.5h1M400 400.5h1M401 400.5h1M402 400.5h1" stroke="#00ff00"/>
<path d="M471.5 346.5H486.5V374.5H471.5Z" stroke="#ff0000" stroke-dasharray="4 2"/>
<path d="M467 359.5h1M467 362.5h1M468 360.5h1M468 363.5h1M469 360.5h1M469 361.5h1M470 360.5h1M470 361.5h1M470 363.5h1M471 361.5h1M471 362.5h1M471 363.5h1M473 360.5h1M473 361.5h1M473 362.5h1M474 360.5h1M474 361.5h1M474 362.5h1M474 363.5h1M475 360.5h1M475 362.5h1M475 363.5h1M476 359.5h1M476 360.5h1M476 362.5h1M477 359.5h1M477 360.5h1M477 362.5h1M477 363.5h1M479 360.5h1M479 362.5h1M479 363.5h1M480 359.5h1M480 360.5h1M480 361.5h1M480 362.5h1" stroke="#00ff00"/>
<path d="M473.5 389.5H484.5V444.5H473.5Z" stroke="#ff0000" stroke-dasharray="4 2"/>
<path d="M473.4 408.5H484.8" stroke="#ff0000"/>
<path d="M473.4 426.5H484.8" stroke="#ff0000"/>
<path d="M459 397.5h1M459 398.5h1M459 399.5h1M460 396.5h1M460 397.5h1M460 398.5h1M460 399.5h1M460 400.5h1M461 397.5h1M461 398.5h1M461 399.5h1M462 396.5h1M462 397.5h1M462 398.5h1M462 400.5h1M463 396.5h1M463 397.5h1M463 398.5h1M463 400.5h1M465 396.5h1M465 397.5h1M465 398.5h1M465 399.5h1M465 400.5h1M466 398.5h1M466 399.5h1M466 400.5h1M467 397.5h1M467 399.5h1M467 400.5h1M468 396.5h1M468 397.5h1M468 398.5h1M468 399.5h1M469 397.5h1M469 398.5h1M469 399.5h1M471 397.5h1M471 400.5h1M472 396.5h1M472 397.5h1M472 398.5h1M472 399.5h1M472 400.5h1M473 396.5h1M473 397.5h1M473 399.5h1M474 396.5h1M474 398.5h1M474 399.5h1M474 400.5h1" stroke="#00ff00"/>
<path d="M461 417.5h1M462 416.5h1M462 417.5h1M462 418.5h1M462 419.5h1M463 415.5h1M463 418.5h1M463 419.5h1M464 416.5h1M464 417.5h1M464 418.5h1M465 417.5h1M465 418.5h1M467 417.5h1M468 415.5h1M468 416.5h1M468 418.5h1M468 419.5h1M469 416.5h1M469 417.5h1M469 418.5h1M469 419.5h1M470 415.5h1M470 418.5h1M470 419.5h1M471 415.5h1M471 417.5h1M471 418.5h1M473 416.5h1M473 417.5h1M473 418.5h1M473 419.5h1M474 416.5h1M474 417.5h1" stroke="#00ff00"/>
<path d="M467 433.5h1M467 435.5h1M467 436.5h1M467 437.5h1M468 434.5h1M468 436.5h1M468 437.5h1M469 435.5h1M469 436.5h1M469 437.5h1M470 434.5h1M470 435.5h1M470 437.5h1M471 437.5h1M473 434.5h1M473 435.5h1M473 436.5h1M473 437.5h1M474 433.5h1M474 435.5h1M474 436.5h1M474 437.5h1M475 433.5h1M475 434.5h1M475 435.5h1M475 436.5h1M475 437.5h1M476 433.5h1M476 434.5h1M476 436.5h1M476 437.5h1M477 434.5h1M477 435.5h1M477 436.5h1M477 437.5h1" stroke="#00ff00"/>
<path transform="translate(470.9 455.8)" d="M-13.6 -1.3L-9.57 -1.3M-11.59 -3.25L-11.59 0.33M-11.59 0.33L-13.6 3.25M-11.59 0.33L-9.57 3.25M-12.8 -2.92L-10.38 -2.92M-12.59 1.3L-10.58 1.3M-7.96 -3.25L-7.96 3.25M-8.97 -0.98L-6.95 -0.98M-6.75 -2.27L-4.94 -2.27M-5.94 -2.27L-5.94 3.25M-6.75 0.65L-4.94 0.65M-8.77 1.3L-7.15 0.33M-6.75 3.25L-4.94 3.25M-4.33 -1.3L-0.3 -1.3M-2.32 -3.25L-2.32 0.33M-2.32 0.33L-4.33 3.25M-2.32 0.33L-0.3 3.25M-3.53 -2.92L-1.11 -2.92M-3.32 1.3L-1.31 1.3M0.3 -1.3L4.33 -1.3M2.32 -3.25L2.32 0.33M2.32 0.33L0.3 3.25M2.32 0.33L4.33 3.25M1.11 -2.92L3.53 -2.92M1.31 1.3L3.32 1.3M5.34 -3.25L8.56 -3.25M5.34 -3.25L5.34 0M8.56 -3.25L8.56 0M5.34 0L8.56 0M6.95 0L6.95 3.25M4.94 3.25L8.97 3.25M5.74 1.62L8.16 1.62M5.34 -1.62L8.56 -1.62M9.57 -3.25L13.6 -3.25M9.57 -3.25L9.57 3.25M13.6 -3.25L13.6 3.25M9.57 3.25L13.6 3.25M10.58 -1.3L12.59 -1.3M11.59 -1.3L11.59 1.95M10.58 1.95L12.59 1.95M10.58 0.33L12.59 0.33" stroke="#00ff00"/>
<path d="M524.5 346.8V484.3" stroke="#ff0000" stroke-dasharray="4 2"/>
<path d="M524.4 484.5H539.8" stroke="#ff0000" stroke-dasharray="4 2"/>
<path d="M524.4 374.5H539.8" stroke="#ff0000"/>
<path d="M524.4 401.5H539.8" stroke="#ff0000"/>
<path d="M524.4 429.5H539.8" stroke="#ff0000"/>
<path d="M524.4 456.5H539.8" stroke="#ff0000"/>
<path d="M519 359.5h1M519 360.5h1M519 361.5h1M519 362.5h1M519 363.5h1M520 360.5h1M520 361.5h1M520 362.5h1M520 363.5h1M521 359.5h1M521 360.5h1M521 361.5h1M521 362.5h1M522 361.5h1M522 362.5h1M522 363.5h1M523 359.5h1M523 360.5h1M523 361.5h1M523 362.5h1M523 363.5h1M525 360.5h1M525 361.5h1M525 362.5h1M525 363.5h1M526 359.5h1M526 360.5h1M526 361.5h1M526 362.5h1M526 363.5h1M527 359.5h1M527 360.5h1M527 361.5h1M527 362.5h1M528 359.5h1M528 361.5h1M528 362.5h1M528 363.5h1M529 359.5h1M529 360.5h1M529 361.5h1M529 362.5h1M531 362.5h1M532 359.5h1M532 360.5h1M532 362.5h1M532 363.5h1" stroke="#00ff00"/>
<path d="M519 388.5h1M519 389.5h1M519 391.5h1M520 387.5h1M520 388.5h1M520 390.5h1M521 389.5h1M521 390.5h1M522 387.5h1M522 388.5h1M522 389.5h1M522 390.5h1M522 391.5h1M523 388.5h1M523 390.5h1M523 391.5h1M525 388.5h1M525 389.5h1M526 388.5h1M526 389.5h1M526 390.5h1M527 388.5h1M527 389.5h1M527 390.5h1M527 391.5h1M528 387.5h1M528 388.5h1M528 390.5h1M528 391.5h1M529 388.5h1M529 389.5h1M529 390.5h1M531 387.5h1M531 388.5h1M531 389.5h1M531 390.5h1M532 387.5h1M532 388.5h1M532 390.5h1" stroke="#00ff00"/>
<path d="M519 415.5h1M519 416.5h1M519 417.5h1M520 414.5h1M520 416.5h1M520 417.5h1M521 414.5h1M521 415.5h1M521 417.5h1M521 418.5h1M522 414.5h1M522 415.5h1M522 416.5h1M522 417.5h1M522 418.5h1M523 415.5h1M523 418.5h1M525 414.5h1M525 416.5h1M525 417.5h1M525 418.5h1M526 415.5h1M526 417.5h1M526 418.5h1M527 414.5h1M527 415.5h1M527 416.5h1M527 417.5h1M527 418.5h1M528 416.5h1M529 414.5h1M529 415.5h1M529 416.5h1M529 417.5h1M529 418.5h1M531 415.5h1M531 416.5h1M531 417.5h1M531 418.5h1M532 415.5h1M532 417.5h1" stroke="#00ff00"/>
<path d="M519 439.5h1M519 440.5h1M519 441.5h1M520 439.5h1M520 440.5h1M520 442.5h1M520 443.5h1M521 442.5h1M522 440.5h1M522 441.5h1M522 442.5h1M523 440.5h1M523 441.5h1M523 442.5h1M523 443.5h1M525 439.5h1M525 440.5h1M525 442.5h1M526 440.5h1M527 439.5h1M527 440.5h1M527 442.5h1M528 439.5h1M528 440.5h1M528 441.5h1M528 442.5h1M528 443.5h1M529 439.5h1M529 440.5h1M529 441.5h1M529 442.5h1M531 439.5h1M531 440.5h1M531 441.5h1M531 442.5h1M531 443.5h1M532 439.5h1M532 440.5h1M532 441.5h1M532 442.5h1" stroke="#00ff00"/>
<path d="M519 469.5h1M519 471.5h1M519 473.5h1M520 469.5h1M520 470.5h1M520 471.5h1M520 473.5h1M521 470.5h1M521 471.5h1M522 470.5h1M522 471.5h1M522 472.5h1M522 473.5h1M523 470.5h1M523 471.5h1M523 472.5h1M525 469.5h1M525 470.5h1M525 471.5h1M525 472.5h1M526 469.5h1M526 470.5h1M526 471.5h1M526 472.5h1M527 469.5h1M527 470.5h1M527 471.5h1M528 469.5h1M528 470.5h1M528 471.5h1M529 469.5h1M529 470.5h1M529 472.5h1M531 470.5h1M531 471.5h1M531 472.5h1M531 473.5h1M532 471.5h1" stroke="#00ff00"/>
<path d="M550.5 346.8V624.3" stroke="#ff0000" stroke-dasharray="4 2"/>
<path d="M539.8 391.5H550.3" stroke="#ff0000"/>
<path d="M539.8 346.8L550.3 368.95" stroke="#ff0000" stroke-dasharray="3 2"/>
<path d="M539.8 368.95L550.3 346.8" stroke="#ff0000" stroke-dasharray="3 2"/>
<path d="M539.8 368.95L550.3 391.1" stroke="#ff0000" stroke-dasharray="3 2"/>
<path d="M539.8 391.1L550.3 368.95" stroke="#ff0000" stroke-dasharray="3 2"/>
<path d="M539.8 435.5H550.3" stroke="#ff0000"/>
<path d="M539.8 391.1L550.3 413.05" stroke="#ff0000" stroke-dasharray="3 2"/>
<path d="M539.8 413.05L550.3 391.1" stroke="#ff0000" stroke-dasharray="3 2"/>
<path d="M539.8 413.05L550.3 435" stroke="#ff0000" stroke-dasharray="3 2"/>
<path d="M539.8 435L550.3 413.05" stroke="#ff0000" stroke-dasharray="3 2"/>
<path d="M539.8 480.5H550.3" stroke="#ff0000"/>
<path d="M539.8 435L550.3 457.55" stroke="#ff0000" stroke-dasharray="3 2"/>
<path d="M539.8 457.55L550.3 435" stroke="#ff0000" stroke-dasharray="3 2"/>
<path d="M539.8 457.55L550.3 480.1" stroke="#ff0000" stroke-dasharray="3 2"/>
<path d="M539.8 480.1L550.3 457.55" stroke="#ff0000" stroke-dasharray="3 2"/>
<path d="M539.8 525.5H550.3" stroke="#ff0000"/>
<path d="M539.8 480.1L550.3 502.65" stroke="#ff0000" stroke-dasharray="3 2"/>
<path d="M539.8 502.65L550.3 480.1" stroke="#ff0000" stroke-dasharray="3 2"/>
<path d="M539.8 502.65L550.3 525.2" stroke="#ff0000" stroke-dasharray="3 2"/>
<path d="M539.8 525.2L550.3 502.65" stroke="#ff0000" stroke-dasharray="3 2"/>
<path d="M539.8 569.5H550.3" stroke="#ff0000"/>
<path d="M539.8 525.2L550.3 547.35" stroke="#ff0000" stroke-dasharray="3 2"/>
<path d="M539.8 547.35L550.3 525.2" stroke="#ff0000" stroke-dasharray="3 2"/>
<path d="M539.8 547.35L550.3 569.5" stroke="#ff0000" stroke-dasharray="3 2"/>
<path d="M539.8 569.5L550.3 547.35" stroke="#ff0000" stroke-dasharray="3 2"/>
<path d="M539.8 613.5H550.3" stroke="#ff0000"/>
<path d="M539.8 569.5L550.3 591.7" stroke="#ff0000" stroke-dasharray="3 2"/>
<path d="M539.8 591.7L550.3 569.5" stroke="#ff0000" stroke-dasharray="3 2"/>
<path d="M539.8 591.7L550.3 613.9" stroke="#ff0000" stroke-dasharray="3 2"/>
<path d="M539.8 613.9L550.3 591.7" stroke="#ff0000" stroke-dasharray="3 2"/>
<path d="M539.5 346.8V483.4" stroke="#ff0000" stroke-dasharray="5 3"/>
<path d="M539.5 350V483.4" stroke="#00ffff" stroke-dasharray="2 6"/>
<path d="M539.5 483.4V624.3" stroke="#00ffff"/>
<path d="M555 375.5h1M555 376.5h1M555 378.5h1M556 374.5h1M556 375.5h1M556 377.5h1M557 375.5h1M557 376.5h1M557 377.5h1M557 378.5h1M558 374.5h1M558 375.5h1M558 376.5h1M558 377.5h1M558 378.5h1M559 374.5h1M559 375.5h1M559 376.5h1M559 377.5h1M559 378.5h1M561 374.5h1M561 375.5h1M561 377.5h1M562 375.5h1M562 376.5h1M562 377.5h1M562 378.5h1M563 374.5h1M563 375.5h1M563 378.5h1" stroke="#00ff00"/>
<path d="M555 413.5h1M555 414.5h1M555 415.5h1M555 416.5h1M555 417.5h1M556 414.5h1M556 415.5h1M556 416.5h1M557 414.5h1M557 415.5h1M557 416.5h1M558 414.5h1M558 415.5h1M558 416.5h1M559 413.5h1M559 415.5h1M559 417.5h1M561 414.5h1M561 415.5h1M561 416.5h1M562 413.5h1M562 414.5h1M562 415.5h1M562 416.5h1M563 414.5h1M563 415.5h1M563 416.5h1M563 417.5h1" stroke="#00ff00"/>
<path d="M555 453.5h1M555 454.5h1M555 456.5h1M555 457.5h1M556 453.5h1M556 456.5h1M557 453.5h1M557 454.5h1M557 455.5h1M557 456.5h1M558 453.5h1M558 455.5h1M558 456.5h1M558 457.5h1M559 454.5h1M559 455.5h1M559 456.5h1M559 457.5h1M561 455.5h1M561 456.5h1M561 457.5h1M562 454.5h1M562 455.5h1M562 456.5h1M563 455.5h1M563 456.5h1M563 457.5h1" stroke="#00ff00"/>
<path d="M555 501.5h1M555 502.5h1M555 503.5h1M556 501.5h1M556 502.5h1M556 503.5h1M556 504.5h1M557 501.5h1M557 502.5h1M558 500.5h1M558 501.5h1M558 502.5h1M558 503.5h1M559 500.5h1M559 501.5h1M559 502.5h1M559 503.5h1M561 500.5h1M561 501.5h1M561 502.5h1M561 503.5h1M561 504.5h1M562 501.5h1M562 502.5h1M562 503.5h1M562 504.5h1M563 500.5h1M563 501.5h1M563 502.5h1M563 503.5h1" stroke="#00ff00"/>
<path d="M555 543.5h1M555 544.5h1M555 545.5h1M555 546.5h1M556 542.5h1M556 543.5h1M556 544.5h1M556 545.5h1M557 542.5h1M557 544.5h1M557 546.5h1M558 544.5h1M558 545.5h1M559 543.5h1M559 544.5h1M561 543.5h1M561 544.5h1M561 545.5h1M562 542.5h1M562 543.5h1M562 544.5h1M562 546.5h1M563 543.5h1M563 544.5h1M563 545.5h1M563 546.5h1" stroke="#00ff00"/>
<path d="M555 591.5h1M555 592.5h1M556 589.5h1M556 590.5h1M556 591.5h1M556 593.5h1M557 589.5h1M557 591.5h1M557 592.5h1M557 593.5h1M558 589.5h1M558 590.5h1M558 591.5h1M558 592.5h1M558 593.5h1M559 590.5h1M559 591.5h1M559 592.5h1M561 589.5h1M561 590.5h1M561 591.5h1M561 592.5h1M561 593.5h1M562 589.5h1M562 590.5h1M562 591.5h1M562 592.5h1M562 593.5h1M563 589.5h1M563 591.5h1M563 592.5h1" stroke="#00ff00"/>
<path d="M422.5 485.5H451.5V496.5H422.5Z" stroke="#ff0000" stroke-dasharray="4 2"/>
<path d="M422.2 485.9L451.4 496.3" stroke="#ff0000" stroke-dasharray="3 2"/>
<path d="M422.2 496.3L451.4 485.9" stroke="#ff0000" stroke-dasharray="3 2"/>
<path d="M451.5 485.5H480.5V496.5H451.5Z" stroke="#ff0000" stroke-dasharray="4 2"/>
<path d="M451.4 485.9L480.6 496.3" stroke="#ff0000" stroke-dasharray="3 2"/>
<path d="M451.4 496.3L480.6 485.9" stroke="#ff0000" stroke-dasharray="3 2"/>
<path d="M432 489.5h1M432 490.5h1M432 491.5h1M433 489.5h1M433 490.5h1M434 489.5h1M434 490.5h1M435 489.5h1M435 490.5h1M437 490.5h1M437 491.5h1M438 489.5h1M438 490.5h1" stroke="#00ff00"/>
<path d="M459 488.5h1M459 489.5h1M459 490.5h1M460 488.5h1M460 489.5h1M460 490.5h1M460 491.5h1M461 488.5h1M461 489.5h1M461 490.5h1M462 488.5h1M462 489.5h1M462 490.5h1M462 491.5h1M464 488.5h1M464 489.5h1M464 490.5h1M465 489.5h1M465 490.5h1M465 491.5h1" stroke="#00ff00"/>
<path d="M393.8 498H493.5" stroke="#00ffff" stroke-width="2"/>
<path d="M520.2 498H525.4" stroke="#00ffff" stroke-width="2"/>
<path d="M490.1 499.5H518.6" stroke="#ff0000" stroke-dasharray="4 2"/>
<path d="M378.5 511.5V625.1" stroke="#00ffff"/>
<path d="M380.5 511.5V625.1" stroke="#00ffff"/>
<path d="M442.5 499.5H471.5V507.5H442.5Z" stroke="#ff0000" stroke-dasharray="4 2"/>
<path d="M442 499.8L471.8 507.7" stroke="#ff0000" stroke-dasharray="3 2"/>
<path d="M442 507.7L471.8 499.8" stroke="#ff0000" stroke-dasharray="3 2"/>
<path d="M446 501.5h1M446 502.5h1M446 503.5h1M446 504.5h1M447 501.5h1M447 502.5h1M447 503.5h1M448 501.5h1M448 502.5h1M448 503.5h1M448 504.5h1M449 501.5h1M449 502.5h1M449 503.5h1M451 502.5h1M451 503.5h1M451 504.5h1M452 501.5h1M452 502.5h1M452 503.5h1M452 504.5h1M453 501.5h1M453 503.5h1M454 501.5h1M454 502.5h1M454 503.5h1M454 504.5h1" stroke="#00ff00"/>
<path d="M433.5 498.8V624.3" stroke="#ff0000" stroke-dasharray="4 2"/>
<path d="M486.5 499.6V624.3" stroke="#ff0000" stroke-dasharray="4 2"/>
<path d="M380.4 561.5H538.6" stroke="#ff0000" stroke-dasharray="4 2"/>
<path d="M399.5 498.8V561.1" stroke="#ffffff"/>
<path d="M396 498.5H403.5" stroke="#ffffff"/>
<path d="M396 561.5H403.5" stroke="#ffffff"/>
<path d="M380.4 527.5H433.6" stroke="#ffffff"/>
<path d="M380.5 524V530" stroke="#ffffff"/>
<path d="M433.5 524V530" stroke="#ffffff"/>
<path transform="translate(406.5 517.5)" d="M-8.04,1.09L-6.94,0L-5.85,0L-4.76,1.09L-4.76,2.19L-8.04,6.56L-4.76,6.56M-2.68,0L-1.59,0L-0.49,1.09L-0.49,2.19L-1.59,3.28L-2.68,3.28L-3.77,2.19L-3.77,1.09ZM-2.68,3.28L-3.77,4.37L-3.77,5.47L-2.68,6.56L-1.59,6.56L-0.49,5.47L-0.49,4.37L-1.59,3.28M1.59,0L2.68,0L3.77,1.09L3.77,2.19L2.68,3.28L1.59,3.28L0.49,2.19L0.49,1.09ZM1.59,3.28L0.49,4.37L0.49,5.47L1.59,6.56L2.68,6.56L3.77,5.47L3.77,4.37L2.68,3.28M4.76,0L8.04,0L6.29,2.73L6.94,2.73L8.04,3.83L8.04,5.47L6.94,6.56L5.85,6.56L4.76,5.47" stroke="#ffffff" stroke-linejoin="round"/>
<path transform="translate(390.5 530.5) rotate(-90)" d="M-8.04,0L-4.76,0L-6.51,2.73L-5.85,2.73L-4.76,3.83L-4.76,5.47L-5.85,6.56L-6.94,6.56L-8.04,5.47M-1.15,6.56L-1.15,0L-3.77,4.37L-0.27,4.37M0.49,1.09L1.59,0L2.68,0L3.77,1.09L3.77,2.19L0.49,6.56L3.77,6.56M8.04,0L4.76,0L4.76,2.73L6.94,2.73L8.04,3.83L8.04,5.47L6.94,6.56L5.85,6.56L4.76,5.47" stroke="#ffffff" stroke-linejoin="round"/>
<path d="M502.5 498.5V624.3" stroke="#ffffff"/>
<path d="M499 498.5H506.5" stroke="#ffffff"/>
<path d="M499 561.5H506.5" stroke="#ffffff"/>
<path d="M499 624.5H506.5" stroke="#ffffff"/>
<path transform="translate(493.5 530.5) rotate(-90)" d="M-8.04,0L-4.76,0L-6.51,2.73L-5.85,2.73L-4.76,3.83L-4.76,5.47L-5.85,6.56L-6.94,6.56L-8.04,5.47M-1.15,6.56L-1.15,0L-3.77,4.37L-0.27,4.37M0.49,1.09L1.59,0L2.68,0L3.77,1.09L3.77,2.19L0.49,6.56L3.77,6.56M8.04,0L4.76,0L4.76,2.73L6.94,2.73L8.04,3.83L8.04,5.47L6.94,6.56L5.85,6.56L4.76,5.47" stroke="#ffffff" stroke-linejoin="round"/>
<path transform="translate(493.5 592.5) rotate(-90)" d="M-8.04,0L-4.76,0L-6.51,2.73L-5.85,2.73L-4.76,3.83L-4.76,5.47L-5.85,6.56L-6.94,6.56L-8.04,5.47M-1.15,6.56L-1.15,0L-3.77,4.37L-0.27,4.37M0.49,1.09L1.59,0L2.68,0L3.77,1.09L3.77,2.19L0.49,6.56L3.77,6.56M8.04,0L4.76,0L4.76,2.73L6.94,2.73L8.04,3.83L8.04,5.47L6.94,6.56L5.85,6.56L4.76,5.47" stroke="#ffffff" stroke-linejoin="round"/>
<path d="M399 530.5h1M399 531.5h1M399 532.5h1M399 533.5h1M400 530.5h1M400 531.5h1M400 532.5h1M400 533.5h1M401 530.5h1M401 531.5h1M402 530.5h1M402 531.5h1M402 532.5h1M402 533.5h1M403 531.5h1M403 532.5h1M403 533.5h1M405 529.5h1M405 530.5h1M405 531.5h1M405 532.5h1M406 529.5h1M406 530.5h1M406 532.5h1" stroke="#00ff00"/>
<path d="M381 553.5h1M381 554.5h1M381 556.5h1M381 557.5h1M382 553.5h1M382 555.5h1M383 553.5h1M383 554.5h1M383 555.5h1M383 556.5h1M384 554.5h1M384 557.5h1M385 554.5h1M385 556.5h1M385 557.5h1M387 554.5h1M387 555.5h1M388 555.5h1M388 556.5h1" stroke="#00ff00"/>
<path d="M399 582.5h1M399 583.5h1M399 584.5h1M400 581.5h1M400 582.5h1M400 583.5h1M400 584.5h1M400 585.5h1M401 581.5h1M401 582.5h1M401 583.5h1M401 585.5h1M402 581.5h1M402 582.5h1M402 584.5h1M403 584.5h1M405 581.5h1M405 582.5h1M405 584.5h1M405 585.5h1M406 582.5h1M406 583.5h1M406 584.5h1" stroke="#00ff00"/>
<path d="M451 530.5h1M451 531.5h1M451 532.5h1M451 533.5h1M452 530.5h1M452 531.5h1M452 532.5h1M452 533.5h1M453 529.5h1M453 530.5h1M453 532.5h1M454 530.5h1M454 532.5h1M455 529.5h1M457 529.5h1M457 530.5h1M457 531.5h1M458 530.5h1M458 531.5h1M458 532.5h1" stroke="#00ff00"/>
<path d="M506 530.5h1M506 532.5h1M506 533.5h1M507 529.5h1M507 530.5h1M507 532.5h1M508 529.5h1M508 530.5h1M508 531.5h1M508 532.5h1M508 533.5h1M509 529.5h1M509 531.5h1M510 531.5h1M510 532.5h1M510 533.5h1M512 531.5h1M513 530.5h1M513 531.5h1" stroke="#00ff00"/>
<path d="M496 501.5h1M496 502.5h1M496 503.5h1M496 504.5h1M497 501.5h1M497 502.5h1M497 504.5h1M497 505.5h1M498 502.5h1M498 503.5h1M498 504.5h1M499 501.5h1M499 502.5h1M499 503.5h1M500 501.5h1M500 502.5h1M500 504.5h1M502 501.5h1M502 502.5h1M502 503.5h1M502 504.5h1M502 505.5h1M503 501.5h1M503 503.5h1M503 504.5h1M503 505.5h1" stroke="#00ff00"/>
<path d="M506 582.5h1M506 584.5h1M507 582.5h1M507 583.5h1M507 584.5h1M508 581.5h1M508 582.5h1M508 583.5h1M508 584.5h1M509 582.5h1M509 583.5h1M509 584.5h1M509 585.5h1M510 581.5h1M510 582.5h1M510 583.5h1M510 584.5h1M512 582.5h1M513 581.5h1M513 582.5h1M513 583.5h1M513 585.5h1" stroke="#00ff00"/>
<path d="M451 581.5h1M451 582.5h1M451 584.5h1M451 585.5h1M452 581.5h1M452 582.5h1M452 583.5h1M452 584.5h1M452 585.5h1M453 581.5h1M453 583.5h1M453 584.5h1M453 585.5h1M454 581.5h1M454 582.5h1M454 583.5h1M454 584.5h1M454 585.5h1M455 583.5h1M455 584.5h1M457 581.5h1M457 583.5h1M457 585.5h1M458 582.5h1M458 583.5h1M458 585.5h1" stroke="#00ff00"/>
<path d="M413 618.5h1M413 619.5h1M413 620.5h1M414 618.5h1M414 620.5h1M414 621.5h1M415 617.5h1M415 618.5h1M415 619.5h1M416 617.5h1M416 618.5h1M416 620.5h1M416 621.5h1M417 618.5h1M417 619.5h1M417 620.5h1M417 621.5h1M419 618.5h1M419 619.5h1M419 620.5h1M420 618.5h1M420 619.5h1" stroke="#00ff00"/>
<path d="M479 619.5h1M479 620.5h1M479 621.5h1M480 620.5h1M480 621.5h1M480 622.5h1M481 620.5h1M481 621.5h1M481 622.5h1M481 623.5h1M482 619.5h1M482 620.5h1M482 622.5h1M482 623.5h1M483 620.5h1M483 622.5h1M483 623.5h1M485 619.5h1M485 621.5h1M485 622.5h1M485 623.5h1M486 621.5h1M486 623.5h1" stroke="#00ff00"/>
<path d="M447.5 546.5H475.5V576.5H447.5Z" stroke="#ff0000" stroke-dasharray="4 2"/>
<path d="M447 553.5h1M447 554.5h1M447 555.5h1M447 556.5h1M447 557.5h1M448 554.5h1M448 556.5h1M448 557.5h1M449 553.5h1M449 554.5h1M449 555.5h1M449 556.5h1M449 557.5h1M450 553.5h1M450 554.5h1M450 556.5h1M450 557.5h1M451 553.5h1M451 554.5h1M451 555.5h1M453 553.5h1M453 554.5h1M453 555.5h1M453 556.5h1M453 557.5h1M454 553.5h1M454 554.5h1M454 555.5h1M454 556.5h1M455 553.5h1M455 554.5h1M455 555.5h1M455 557.5h1M456 553.5h1M456 554.5h1M456 556.5h1M456 557.5h1M457 553.5h1M457 554.5h1M457 555.5h1M457 556.5h1M459 554.5h1M459 555.5h1M459 557.5h1M460 553.5h1M460 554.5h1M460 555.5h1M460 556.5h1" stroke="#00ff00"/>
<path d="M447 561.5h1M447 562.5h1M447 563.5h1M447 564.5h1M447 565.5h1M448 561.5h1M448 562.5h1M448 563.5h1M448 564.5h1M448 565.5h1M449 562.5h1M449 563.5h1M449 564.5h1M450 562.5h1M450 564.5h1M450 565.5h1M451 561.5h1M451 562.5h1M451 563.5h1M451 564.5h1M454 562.5h1M454 563.5h1M454 564.5h1M454 565.5h1M455 561.5h1M455 562.5h1M455 563.5h1M455 564.5h1M456 561.5h1M456 562.5h1M456 564.5h1M456 565.5h1M457 561.5h1M457 562.5h1M457 563.5h1M457 565.5h1M459 562.5h1M459 564.5h1M459 565.5h1M460 563.5h1M460 564.5h1" stroke="#00ff00"/>
<path transform="translate(441 596.2)" d="M-21.33 -3.25L-21.33 3.25M-22.06 -1.62L-20.35 -1.62M-22.06 0.65L-20.35 -0.32M-19.87 -2.6L-17.18 -2.6M-19.87 -0.65L-17.18 -0.65M-18.65 -2.6L-18.65 3.25M-19.87 1.3L-17.18 1.3M-19.87 3.25L-17.18 3.25M-15.23 -3.25L-15.23 3.25M-16.45 -0.98L-14.02 -0.98M-13.77 -2.27L-11.58 -2.27M-12.8 -2.27L-12.8 3.25M-13.77 0.65L-11.58 0.65M-16.21 1.3L-14.26 0.33M-13.77 3.25L-11.58 3.25M-10.85 -1.3L-5.97 -1.3M-8.41 -3.25L-8.41 0.33M-8.41 0.33L-10.85 3.25M-8.41 0.33L-5.97 3.25M-9.87 -2.92L-6.95 -2.92M-9.63 1.3L-7.19 1.3M-4.27 -3.25L-4.27 3.25M-4.27 -1.95L-2.56 -2.6M-2.32 -3.25L-2.32 3.25M-2.32 -1.3L-0.37 -1.3M-2.32 0.98L-0.37 0.98M-0.37 -1.3L-0.37 3.25M-5.24 0L-3.29 0M-2.32 3.25L-0.37 3.25M0.85 -3.25L4.75 -3.25M0.85 -3.25L0.85 0M4.75 -3.25L4.75 0M0.85 0L4.75 0M2.8 0L2.8 3.25M0.37 3.25L5.24 3.25M1.34 1.62L4.27 1.62M0.85 -1.62L4.75 -1.62M6.95 -3.25L6.95 3.25M6.95 -1.95L8.65 -2.6M8.9 -3.25L8.9 3.25M8.9 -1.3L10.85 -1.3M8.9 0.98L10.85 0.98M10.85 -1.3L10.85 3.25M5.97 0L7.92 0M8.9 3.25L10.85 3.25M12.07 -1.95L15.97 -1.95M14.02 -3.25L14.02 3.25M12.07 0.65L15.97 0.65M12.31 3.25L15.72 3.25M12.07 -1.95L12.07 0.65M15.97 -1.95L15.97 0.65M17.92 -3.25L17.92 3.25M17.18 -1.62L18.89 -1.62M17.18 0.65L18.89 -0.32M19.38 -2.6L22.06 -2.6M19.38 -0.65L22.06 -0.65M20.6 -2.6L20.6 3.25M19.38 1.3L22.06 1.3M19.38 3.25L22.06 3.25" stroke="#00ff00"/>
<path d="M378.4 625H1032" stroke="#00ffff" stroke-width="2"/>
<path d="M408 624.5H434.8" stroke="#ff0000" stroke-dasharray="4 2"/>
<path d="M467.6 624.5H498.5" stroke="#ff0000" stroke-dasharray="4 2"/>
<path d="M306.1 615H378.4" stroke="#00ffff" stroke-width="2"/>
<path d="M350 615.9V632.6" stroke="#00ffff" stroke-width="2"/>
<path d="M333.6 615.9A16.4 16.4 0 0 0 350 632.3" stroke="#ff0000" stroke-dasharray="3 2"/>
<path d="M536 625.6V642" stroke="#00ffff" stroke-width="2"/>
<path d="M519.4 625.6A16.4 16.4 0 0 0 535.8 642" stroke="#ff0000" stroke-dasharray="3 2"/>
<path d="M573 625.6V642" stroke="#00ffff" stroke-width="2"/>
<path d="M556.8 625.6A16.4 16.4 0 0 0 573.2 642" stroke="#ff0000" stroke-dasharray="3 2"/>
<path d="M984 625.6V641" stroke="#00ffff" stroke-width="2"/>
<path d="M968.5 625.6A15.4 15.4 0 0 0 983.9 641" stroke="#ff0000" stroke-dasharray="3 2"/>
<path d="M719.3 624.5H754.6" stroke="#ff0000"/>
<path d="M801.7 624.5H836.4" stroke="#ff0000"/>
<path d="M892.7 624.5H928.5" stroke="#ff0000"/>
<path d="M728 618.5h1M728 619.5h1M728 620.5h1M729 617.5h1M729 619.5h1M729 620.5h1M730 617.5h1M731 617.5h1M731 618.5h1M731 619.5h1M731 620.5h1M733 618.5h1M733 619.5h1M733 620.5h1M734 617.5h1M734 618.5h1M734 619.5h1M734 620.5h1M735 617.5h1M735 618.5h1M735 619.5h1M736 618.5h1M736 619.5h1M736 620.5h1" stroke="#00ff00"/>
<path d="M812 618.5h1M812 620.5h1M813 620.5h1M814 617.5h1M814 618.5h1M814 619.5h1M815 618.5h1M815 619.5h1M815 620.5h1M817 619.5h1M818 618.5h1M818 619.5h1M818 620.5h1M819 617.5h1M819 618.5h1M819 619.5h1M820 617.5h1M820 618.5h1M820 619.5h1M820 620.5h1" stroke="#00ff00"/>
<path d="M902 618.5h1M902 619.5h1M902 620.5h1M903 618.5h1M903 619.5h1M903 620.5h1M903 621.5h1M904 619.5h1M904 620.5h1M905 620.5h1M905 621.5h1M907 619.5h1M907 620.5h1M907 621.5h1M908 619.5h1M908 621.5h1M909 618.5h1M909 620.5h1M910 619.5h1M910 620.5h1M910 621.5h1" stroke="#00ff00"/>
<path d="M635.5 407.5H720.5V469.5H635.5Z" stroke="#ff0000" stroke-dasharray="4 2"/>
<path d="M635.2 419.5H720.5" stroke="#ffffff"/>
<path d="M635.5 415V419.3" stroke="#ffffff"/>
<path d="M720.5 415V419.3" stroke="#ffffff"/>
<path transform="translate(676.5 410.5)" d="M-5.41,6.56L-5.41,0L-8.04,4.37L-4.54,4.37M-0.49,1.09L-1.59,0L-2.68,0L-3.77,1.09L-3.77,5.47L-2.68,6.56L-1.59,6.56L-0.49,5.47L-0.49,3.83L-1.59,2.73L-3.77,2.73M0.49,1.09L1.59,0L2.68,0L3.77,1.09L3.77,5.47L2.68,6.56L1.59,6.56L0.49,5.47ZM4.76,1.09L5.85,0L6.94,0L8.04,1.09L8.04,2.19L4.76,6.56L8.04,6.56" stroke="#ffffff" stroke-linejoin="round"/>
<path d="M726.5 407.3V469.2" stroke="#ffffff"/>
<path d="M724.8 407.5H731" stroke="#ffffff"/>
<path d="M724.8 469.5H731" stroke="#ffffff"/>
<path transform="translate(718.5 439.5) rotate(-90)" d="M-8.04,0L-4.76,0L-6.51,2.73L-5.85,2.73L-4.76,3.83L-4.76,5.47L-5.85,6.56L-6.94,6.56L-8.04,5.47M-3.77,0L-0.49,0L-2.24,2.73L-1.59,2.73L-0.49,3.83L-0.49,5.47L-1.59,6.56L-2.68,6.56L-3.77,5.47M3.77,0L0.49,0L0.49,2.73L2.68,2.73L3.77,3.83L3.77,5.47L2.68,6.56L1.59,6.56L0.49,5.47M4.76,5.47L5.85,6.56L6.94,6.56L8.04,5.47L8.04,1.09L6.94,0L5.85,0L4.76,1.09L4.76,2.73L5.85,3.83L8.04,3.83" stroke="#ffffff" stroke-linejoin="round"/>
<path transform="translate(673.5 434.5)" d="M-3.04,1.27L-4.31,0L-5.57,0L-6.84,1.27L-6.84,6.33L-5.57,7.6L-4.31,7.6L-3.04,6.33M-1.9,7.6L-1.9,0L0,3.8L1.9,0L1.9,7.6M3.04,7.6L3.04,0L5.57,0L6.84,1.27L6.84,2.53L5.57,3.8L3.04,3.8" stroke="#00ff00" stroke-linejoin="round"/>
<path transform="translate(691.5 438.7)" d="M-5.25 -3.75L-5.25 3.75M-5.25 -2.25L-3.15 -3M-2.85 -3.75L-2.85 3.75M-2.85 -1.5L-0.45 -1.5M-2.85 1.12L-0.45 1.12M-0.45 -1.5L-0.45 3.75M-6.45 0L-4.05 0M-2.85 3.75L-0.45 3.75M1.05 -2.25L5.85 -2.25M3.45 -3.75L3.45 3.75M1.05 0.75L5.85 0.75M1.35 3.75L5.55 3.75M1.05 -2.25L1.05 0.75M5.85 -2.25L5.85 0.75" stroke="#00ff00"/>
<path d="M626.5 495.5H654.5V510.5H626.5Z" stroke="#ff0000" stroke-dasharray="4 2"/>
<path d="M626 503.5h1M626 504.5h1M626 505.5h1M627 505.5h1M628 502.5h1M628 503.5h1M628 504.5h1M628 505.5h1M628 506.5h1M629 502.5h1M629 503.5h1M629 504.5h1M629 505.5h1M629 506.5h1M630 503.5h1M630 504.5h1M630 505.5h1M630 506.5h1M632 502.5h1M632 503.5h1M632 504.5h1M632 505.5h1M632 506.5h1M633 503.5h1M633 504.5h1M633 505.5h1M633 506.5h1M634 503.5h1M634 505.5h1M634 506.5h1M635 502.5h1M635 503.5h1M635 505.5h1M635 506.5h1M636 502.5h1M636 503.5h1M636 504.5h1M636 505.5h1M638 502.5h1M638 503.5h1M638 504.5h1M638 505.5h1M638 506.5h1M639 503.5h1M639 504.5h1M639 505.5h1M639 506.5h1" stroke="#00ff00"/>
<path d="M704.5 496.5H732.5V510.5H704.5Z" stroke="#ff0000" stroke-dasharray="4 2"/>
<path d="M704 502.5h1M704 503.5h1M704 504.5h1M705 502.5h1M705 503.5h1M705 505.5h1M706 502.5h1M706 504.5h1M706 505.5h1M707 502.5h1M707 503.5h1M707 504.5h1M707 505.5h1M707 506.5h1M708 503.5h1M708 504.5h1M708 505.5h1M708 506.5h1M710 503.5h1M710 504.5h1M710 505.5h1M710 506.5h1M711 503.5h1M711 504.5h1M711 505.5h1M711 506.5h1M712 502.5h1M712 503.5h1M712 504.5h1M712 505.5h1M713 502.5h1M713 503.5h1M713 504.5h1M713 505.5h1M714 504.5h1M714 505.5h1M714 506.5h1M716 503.5h1M716 504.5h1M716 505.5h1M717 503.5h1M717 504.5h1M717 505.5h1M717 506.5h1" stroke="#00ff00"/>
<path d="M627.5 522.5H728.5V597.5H627.5Z" stroke="#ff0000" stroke-dasharray="4 2"/>
<path d="M627.2 537.5H728.5" stroke="#ffffff"/>
<path d="M627.5 533V537.2" stroke="#ffffff"/>
<path d="M728.5 533V537.2" stroke="#ffffff"/>
<path transform="translate(677.5 528.5)" d="M-4.76,0L-8.04,0L-8.04,2.73L-5.85,2.73L-4.76,3.83L-4.76,5.47L-5.85,6.56L-6.94,6.56L-8.04,5.47M-0.49,0L-3.77,0L-3.77,2.73L-1.59,2.73L-0.49,3.83L-0.49,5.47L-1.59,6.56L-2.68,6.56L-3.77,5.47M0.49,1.09L1.59,0L2.68,0L3.77,1.09L3.77,2.19L0.49,6.56L3.77,6.56M4.76,1.09L5.85,0L6.94,0L8.04,1.09L8.04,5.47L6.94,6.56L5.85,6.56L4.76,5.47Z" stroke="#ffffff" stroke-linejoin="round"/>
<path d="M746.5 522.4V597.4" stroke="#ffffff"/>
<path d="M736.9 522.5H750.3" stroke="#ffffff"/>
<path d="M736.9 597.5H750.3" stroke="#ffffff"/>
<path transform="translate(737.5 561.5) rotate(-90)" d="M-5.41,6.56L-5.41,0L-8.04,4.37L-4.54,4.37M-3.77,1.09L-2.68,0L-1.59,0L-0.49,1.09L-0.49,5.47L-1.59,6.56L-2.68,6.56L-3.77,5.47ZM3.77,1.09L2.68,0L1.59,0L0.49,1.09L0.49,5.47L1.59,6.56L2.68,6.56L3.77,5.47L3.77,3.83L2.68,2.73L0.49,2.73M7.38,6.56L7.38,0L4.76,4.37L8.25,4.37" stroke="#ffffff" stroke-linejoin="round"/>
<path transform="translate(677.5 562.5)" d="M-3.04,1.27L-4.31,0L-5.57,0L-6.84,1.27L-6.84,6.33L-5.57,7.6L-4.31,7.6L-3.04,6.33M-1.9,7.6L-1.9,0L0,3.8L1.9,0L1.9,7.6M3.04,7.6L3.04,0L5.57,0L6.84,1.27L6.84,2.53L5.57,3.8L3.04,3.8" stroke="#00ff00" stroke-linejoin="round"/>
<path transform="translate(695.5 565.8)" d="M-6.45 -3L-0.45 -3M-5.25 -3L-5.25 3M-1.65 -3L-1.65 3M-5.25 0L-1.65 0M-5.25 3L-1.65 3M-3.45 -3L-3.45 3M1.95 -3.75L1.95 3.75M0.45 -1.12L3.45 -1.12M3.75 -2.62L6.45 -2.62M4.95 -2.62L4.95 3.75M3.75 0.75L6.45 0.75M0.75 1.5L3.15 0.38M3.75 3.75L6.45 3.75" stroke="#00ff00"/>
<path d="M575.5 606.5H601.5V625.5H575.5Z" stroke="#ff0000" stroke-dasharray="4 2"/>
<path d="M575 606.2L601.8 625" stroke="#ff0000" stroke-dasharray="3 2"/>
<path d="M575 625L601.8 606.2" stroke="#ff0000" stroke-dasharray="3 2"/>
<path d="M579 613.5h1M579 614.5h1M579 615.5h1M579 616.5h1M579 617.5h1M580 614.5h1M580 615.5h1M580 616.5h1M580 617.5h1M581 613.5h1M581 614.5h1M581 616.5h1M582 613.5h1M582 614.5h1M582 616.5h1M582 617.5h1M583 613.5h1M583 615.5h1M583 616.5h1M583 617.5h1M585 614.5h1M585 616.5h1M586 613.5h1M586 614.5h1M586 616.5h1" stroke="#00ff00"/>
<path d="M774.5 451.5H855.5V473.5H774.5Z" stroke="#ff0000" stroke-dasharray="4 2"/>
<path d="M774.2 451.2L855.9 473.4" stroke="#ff0000" stroke-dasharray="3 2"/>
<path d="M774.2 473.4L855.9 451.2" stroke="#ff0000" stroke-dasharray="3 2"/>
<path d="M774.2 441.5H855.9" stroke="#ffffff"/>
<path d="M774.5 437V445.5" stroke="#ffffff"/>
<path d="M855.5 437V445.5" stroke="#ffffff"/>
<path transform="translate(815.5 432.5)" d="M-5.41,6.56L-5.41,0L-8.04,4.37L-4.54,4.37M-1.15,6.56L-1.15,0L-3.77,4.37L-0.27,4.37M0.49,0L3.77,0L1.59,6.56M4.76,1.09L5.85,0L6.94,0L8.04,1.09L8.04,5.47L6.94,6.56L5.85,6.56L4.76,5.47Z" stroke="#ffffff" stroke-linejoin="round"/>
<path transform="translate(806.8 462.3)" d="M-11.45 -4.5L-6.05 -4.5M-11.45 -4.5L-11.45 4.5M-6.05 -4.5L-6.05 4.5M-11.45 4.5L-6.05 4.5M-10.1 -1.8L-7.4 -1.8M-8.75 -1.8L-8.75 2.7M-10.1 2.7L-7.4 2.7M-10.1 0.45L-7.4 0.45M-4.54 -4.5L-4.54 4.5M-4.54 -2.7L-2.65 -3.6M-2.38 -4.5L-2.38 4.5M-2.38 -1.8L-0.22 -1.8M-2.38 1.35L-0.22 1.35M-0.22 -1.8L-0.22 4.5M-5.62 0L-3.46 0M-2.38 4.5L-0.22 4.5M1.03 -4.5L1.03 4.5M0.22 -2.25L2.11 -2.25M0.22 0.9L2.11 -0.45M2.65 -3.6L5.62 -3.6M2.65 -0.9L5.62 -0.9M4 -3.6L4 4.5M2.65 1.8L5.62 1.8M2.65 4.5L5.62 4.5M7.13 -4.5L7.13 4.5M7.13 -2.7L9.02 -3.6M9.29 -4.5L9.29 4.5M9.29 -1.8L11.45 -1.8M9.29 1.35L11.45 1.35M11.45 -1.8L11.45 4.5M6.05 0L8.21 0M9.29 4.5L11.45 4.5" stroke="#00ff00" stroke-width="1.8"/>
<path d="M877.5 451.5H959.5V473.5H877.5Z" stroke="#ff0000" stroke-dasharray="4 2"/>
<path d="M877.3 451.1L959.8 473.3" stroke="#ff0000" stroke-dasharray="3 2"/>
<path d="M877.3 473.3L959.8 451.1" stroke="#ff0000" stroke-dasharray="3 2"/>
<path d="M877.3 441.5H959.8" stroke="#ffffff"/>
<path d="M877.5 437V445.5" stroke="#ffffff"/>
<path d="M959.5 437V445.5" stroke="#ffffff"/>
<path transform="translate(918.5 432.5)" d="M-5.41,6.56L-5.41,0L-8.04,4.37L-4.54,4.37M-1.15,6.56L-1.15,0L-3.77,4.37L-0.27,4.37M0.49,0L3.77,0L1.59,6.56M4.76,1.09L5.85,0L6.94,0L8.04,1.09L8.04,5.47L6.94,6.56L5.85,6.56L4.76,5.47Z" stroke="#ffffff" stroke-linejoin="round"/>
<path transform="translate(909.9 462.2)" d="M-10.1 -4.5L-10.1 4.5M-11.45 -1.35L-8.75 -1.35M-8.48 -3.15L-6.05 -3.15M-7.4 -3.15L-7.4 4.5M-8.48 0.9L-6.05 0.9M-11.18 1.8L-9.02 0.45M-8.48 4.5L-6.05 4.5M-4.81 -4.5L-4.81 4.5M-5.62 -2.25L-3.73 -2.25M-5.62 0.9L-3.73 -0.45M-3.19 -3.6L-0.22 -3.6M-3.19 -0.9L-0.22 -0.9M-1.84 -3.6L-1.84 4.5M-3.19 1.8L-0.22 1.8M-3.19 4.5L-0.22 4.5M1.3 -4.5L1.3 4.5M1.3 -2.7L3.19 -3.6M3.46 -4.5L3.46 4.5M3.46 -1.8L5.62 -1.8M3.46 1.35L5.62 1.35M5.62 -1.8L5.62 4.5M0.22 0L2.38 0M3.46 4.5L5.62 4.5M6.86 -4.5L6.86 4.5M6.05 -2.25L7.94 -2.25M6.05 0.9L7.94 -0.45M8.48 -3.6L11.45 -3.6M8.48 -0.9L11.45 -0.9M9.83 -3.6L9.83 4.5M8.48 1.8L11.45 1.8M8.48 4.5L11.45 4.5" stroke="#00ff00" stroke-width="1.8"/>
<path d="M994.5 451.5H1076.5V473.5H994.5Z" stroke="#ff0000" stroke-dasharray="4 2"/>
<path d="M994.3 451.1L1076.6 473.3" stroke="#ff0000" stroke-dasharray="3 2"/>
<path d="M994.3 473.3L1076.6 451.1" stroke="#ff0000" stroke-dasharray="3 2"/>
<path d="M994.3 441.5H1076.6" stroke="#ffffff"/>
<path d="M994.5 437V445.5" stroke="#ffffff"/>
<path d="M1076.5 437V445.5" stroke="#ffffff"/>
<path transform="translate(1035.5 432.5)" d="M-5.41,6.56L-5.41,0L-8.04,4.37L-4.54,4.37M-1.15,6.56L-1.15,0L-3.77,4.37L-0.27,4.37M0.49,0L3.77,0L1.59,6.56M4.76,1.09L5.85,0L6.94,0L8.04,1.09L8.04,5.47L6.94,6.56L5.85,6.56L4.76,5.47Z" stroke="#ffffff" stroke-linejoin="round"/>
<path transform="translate(1026.9 462.2)" d="M-11.45 -1.8L-6.05 -1.8M-8.75 -4.5L-8.75 0.45M-8.75 0.45L-11.45 4.5M-8.75 0.45L-6.05 4.5M-10.37 -4.05L-7.13 -4.05M-10.1 1.8L-7.4 1.8M-4.27 -4.5L-4.27 4.5M-5.62 -1.35L-2.92 -1.35M-2.65 -3.15L-0.22 -3.15M-1.57 -3.15L-1.57 4.5M-2.65 0.9L-0.22 0.9M-5.35 1.8L-3.19 0.45M-2.65 4.5L-0.22 4.5M0.76 -2.7L5.08 -2.7M2.92 -4.5L2.92 4.5M0.76 0.9L5.08 0.9M1.03 4.5L4.81 4.5M0.76 -2.7L0.76 0.9M5.08 -2.7L5.08 0.9M7.13 -4.5L7.13 4.5M7.13 -2.7L9.02 -3.6M9.29 -4.5L9.29 4.5M9.29 -1.8L11.45 -1.8M9.29 1.35L11.45 1.35M11.45 -1.8L11.45 4.5M6.05 0L8.21 0M9.29 4.5L11.45 4.5" stroke="#00ff00" stroke-width="1.8"/>
<path d="M872.5 511.5H954.5V533.5H872.5Z" stroke="#ff0000" stroke-dasharray="4 2"/>
<path d="M872.6 511.7L954.4 533.7" stroke="#ff0000" stroke-dasharray="3 2"/>
<path d="M872.6 533.7L954.4 511.7" stroke="#ff0000" stroke-dasharray="3 2"/>
<path d="M872.6 502.5H954.4" stroke="#ffffff"/>
<path d="M872.5 497.8V506.3" stroke="#ffffff"/>
<path d="M954.5 497.8V506.3" stroke="#ffffff"/>
<path transform="translate(913.5 492.5)" d="M-5.41,6.56L-5.41,0L-8.04,4.37L-4.54,4.37M-1.15,6.56L-1.15,0L-3.77,4.37L-0.27,4.37M0.49,0L3.77,0L1.59,6.56M4.76,1.09L5.85,0L6.94,0L8.04,1.09L8.04,5.47L6.94,6.56L5.85,6.56L4.76,5.47Z" stroke="#ffffff" stroke-linejoin="round"/>
<path transform="translate(905.2 522.7)" d="M-10.91 -4.5L-6.59 -4.5M-10.91 -4.5L-10.91 0M-6.59 -4.5L-6.59 0M-10.91 0L-6.59 0M-8.75 0L-8.75 4.5M-11.45 4.5L-6.05 4.5M-10.37 2.25L-7.13 2.25M-10.91 -2.25L-6.59 -2.25M-5.08 -2.7L-0.76 -2.7M-2.92 -4.5L-2.92 4.5M-5.08 0.9L-0.76 0.9M-4.81 4.5L-1.03 4.5M-5.08 -2.7L-5.08 0.9M-0.76 -2.7L-0.76 0.9M1.03 -4.5L1.03 4.5M0.22 -2.25L2.11 -2.25M0.22 0.9L2.11 -0.45M2.65 -3.6L5.62 -3.6M2.65 -0.9L5.62 -0.9M4 -3.6L4 4.5M2.65 1.8L5.62 1.8M2.65 4.5L5.62 4.5M6.05 -3.6L11.45 -3.6M7.13 -3.6L7.13 3.6M10.37 -3.6L10.37 3.6M7.13 0L10.37 0M7.13 3.6L10.37 3.6M8.75 -3.6L8.75 3.6" stroke="#00ff00" stroke-width="1.8"/>
<path d="M872.5 564.5H954.5V586.5H872.5Z" stroke="#ff0000" stroke-dasharray="4 2"/>
<path d="M872.6 564.4L954.4 586.6" stroke="#ff0000" stroke-dasharray="3 2"/>
<path d="M872.6 586.6L954.4 564.4" stroke="#ff0000" stroke-dasharray="3 2"/>
<path d="M872.6 554.5H954.4" stroke="#ffffff"/>
<path d="M872.5 550.2V558.7" stroke="#ffffff"/>
<path d="M954.5 550.2V558.7" stroke="#ffffff"/>
<path transform="translate(913.5 545.5)" d="M-5.41,6.56L-5.41,0L-8.04,4.37L-4.54,4.37M-1.15,6.56L-1.15,0L-3.77,4.37L-0.27,4.37M0.49,0L3.77,0L1.59,6.56M4.76,1.09L5.85,0L6.94,0L8.04,1.09L8.04,5.47L6.94,6.56L5.85,6.56L4.76,5.47Z" stroke="#ffffff" stroke-linejoin="round"/>
<path transform="translate(905.2 575.5)" d="M-11.45 -1.8L-6.05 -1.8M-8.75 -4.5L-8.75 0.45M-8.75 0.45L-11.45 4.5M-8.75 0.45L-6.05 4.5M-10.37 -4.05L-7.13 -4.05M-10.1 1.8L-7.4 1.8M-5.62 -1.8L-0.22 -1.8M-2.92 -4.5L-2.92 0.45M-2.92 0.45L-5.62 4.5M-2.92 0.45L-0.22 4.5M-4.54 -4.05L-1.3 -4.05M-4.27 1.8L-1.57 1.8M0.22 -4.5L5.62 -4.5M0.22 -4.5L0.22 4.5M5.62 -4.5L5.62 4.5M0.22 4.5L5.62 4.5M1.57 -1.8L4.27 -1.8M2.92 -1.8L2.92 2.7M1.57 2.7L4.27 2.7M1.57 0.45L4.27 0.45M7.13 -4.5L7.13 4.5M7.13 -2.7L9.02 -3.6M9.29 -4.5L9.29 4.5M9.29 -1.8L11.45 -1.8M9.29 1.35L11.45 1.35M11.45 -1.8L11.45 4.5M6.05 0L8.21 0M9.29 4.5L11.45 4.5" stroke="#00ff00" stroke-width="1.8"/>
<path d="M979.7 503.5H1031.8" stroke="#ffffff"/>
<path d="M1031.5 499.5V503.5" stroke="#ffffff"/>
<path transform="translate(1004.5 493.5)" d="M-8.04,1.09L-6.94,0L-5.85,0L-4.76,1.09L-4.76,2.19L-8.04,6.56L-4.76,6.56M-2.68,0L-1.59,0L-0.49,1.09L-0.49,2.19L-1.59,3.28L-2.68,3.28L-3.77,2.19L-3.77,1.09ZM-2.68,3.28L-3.77,4.37L-3.77,5.47L-2.68,6.56L-1.59,6.56L-0.49,5.47L-0.49,4.37L-1.59,3.28M3.77,0L0.49,0L0.49,2.73L2.68,2.73L3.77,3.83L3.77,5.47L2.68,6.56L1.59,6.56L0.49,5.47M4.76,1.09L5.85,0L6.94,0L8.04,1.09L8.04,5.47L6.94,6.56L5.85,6.56L4.76,5.47Z" stroke="#ffffff" stroke-linejoin="round"/>
<path d="M1031.8 508.5H1105.5" stroke="#00ffff"/>
<path d="M1033.9 511.5H1089.7" stroke="#00ffff"/>
<path d="M1089.7 511.5H1105.5" stroke="#ffffff"/>
<path d="M1031.5 508.6V661.6" stroke="#00ffff"/>
<path d="M1033.5 511.5V661.6" stroke="#00ffff"/>
<path d="M1099.5 511.5V767" stroke="#ffffff"/>
<path d="M1053.5 536.5H1095.5V552.5H1053.5Z" stroke="#ffffff"/>
<path transform="translate(1076.5 548.5)" d="M-5.03,1.04L-4.16,0L-4.16,5.2M-2.6,0.87L-1.87,0L-1.14,0L-0.42,0.87L-0.42,1.73L-2.6,5.2L-0.42,5.2M0.42,0.87L1.14,0L1.87,0L2.6,0.87L2.6,4.33L1.87,5.2L1.14,5.2L0.42,4.33ZM3.43,0.87L4.16,0L4.89,0L5.62,0.87L5.62,4.33L4.89,5.2L4.16,5.2L3.43,4.33Z" stroke="#ffffff" stroke-linejoin="round"/>
<path d="M1033.9 557.5H1120.3" stroke="#ffffff"/>
<path d="M1033.5 553.5V560.5" stroke="#ffffff"/>
<path d="M1119.5 553.5V560.5" stroke="#ffffff"/>
<path transform="translate(1067.6 601.3)" d="M-7.44 -4L-7.44 4M-8.18 -2L-6.45 -2M-8.18 0.8L-6.45 -0.4M-5.95 -3.2L-3.22 -3.2M-5.95 -0.8L-3.22 -0.8M-4.71 -3.2L-4.71 4M-5.95 1.6L-3.22 1.6M-5.95 4L-3.22 4M-1.49 -4L-1.49 4M-1.49 -2.4L0.25 -3.2M0.5 -4L0.5 4M0.5 -1.6L2.48 -1.6M0.5 1.2L2.48 1.2M2.48 -1.6L2.48 4M-2.48 0L-0.5 0M0.5 4L2.48 4M3.22 -4L8.18 -4M3.22 -4L3.22 4M8.18 -4L8.18 4M3.22 4L8.18 4M4.46 -1.6L6.94 -1.6M5.7 -1.6L5.7 2.4M4.46 2.4L6.94 2.4M4.46 0.4L6.94 0.4" stroke="#00ff00"/>
<path d="M1064.5 621.5H1081.5V748.5H1064.5Z" stroke="#ffffff"/>
<path d="M1064.4 664.5H1081.3" stroke="#ffffff"/>
<path d="M1064.4 706.5H1081.3" stroke="#ffffff"/>
<path transform="translate(1089.5 639.5) rotate(-90)" d="M-9.29,1.31L-7.98,0L-7.98,6.56M-5.9,0L-2.62,0L-4.37,2.73L-3.72,2.73L-2.62,3.83L-2.62,5.47L-3.72,6.56L-4.81,6.56L-5.9,5.47M-1.64,5.47L-0.55,6.56L0.55,6.56L1.64,5.47L1.64,1.09L0.55,0L-0.55,0L-1.64,1.09L-1.64,2.73L-0.55,3.83L1.64,3.83M2.62,1.09L3.72,0L4.81,0L5.9,1.09L5.9,5.47L4.81,6.56L3.72,6.56L2.62,5.47ZM6.89,1.09L7.98,0L9.07,0L10.17,1.09L10.17,5.47L9.07,6.56L7.98,6.56L6.89,5.47Z" stroke="#ffffff" stroke-linejoin="round"/>
<path d="M238.4 614.5H303.6" stroke="#ffffff"/>
<path d="M238.4 618.5H303.6" stroke="#ffffff"/>
<path d="M302.5 614.7V719.5" stroke="#ffffff"/>
<path d="M305.5 614.7V719.5" stroke="#ffffff"/>
<path d="M302.5 614.5H305.5V617.5H302.5Z" stroke="#ffffff"/>
<path transform="translate(256.4 636) rotate(-90)" d="M-8.66 -1.4L-3.41 -1.4M-6.04 -3.5L-6.04 0.35M-6.04 0.35L-8.66 3.5M-6.04 0.35L-3.41 3.5M-7.61 -3.15L-4.46 -3.15M-7.35 1.4L-4.72 1.4M-1.57 -3.5L-1.57 3.5M-1.57 -2.1L0.26 -2.8M0.52 -3.5L0.52 3.5M0.52 -1.4L2.62 -1.4M0.52 1.05L2.62 1.05M2.62 -1.4L2.62 3.5M-2.62 0L-0.52 0M0.52 3.5L2.62 3.5M4.2 -3.5L4.2 3.5M3.41 -1.75L5.25 -1.75M3.41 0.7L5.25 -0.35M5.78 -2.8L8.66 -2.8M5.78 -0.7L8.66 -0.7M7.09 -2.8L7.09 3.5M5.78 1.4L8.66 1.4M5.78 3.5L8.66 3.5" stroke="#ffffff" stroke-width="1.2"/>
<path transform="translate(294.5 630.5) rotate(-90)" d="M-4.46,0L-5.98,0L-5.98,3.6M-5.98,1.8L-4.97,1.8M-3.89,3.6L-3.89,0L-3.13,1.8L-2.38,0L-2.38,3.6M-1.4,0.72L-0.79,0L-0.79,3.6M0.79,0L1.3,0L1.8,0.6L1.8,1.2L1.3,1.8L0.79,1.8L0.29,1.2L0.29,0.6ZM0.79,1.8L0.29,2.4L0.29,3L0.79,3.6L1.3,3.6L1.8,3L1.8,2.4L1.3,1.8M2.38,0.6L2.88,0L3.38,0L3.89,0.6L3.89,1.2L2.38,3.6L3.89,3.6M4.46,0L5.98,0L5.17,1.5L5.47,1.5L5.98,2.1L5.98,3L5.47,3.6L4.97,3.6L4.46,3" stroke="#ffffff" stroke-linejoin="round"/>
<path transform="translate(243.5 639.5)" d="M-2.07,0.93L-2.86,0L-3.64,0L-4.42,0.93L-4.42,4.67L-3.64,5.6L-2.86,5.6L-2.07,4.67L-2.07,3.27L-2.86,2.33L-4.42,2.33M-1.18,0.93L-0.39,0L0.39,0L1.18,0.93L1.18,4.67L0.39,5.6L-0.39,5.6L-1.18,4.67ZM2.07,0.93L2.86,0L3.64,0L4.42,0.93L4.42,4.67L3.64,5.6L2.86,5.6L2.07,4.67Z" stroke="#ffffff" stroke-linejoin="round"/>
<path d="M237.5 646.5H250.1" stroke="#00ff00"/>
<path d="M250.5 639.3V660.2" stroke="#00ff00"/>
<path d="M238.4 657.5H250.1" stroke="#00ff00"/>
<path d="M240.5 653.5H245.5V659.5H240.5Z" stroke="#ffffff"/>
<path d="M250.5 652.5H257.5V661.5H250.5Z" stroke="#a8a8a8"/>
<path d="M251.5 654.5H255.5V659.5H251.5Z" stroke="#a8a8a8"/>
<path d="M257.5 652.5H265.5V661.5H257.5Z" stroke="#a8a8a8"/>
<path d="M259.5 654.5H263.5V659.5H259.5Z" stroke="#a8a8a8"/>
<path d="M265.5 652.5H272.5V661.5H265.5Z" stroke="#a8a8a8"/>
<path d="M266.5 654.5H270.5V659.5H266.5Z" stroke="#a8a8a8"/>
<path d="M272.5 652.5H279.5V661.5H272.5Z" stroke="#a8a8a8"/>
<path d="M274.5 654.5H278.5V659.5H274.5Z" stroke="#a8a8a8"/>
<path d="M279.5 652.5H287.5V661.5H279.5Z" stroke="#a8a8a8"/>
<path d="M281.5 654.5H285.5V659.5H281.5Z" stroke="#a8a8a8"/>
<path d="M287.5 652.5H294.5V661.5H287.5Z" stroke="#a8a8a8"/>
<path d="M289.5 654.5H293.5V659.5H289.5Z" stroke="#a8a8a8"/>
<path d="M235 661.5H303.6" stroke="#ffffff"/>
<path d="M235 665.5H303.6" stroke="#ffffff"/>
<path d="M304.4 620.5H321.1" stroke="#00ffff"/>
<path d="M321.1 620.4A16.7 16.7 0 0 1 304.4 637.1" stroke="#00ffff"/>
<path d="M304.4 637.5H307" stroke="#00ffff"/>
<path transform="translate(263.8 676.1)" d="M-4.02 -3.75L-4.02 3.75M-5.24 -1.12L-2.8 -1.12M-2.56 -2.62L-0.37 -2.62M-1.58 -2.62L-1.58 3.75M-2.56 0.75L-0.37 0.75M-5 1.5L-3.05 0.38M-2.56 3.75L-0.37 3.75M1.34 -3.75L1.34 3.75M1.34 -2.25L3.05 -3M3.29 -3.75L3.29 3.75M3.29 -1.5L5.24 -1.5M3.29 1.12L5.24 1.12M5.24 -1.5L5.24 3.75M0.37 0L2.32 0M3.29 3.75L5.24 3.75" stroke="#00ff00"/>
<path d="M238.5 695.5H271.5V716.5H238.5Z" stroke="#a8a8a8"/>
<path d="M254.5 695V716.2" stroke="#a8a8a8"/>
<path d="M241.2 695L244.2 689L246.2 685.3L248.2 689L251.6 695" stroke="#a8a8a8"/>
<ellipse cx="246.4" cy="706.4" rx="2" ry="3" stroke="#a8a8a8" shape-rendering="auto"/>
<path d="M244.4 704.5H248.4" stroke="#a8a8a8"/>
<path d="M257.6 695L260.6 689L262.6 685.3L264.6 689L268 695" stroke="#a8a8a8"/>
<ellipse cx="262.8" cy="706.4" rx="2" ry="3" stroke="#a8a8a8" shape-rendering="auto"/>
<path d="M260.8 704.5H264.8" stroke="#a8a8a8"/>
<path d="M287.7 670.5H303" stroke="#a8a8a8"/>
<path d="M287.7 672.5H303" stroke="#a8a8a8"/>
<path d="M287.7 671.9A15.3 15.3 0 0 0 303 687.2" stroke="#a8a8a8"/>
<path d="M283.3 695.5H296.5" stroke="#a8a8a8"/>
<path d="M283.3 696.5H296.5" stroke="#a8a8a8"/>
<path d="M296.5 697A12.2 12.2 0 0 1 284.3 709.2" stroke="#a8a8a8"/>
<path d="M298 705.8L302 705.8" stroke="#a8a8a8"/>
<path d="M298 705.8L300 704.3" stroke="#a8a8a8"/>
<path d="M303.5 665.2V718.7" stroke="#ff0000"/>
<path d="M271.5 710.5H284.5V716.5H271.5Z" stroke="#a8a8a8"/>
<path d="M271.8 710L284.3 716.2" stroke="#a8a8a8"/>
<path d="M271.8 716.2L284.3 710" stroke="#a8a8a8"/>
<path d="M236.7 717.5H325.3" stroke="#ffffff"/>
<path d="M236.7 720.5H325.3" stroke="#ffffff"/>
<path d="M220.8 718.5H324.5" stroke="#ff0000"/>
<path d="M235.5 717.5H238.5V720.5H235.5Z" stroke="#ffffff"/>
<path d="M302.5 717.5H305.5V720.5H302.5Z" stroke="#ffffff"/>
<path d="M324.5 717.5H327.5V720.5H324.5Z" stroke="#ffffff"/>
<path d="M238.5 720.5H258.5V726.5H238.5Z" stroke="#a8a8a8"/>
<path d="M238.4 720.4L258.8 726.2" stroke="#a8a8a8"/>
<path d="M238.4 726.2L258.8 720.4" stroke="#a8a8a8"/>
<path d="M239 731.5h1M239 732.5h1M239 733.5h1M240 731.5h1M240 732.5h1M240 733.5h1M241 730.5h1M241 731.5h1M241 732.5h1M241 733.5h1M242 730.5h1M242 732.5h1M244 730.5h1M244 731.5h1M244 732.5h1" stroke="#00ff00"/>
<path transform="translate(276 730.6)" d="M-4.16 -3.75L-4.16 3.75M-4.84 -1.88L-3.26 -1.88M-4.84 0.75L-3.26 -0.38M-2.81 -3L-0.34 -3M-2.81 -0.75L-0.34 -0.75M-1.69 -3L-1.69 3.75M-2.81 1.5L-0.34 1.5M-2.81 3.75L-0.34 3.75M0.34 -1.5L4.84 -1.5M2.59 -3.75L2.59 0.38M2.59 0.38L0.34 3.75M2.59 0.38L4.84 3.75M1.24 -3.38L3.94 -3.38M1.46 1.5L3.71 1.5" stroke="#00ff00"/>
<path d="M322.5 720.4V734.6" stroke="#ffffff"/>
<path d="M320.5 720.4V734.6" stroke="#ffffff"/>
<path d="M320.3 734.5H322" stroke="#ffffff"/>
<path d="M306.1 720.4A15.9 15.9 0 0 0 322 736.3" stroke="#ffffff"/>
<path d="M238.4 748.4L241.7 748.4" stroke="#a8a8a8"/>
<path d="M241.7 748.4Q242.5 759 251 761.5L255.8 761.5V749.5Q255.8 747.6 257.6 747.6Q259.4 747.6 259.4 749.5V761.5L264 761.5Q271.5 759 273.5 748.4L277 744.5" stroke="#a8a8a8" shape-rendering="auto"/>
<path d="M255.5 761.5V765.5" stroke="#a8a8a8"/>
<path d="M259.5 761.5V765.5" stroke="#a8a8a8"/>
<path d="M246.5 761L247.5 764L248.5 761" stroke="#a8a8a8"/>
<path d="M266.5 761L267.5 764L268.5 761" stroke="#a8a8a8"/>
<path d="M278.5 744.5H324.5V765.5H278.5Z" stroke="#a8a8a8"/>
<path d="M301.5 744.2V765.1" stroke="#a8a8a8"/>
<path d="M284.1 744.2L287.4 738L289.4 734.5L291.4 738L294.7 744.2" stroke="#a8a8a8"/>
<path d="M288.5 753.5H292.5V761.5H288.5Z" stroke="#a8a8a8"/>
<path d="M288 756.5H292" stroke="#a8a8a8"/>
<path d="M307.1 744.2L310.4 738L312.4 734.5L314.4 738L317.7 744.2" stroke="#a8a8a8"/>
<path d="M311.5 753.5H315.5V761.5H311.5Z" stroke="#a8a8a8"/>
<path d="M311 756.5H315" stroke="#a8a8a8"/>
<path d="M235.9 766.5H388" stroke="#ffffff"/>
<path d="M235.9 769.5H388" stroke="#ffffff"/>
<path d="M235.5 766.5H238.5V769.5H235.5Z" stroke="#ffffff"/>
<path d="M324.5 766.5H327.5V769.5H324.5Z" stroke="#ffffff"/>
<path d="M385.5 766.5H388.5V769.5H385.5Z" stroke="#ffffff"/>
<path d="M243.5 770.1V820.3" stroke="#ffffff" stroke-dasharray="5 2"/>
<path d="M252.6 829.5H378.8" stroke="#ffffff" stroke-dasharray="5 2"/>
<path d="M320.5 769.8V797.7" stroke="#00ff00"/>
<path d="M324.5 769.8V797.7" stroke="#00ff00"/>
<path d="M329.5 769.8V797.7" stroke="#00ff00"/>
<path d="M333.5 769.8V797.7" stroke="#00ff00"/>
<path d="M338.5 769.8V797.7" stroke="#00ff00"/>
<path d="M343.5 769.8V797.7" stroke="#00ff00"/>
<path d="M320.3 785.5H352" stroke="#00ff00"/>
<path d="M328.6 797.5H344.5" stroke="#00ff00"/>
<path d="M330.3 799.5H344.5" stroke="#00ff00"/>
<path d="M311.1 769.3L327 793.5" stroke="#00ff00"/>
<path d="M318.6 777.7L298.2 792.7" stroke="#00ff00"/>
<path d="M298.2 792.5H327" stroke="#00ff00"/>
<path transform="translate(319 788.2)" d="M-13.92 -1.5L-10.52 -1.5M-12.22 -2.5L-12.22 2.5M-13.92 0.5L-10.52 0.5M-13.71 2.5L-10.73 2.5M-13.92 -1.5L-13.92 0.5M-10.52 -1.5L-10.52 0.5M-9.46 -1L-5.21 -1M-7.33 -2.5L-7.33 0.25M-7.33 0.25L-9.46 2.5M-7.33 0.25L-5.21 2.5M-8.61 -2.25L-6.06 -2.25M-8.39 1L-6.27 1M-4.57 -1L-0.32 -1M-2.44 -2.5L-2.44 0.25M-2.44 0.25L-4.57 2.5M-2.44 0.25L-0.32 2.5M-3.72 -2.25L-1.17 -2.25M-3.51 1L-1.38 1M0.32 -2.5L4.57 -2.5M0.32 -2.5L0.32 2.5M4.57 -2.5L4.57 2.5M0.32 2.5L4.57 2.5M1.38 -1L3.51 -1M2.44 -1L2.44 1.5M1.38 1.5L3.51 1.5M1.38 0.25L3.51 0.25M6.06 -2.5L6.06 2.5M6.06 -1.5L7.54 -2M7.76 -2.5L7.76 2.5M7.76 -1L9.46 -1M7.76 0.75L9.46 0.75M9.46 -1L9.46 2.5M5.21 0L6.91 0M7.76 2.5L9.46 2.5M10.52 -1.5L13.92 -1.5M12.22 -2.5L12.22 2.5M10.52 0.5L13.92 0.5M10.73 2.5L13.71 2.5M10.52 -1.5L10.52 0.5M13.92 -1.5L13.92 0.5" stroke="#ffffff"/>
<path transform="translate(348.7 782)" d="M-1.5 -2.5L-1.5 2.5M-1.5 -1.5L0.25 -2M0.5 -2.5L0.5 2.5M0.5 -1L2.5 -1M0.5 0.75L2.5 0.75M2.5 -1L2.5 2.5M-2.5 0L-0.5 0M0.5 2.5L2.5 2.5" stroke="#ffffff"/>
<path d="M386.3 786.5H372.35" stroke="#00ffff"/>
<path d="M386.3 812.5H372.35" stroke="#00ffff"/>
<path d="M372.35 786.5A13.95 13.95 0 0 0 381.53 799.61" stroke="#00ffff"/>
<path d="M372.35 812.8A13.95 13.95 0 0 1 381.53 799.69" stroke="#00ffff"/>
<path transform="translate(391.5 800.5) rotate(-90)" d="M-5.51,0L-7.02,0L-7.02,3.6M-7.02,1.8L-6.01,1.8M-4.93,3.6L-4.93,0L-4.18,1.8L-3.42,0L-3.42,3.6M-2.84,0L-1.33,0L-2.84,3.6L-1.33,3.6M-0.35,0.72L0.25,0L0.25,3.6M2.84,0L1.33,0L1.33,1.5L2.34,1.5L2.84,2.1L2.84,3L2.34,3.6L1.84,3.6L1.33,3M3.42,0.6L3.92,0L4.43,0L4.93,0.6L4.93,1.2L3.42,3.6L4.93,3.6M5.91,0.72L6.52,0L6.52,3.6" stroke="#ffffff" stroke-linejoin="round"/>
<path d="M325.5 661.5V690.3" stroke="#ffffff"/>
<path d="M327.5 661.5V690.3" stroke="#ffffff"/>
<path d="M325 661.5H327.8" stroke="#ffffff"/>
<path d="M327.8 672.5H378.4" stroke="#ffffff"/>
<path d="M327.8 676.5H378.4" stroke="#ffffff"/>
<path d="M388.5 676.4V690.3" stroke="#ffffff"/>
<path d="M385.5 676.4V690.3" stroke="#ffffff"/>
<path d="M378.4 676.5H388.4" stroke="#ffffff"/>
<path d="M325 689.5H388" stroke="#ffffff"/>
<path d="M325 692.5H388" stroke="#ffffff"/>
<path d="M327 691.5H385" stroke="#ff0000"/>
<path d="M325.5 689.8V766" stroke="#ffffff"/>
<path d="M327.5 689.8V766" stroke="#ffffff"/>
<path d="M326.5 692V766" stroke="#ff0000"/>
<path d="M385.5 689.8V829.5" stroke="#ffffff"/>
<path d="M388.5 689.8V829.5" stroke="#ffffff"/>
<path d="M385 829.5H388" stroke="#ffffff"/>
<path d="M325.5 689.5H327.5V692.5H325.5Z" stroke="#ffffff"/>
<path d="M385.5 689.5H388.5V692.5H385.5Z" stroke="#ffffff"/>
<path d="M338.5 697.5H376.5V701.5H338.5Z" stroke="#ffff00"/>
<path d="M337.5 704.5H377.5V760.5H337.5Z" stroke="#ffff00"/>
<path d="M337.5 704.3L377.6 760.3" stroke="#ffff00"/>
<path d="M337.5 760.3L377.6 704.3" stroke="#ffff00"/>
<path transform="translate(357.9 745.38) rotate(-90)" d="M-3.9 -1.5L-0.7 -1.5M-2.3 -2.5L-2.3 2.5M-3.9 0.5L-0.7 0.5M-3.7 2.5L-0.9 2.5M-3.9 -1.5L-3.9 0.5M-0.7 -1.5L-0.7 0.5M1.3 -2.5L1.3 2.5M0.3 -0.75L2.3 -0.75M2.5 -1.75L4.3 -1.75M3.3 -1.75L3.3 2.5M2.5 0.5L4.3 0.5M0.5 1L2.1 0.25M2.5 2.5L4.3 2.5" stroke="#ffffff"/>
<path transform="translate(355.5 734.5) rotate(-90)" d="M-4.84,1L-4,0L-4,5M-0.4,0.83L-1.1,0L-1.8,0L-2.5,0.83L-2.5,4.17L-1.8,5L-1.1,5L-0.4,4.17L-0.4,2.92L-1.1,2.08L-2.5,2.08M0.4,0.83L1.1,0L1.8,0L2.5,0.83L2.5,4.17L1.8,5L1.1,5L0.4,4.17ZM3.3,0.83L4,0L4.7,0L5.4,0.83L5.4,4.17L4.7,5L4,5L3.3,4.17Z" stroke="#ffffff" stroke-linejoin="round"/>
<path d="M383.5 707V728.7" stroke="#00ffff"/>
<path d="M383.5 732V750.1" stroke="#00ffff"/>
<path d="M979.7 661.5H1033.2" stroke="#ffffff"/>
<path d="M979.7 665.5H1033.2" stroke="#ffffff"/>
<path d="M969.5 676.4V829.6" stroke="#ffffff"/>
<path d="M973.5 676.4V829.6" stroke="#ffffff"/>
<path d="M1030.5 662.7V768" stroke="#ffffff"/>
<path d="M1033.5 662.7V768" stroke="#ffffff"/>
<path d="M1032.5 665V766" stroke="#ff0000" stroke-dasharray="30 3"/>
<path d="M970.6 689.5H1033.2" stroke="#ffffff"/>
<path d="M970.6 692.5H1033.2" stroke="#ffffff"/>
<path d="M978 690.5H1005" stroke="#ff0000"/>
<path d="M1015 690.5H1031" stroke="#ff0000"/>
<path d="M970.6 766.5H1121.3" stroke="#ffffff"/>
<path d="M970.6 769.5H1121.3" stroke="#ffffff"/>
<path d="M969.5 689.5H972.5V692.5H969.5Z" stroke="#ffffff"/>
<path d="M1030.5 689.5H1033.5V692.5H1030.5Z" stroke="#ffffff"/>
<path d="M969.5 766.5H972.5V768.5H969.5Z" stroke="#ffffff"/>
<path d="M1030.5 766.5H1033.5V768.5H1030.5Z" stroke="#ffffff"/>
<path d="M1119.5 766.5H1122.5V768.5H1119.5Z" stroke="#ffffff"/>
<path d="M1030.5 662.5H1033.5V665.5H1030.5Z" stroke="#ffffff"/>
<path transform="translate(1004.5 669.5)" d="M-4.46,0L-5.98,0L-5.98,3.6M-5.98,1.8L-4.97,1.8M-3.89,3.6L-3.89,0L-3.13,1.8L-2.38,0L-2.38,3.6M-1.4,0.72L-0.79,0L-0.79,3.6M0.79,0L1.3,0L1.8,0.6L1.8,1.2L1.3,1.8L0.79,1.8L0.29,1.2L0.29,0.6ZM0.79,1.8L0.29,2.4L0.29,3L0.79,3.6L1.3,3.6L1.8,3L1.8,2.4L1.3,1.8M2.38,0.6L2.88,0L3.38,0L3.89,0.6L3.89,1.2L2.38,3.6L3.89,3.6M4.46,0L5.98,0L5.17,1.5L5.47,1.5L5.98,2.1L5.98,3L5.47,3.6L4.97,3.6L4.46,3" stroke="#ffffff" stroke-linejoin="round"/>
<path transform="translate(986.4 681.7) rotate(-90)" d="M-4.44 -3L-4.44 3M-5.16 -1.5L-3.48 -1.5M-5.16 0.6L-3.48 -0.3M-3 -2.4L-0.36 -2.4M-3 -0.6L-0.36 -0.6M-1.8 -2.4L-1.8 3M-3 1.2L-0.36 1.2M-3 3L-0.36 3M0.84 -1.8L4.68 -1.8M2.76 -3L2.76 3M0.84 0.6L4.68 0.6M1.08 3L4.44 3M0.84 -1.8L0.84 0.6M4.68 -1.8L4.68 0.6" stroke="#ffffff"/>
<path d="M980.5 697.5H1020.5V701.5H980.5Z" stroke="#ffff00"/>
<path d="M980.5 704.5H1021.5V760.5H980.5Z" stroke="#ffff00"/>
<path d="M980.1 704.3L1021.2 760.3" stroke="#ffff00"/>
<path d="M980.1 760.3L1021.2 704.3" stroke="#ffff00"/>
<path transform="translate(1001.2 745.38) rotate(-90)" d="M-4.3 -2.5L-0.3 -2.5M-4.3 -2.5L-4.3 2.5M-0.3 -2.5L-0.3 2.5M-4.3 2.5L-0.3 2.5M-3.3 -1L-1.3 -1M-2.3 -1L-2.3 1.5M-3.3 1.5L-1.3 1.5M-3.3 0.25L-1.3 0.25M0.7 -2.5L3.9 -2.5M0.7 -2.5L0.7 0M3.9 -2.5L3.9 0M0.7 0L3.9 0M2.3 0L2.3 2.5M0.3 2.5L4.3 2.5M1.1 1.25L3.5 1.25M0.7 -1.25L3.9 -1.25" stroke="#ffffff"/>
<path transform="translate(998.5 734.5) rotate(-90)" d="M-4.84,1L-4,0L-4,5M-0.4,0.83L-1.1,0L-1.8,0L-2.5,0.83L-2.5,4.17L-1.8,5L-1.1,5L-0.4,4.17L-0.4,2.92L-1.1,2.08L-2.5,2.08M0.4,0.83L1.1,0L1.8,0L2.5,0.83L2.5,4.17L1.8,5L1.1,5L0.4,4.17ZM3.3,0.83L4,0L4.7,0L5.4,0.83L5.4,4.17L4.7,5L4,5L3.3,4.17Z" stroke="#ffffff" stroke-linejoin="round"/>
<path d="M973.5 706.9V750.1" stroke="#00ffff"/>
<path d="M1014.5 769.7V797.6" stroke="#00ff00"/>
<path d="M1019.5 769.7V797.6" stroke="#00ff00"/>
<path d="M1024.5 769.7V797.6" stroke="#00ff00"/>
<path d="M1028.5 769.7V797.6" stroke="#00ff00"/>
<path d="M1033.5 769.7V790" stroke="#00ff00"/>
<path d="M1038.5 769.7V782.5" stroke="#00ff00"/>
<path d="M1046.5 769.7L1028.6 797.6" stroke="#00ff00"/>
<path d="M1006.5 784.5H1028.6" stroke="#00ff00"/>
<path d="M1013.8 797.5H1028.6" stroke="#00ff00"/>
<path d="M1013.8 799.5H1028.6" stroke="#00ff00"/>
<path d="M1036.5 782.2L1039.5 786L1040.5 781.5" stroke="#00ff00"/>
<path transform="translate(1009.2 781.8)" d="M-2.5 -1L2.5 -1M0 -2.5L0 0.25M0 0.25L-2.5 2.5M0 0.25L2.5 2.5M-1.5 -2.25L1.5 -2.25M-1.25 1L1.25 1" stroke="#ffffff"/>
<path d="M973.8 786.5H987.65" stroke="#00ffff"/>
<path d="M973.8 812.5H987.65" stroke="#00ffff"/>
<path d="M987.65 786.6A13.85 13.85 0 0 1 978.54 799.61" stroke="#00ffff"/>
<path d="M987.65 812.7A13.85 13.85 0 0 0 978.54 799.69" stroke="#00ffff"/>
<path transform="translate(962.5 800.5) rotate(-90)" d="M-5.51,0L-7.02,0L-7.02,3.6M-7.02,1.8L-6.01,1.8M-4.93,3.6L-4.93,0L-4.18,1.8L-3.42,0L-3.42,3.6M-2.84,0L-1.33,0L-2.84,3.6L-1.33,3.6M-0.35,0.72L0.25,0L0.25,3.6M2.84,0L1.33,0L1.33,1.5L2.34,1.5L2.84,2.1L2.84,3L2.34,3.6L1.84,3.6L1.33,3M3.42,0.6L3.92,0L4.43,0L4.93,0.6L4.93,1.2L3.42,3.6L4.93,3.6M5.91,0.72L6.52,0L6.52,3.6" stroke="#ffffff" stroke-linejoin="round"/>
<path d="M1114.5 770.2V820.1" stroke="#ffffff" stroke-dasharray="5 2"/>
<path d="M979.7 829.5H1105.5" stroke="#ffffff" stroke-dasharray="5 2"/>
<path d="M969.5 820.5H973.5V829.5H969.5Z" stroke="#ffffff"/>
<path d="M995.5 645.8V662.7" stroke="#00ffff"/>
<path d="M995.9 645.7A17 17 0 0 1 1012.9 662.7" stroke="#00ffff"/>
<path d="M393.8 662H433.1" stroke="#00ffff" stroke-width="2"/>
<path d="M469.2 662H601.8" stroke="#00ffff" stroke-width="2"/>
<path d="M638.8 662H727.5" stroke="#00ffff" stroke-width="2"/>
<path d="M740.9 662H768.9" stroke="#00ffff" stroke-width="2"/>
<path d="M797.2 662H964.7" stroke="#00ffff" stroke-width="2"/>
<path d="M433 643.1V662.2" stroke="#00ffff" stroke-width="2"/>
<path d="M469 643.5V662.2" stroke="#00ffff" stroke-width="2"/>
<path d="M433.1 643.3A18.9 18.9 0 0 1 452 662.2" stroke="#ff0000" stroke-dasharray="3 2"/>
<path d="M469.2 643.3A18.9 18.9 0 0 0 450.3 662.2" stroke="#ff0000" stroke-dasharray="3 2"/>
<path d="M741 647.3V662" stroke="#00ffff" stroke-width="2"/>
<path d="M740.9 647.3A14.7 14.7 0 0 0 726.2 662" stroke="#ff0000" stroke-dasharray="3 2"/>
<path d="M769 647.3V662" stroke="#00ffff" stroke-width="2"/>
<path d="M797 647.3V662" stroke="#00ffff" stroke-width="2"/>
<path d="M768.9 647.3A14.7 14.7 0 0 1 783.6 662" stroke="#ff0000" stroke-dasharray="3 2"/>
<path d="M797.2 647.3A14.7 14.7 0 0 0 782.5 662" stroke="#ff0000" stroke-dasharray="3 2"/>
<path d="M673.5 625.3V661.4" stroke="#ffffff"/>
<path d="M669 625.5H673.6" stroke="#ffffff"/>
<path transform="translate(665.5 644.5) rotate(-90)" d="M-8.04,1.09L-6.94,0L-5.85,0L-4.76,1.09L-4.76,2.19L-8.04,6.56L-4.76,6.56M-3.77,1.09L-2.68,0L-1.59,0L-0.49,1.09L-0.49,5.47L-1.59,6.56L-2.68,6.56L-3.77,5.47ZM0.49,1.09L1.59,0L2.68,0L3.77,1.09L3.77,5.47L2.68,6.56L1.59,6.56L0.49,5.47ZM4.76,1.09L5.85,0L6.94,0L8.04,1.09L8.04,5.47L6.94,6.56L5.85,6.56L4.76,5.47Z" stroke="#ffffff" stroke-linejoin="round"/>
<path transform="translate(803.1 630.6)" d="M-19.55 -3.25L-19.55 3.25M-20.55 -0.98L-18.54 -0.98M-18.34 -2.27L-16.52 -2.27M-17.53 -2.27L-17.53 3.25M-18.34 0.65L-16.52 0.65M-20.35 1.3L-18.74 0.33M-18.34 3.25L-16.52 3.25M-15.92 -2.6L-11.89 -2.6M-15.11 -2.6L-15.11 2.6M-12.69 -2.6L-12.69 2.6M-15.11 0L-12.69 0M-15.11 2.6L-12.69 2.6M-13.9 -2.6L-13.9 2.6M-11.28 -3.25L-7.25 -3.25M-11.28 -3.25L-11.28 3.25M-7.25 -3.25L-7.25 3.25M-11.28 3.25L-7.25 3.25M-10.28 -1.3L-8.26 -1.3M-9.27 -1.3L-9.27 1.95M-10.28 1.95L-8.26 1.95M-10.28 0.33L-8.26 0.33M-6.25 -3.25L-3.02 -3.25M-6.25 -3.25L-6.25 0M-3.02 -3.25L-3.02 0M-6.25 0L-3.02 0M-4.63 0L-4.63 3.25M-6.65 3.25L-2.62 3.25M-5.84 1.62L-3.43 1.62M-6.25 -1.62L-3.02 -1.62M-2.02 -3.25L2.01 -3.25M-2.02 -3.25L-2.02 3.25M2.01 -3.25L2.01 3.25M-2.02 3.25L2.01 3.25M-1.01 -1.3L1.01 -1.3M-0 -1.3L-0 1.95M-1.01 1.95L1.01 1.95M-1.01 0.33L1.01 0.33M2.62 -1.3L6.65 -1.3M4.63 -3.25L4.63 0.33M4.63 0.33L2.62 3.25M4.63 0.33L6.65 3.25M3.43 -2.92L5.84 -2.92M3.63 1.3L5.64 1.3M7.25 -2.6L11.28 -2.6M8.06 -2.6L8.06 2.6M10.48 -2.6L10.48 2.6M8.06 0L10.48 0M8.06 2.6L10.48 2.6M9.27 -2.6L9.27 2.6M12.29 -3.25L15.52 -3.25M12.29 -3.25L12.29 0M15.52 -3.25L15.52 0M12.29 0L15.52 0M13.9 0L13.9 3.25M11.89 3.25L15.92 3.25M12.69 1.62L15.11 1.62M12.29 -1.62L15.52 -1.62M16.52 -1.3L20.55 -1.3M18.54 -3.25L18.54 0.33M18.54 0.33L16.52 3.25M18.54 0.33L20.55 3.25M17.33 -2.92L19.75 -2.92M17.53 1.3L19.55 1.3" stroke="#00ff00"/>
<path d="M876.4 664.5H950.6" stroke="#ff0000" stroke-dasharray="4 2"/>
<path d="M909.5 666.9L913.7 683.8L931.7 683.8" stroke="#ffffff"/>
<path d="M917 679.5h1M917 680.5h1M917 681.5h1M917 682.5h1M918 679.5h1M918 682.5h1M919 680.5h1M920 680.5h1M920 681.5h1M920 682.5h1M922 679.5h1M922 680.5h1M922 681.5h1M922 682.5h1M923 680.5h1M923 681.5h1M924 679.5h1M924 680.5h1M924 681.5h1M925 679.5h1M925 682.5h1M927 680.5h1M927 681.5h1M927 682.5h1M928 679.5h1M928 680.5h1M928 681.5h1M929 679.5h1M929 680.5h1M929 681.5h1M930 680.5h1M930 681.5h1M930 682.5h1" stroke="#00ff00"/>
<path transform="translate(910.6 755.4)" d="M-9.1 -3.15L-5.68 -3.15M-9.1 -3.15L-9.1 0M-5.68 -3.15L-5.68 0M-9.1 0L-5.68 0M-7.39 0L-7.39 3.15M-9.53 3.15L-5.25 3.15M-8.68 1.57L-6.1 1.57M-9.1 -1.57L-5.68 -1.57M-4.61 -1.26L-0.32 -1.26M-2.46 -3.15L-2.46 0.32M-2.46 0.32L-4.61 3.15M-2.46 0.32L-0.32 3.15M-3.75 -2.83L-1.18 -2.83M-3.53 1.26L-1.39 1.26M0.96 -3.15L0.96 3.15M0.32 -1.57L1.82 -1.57M0.32 0.63L1.82 -0.31M2.25 -2.52L4.61 -2.52M2.25 -0.63L4.61 -0.63M3.32 -2.52L3.32 3.15M2.25 1.26L4.61 1.26M2.25 3.15L4.61 3.15M5.89 -3.15L5.89 3.15M5.25 -1.57L6.75 -1.57M5.25 0.63L6.75 -0.31M7.18 -2.52L9.53 -2.52M7.18 -0.63L9.53 -0.63M8.25 -2.52L8.25 3.15M7.18 1.26L9.53 1.26M7.18 3.15L9.53 3.15" stroke="#00ff00"/>
<path transform="translate(431.4 748.4)" d="M-9.53 -3.15L-5.25 -3.15M-9.53 -3.15L-9.53 3.15M-5.25 -3.15L-5.25 3.15M-9.53 3.15L-5.25 3.15M-8.46 -1.26L-6.32 -1.26M-7.39 -1.26L-7.39 1.89M-8.46 1.89L-6.32 1.89M-8.46 0.32L-6.32 0.32M-4.61 -1.26L-0.32 -1.26M-2.46 -3.15L-2.46 0.32M-2.46 0.32L-4.61 3.15M-2.46 0.32L-0.32 3.15M-3.75 -2.83L-1.18 -2.83M-3.53 1.26L-1.39 1.26M0.32 -3.15L4.61 -3.15M0.32 -3.15L0.32 3.15M4.61 -3.15L4.61 3.15M0.32 3.15L4.61 3.15M1.39 -1.26L3.53 -1.26M2.46 -1.26L2.46 1.89M1.39 1.89L3.53 1.89M1.39 0.32L3.53 0.32M5.89 -3.15L5.89 3.15M5.25 -1.57L6.75 -1.57M5.25 0.63L6.75 -0.31M7.18 -2.52L9.53 -2.52M7.18 -0.63L9.53 -0.63M8.25 -2.52L8.25 3.15M7.18 1.26L9.53 1.26M7.18 3.15L9.53 3.15" stroke="#00ff00"/>
<path d="M506 662.2V784.3" stroke="#00ffff" stroke-width="2"/>
<path d="M505.5 784.3V835.3" stroke="#00ffff"/>
<path d="M507.5 784.3V835.3" stroke="#00ffff"/>
<path d="M506.4 676.5H525.6" stroke="#ffffff"/>
<path d="M506.6 676.8L517.2 719.5" stroke="#ff0000" stroke-dasharray="3 2"/>
<path d="M506.6 719.5L517.2 676.8" stroke="#ff0000" stroke-dasharray="3 2"/>
<path d="M517.5 676.6V719.5" stroke="#00ffff"/>
<path d="M517.2 719.5H601.3" stroke="#00ffff"/>
<path d="M506.9 720.4L553.3 730" stroke="#ff0000" stroke-dasharray="3 2"/>
<path d="M506.9 730L553.3 720.4" stroke="#ff0000" stroke-dasharray="3 2"/>
<path d="M554.2 720.4L600.8 730" stroke="#ff0000" stroke-dasharray="3 2"/>
<path d="M554.2 730L600.8 720.4" stroke="#ff0000" stroke-dasharray="3 2"/>
<path d="M553.5 719.5V730.9" stroke="#00ffff"/>
<path d="M506.4 731H606.3" stroke="#00ffff" stroke-width="2"/>
<path d="M601.5 676.9V730.9" stroke="#00ffff"/>
<path d="M587.9 665H601.8" stroke="#00ffff" stroke-width="2"/>
<path d="M587.9 664.4A13.4 13.4 0 0 0 601.3 677.8" stroke="#ff0000" stroke-dasharray="3 2"/>
<path d="M541 697.5h1M541 698.5h1M541 699.5h1M542 699.5h1M542 700.5h1M543 697.5h1M543 698.5h1M543 699.5h1M543 700.5h1M543 701.5h1M544 699.5h1M544 700.5h1M544 701.5h1M545 697.5h1M545 699.5h1M545 701.5h1M547 697.5h1M547 699.5h1M547 700.5h1M548 697.5h1M548 698.5h1M548 699.5h1M548 700.5h1M549 697.5h1M549 698.5h1M549 699.5h1M549 700.5h1M549 701.5h1M550 698.5h1M550 700.5h1M550 701.5h1M551 697.5h1M551 698.5h1M551 699.5h1M551 700.5h1M551 701.5h1M553 697.5h1M553 699.5h1M553 701.5h1M554 698.5h1M554 699.5h1M554 700.5h1M554 701.5h1M555 697.5h1M555 699.5h1M555 700.5h1M555 701.5h1M556 697.5h1M556 699.5h1M556 700.5h1M556 701.5h1M557 698.5h1M557 699.5h1M557 701.5h1M559 699.5h1M560 697.5h1M560 698.5h1M560 699.5h1M560 701.5h1M561 697.5h1M561 699.5h1M561 700.5h1M561 701.5h1M562 698.5h1M562 699.5h1M563 698.5h1M563 699.5h1M563 700.5h1" stroke="#00ff00"/>
<path transform="translate(619.5 680.5)" d="M-8.04,1.09L-6.94,0L-5.85,0L-4.76,1.09L-4.76,2.19L-8.04,6.56L-4.76,6.56M-3.77,1.09L-2.68,0L-1.59,0L-0.49,1.09L-0.49,5.47L-1.59,6.56L-2.68,6.56L-3.77,5.47ZM0.49,1.09L1.59,0L2.68,0L3.77,1.09L3.77,5.47L2.68,6.56L1.59,6.56L0.49,5.47ZM4.76,1.09L5.85,0L6.94,0L8.04,1.09L8.04,5.47L6.94,6.56L5.85,6.56L4.76,5.47Z" stroke="#ffffff" stroke-linejoin="round"/>
<path d="M601.8 690.5H638.6" stroke="#ffffff"/>
<path d="M601.5 686.5V694" stroke="#ffffff"/>
<path d="M638.5 686.5V694" stroke="#ffffff"/>
<path d="M639 661.9V835.3" stroke="#00ffff" stroke-width="2"/>
<path d="M645.5 676.6V835.3" stroke="#00ffff"/>
<path d="M639.7 676.5H671.2" stroke="#00ffff"/>
<path d="M639.9 663.7L670.2 675.7" stroke="#ff0000" stroke-dasharray="3 2"/>
<path d="M639.9 675.7L670.2 663.7" stroke="#ff0000" stroke-dasharray="3 2"/>
<path d="M639.9 676.6L645.2 700" stroke="#ff0000" stroke-dasharray="3 2"/>
<path d="M639.9 700L645.2 676.6" stroke="#ff0000" stroke-dasharray="3 2"/>
<path d="M639.9 700L645.2 717" stroke="#ff0000" stroke-dasharray="3 2"/>
<path d="M639.9 717L645.2 700" stroke="#ff0000" stroke-dasharray="3 2"/>
<path d="M639.9 717L645.2 742" stroke="#ff0000" stroke-dasharray="3 2"/>
<path d="M639.9 742L645.2 717" stroke="#ff0000" stroke-dasharray="3 2"/>
<path d="M639.9 742L645.2 761" stroke="#ff0000" stroke-dasharray="3 2"/>
<path d="M639.9 761L645.2 742" stroke="#ff0000" stroke-dasharray="3 2"/>
<path d="M639.9 761L645.2 779.8" stroke="#ff0000" stroke-dasharray="3 2"/>
<path d="M639.9 779.8L645.2 761" stroke="#ff0000" stroke-dasharray="3 2"/>
<path d="M639.9 779.8L645.2 807.2" stroke="#ff0000" stroke-dasharray="3 2"/>
<path d="M639.9 807.2L645.2 779.8" stroke="#ff0000" stroke-dasharray="3 2"/>
<path d="M639.9 807.2L645.2 835" stroke="#ff0000" stroke-dasharray="3 2"/>
<path d="M639.9 835L645.2 807.2" stroke="#ff0000" stroke-dasharray="3 2"/>
<path d="M639.9 717.5H645.2" stroke="#00ffff"/>
<path d="M639.9 779.5H645.2" stroke="#00ffff"/>
<path d="M639.9 807.5H645.2" stroke="#00ffff"/>
<path d="M606 730.9V744.6" stroke="#00ffff" stroke-width="2"/>
<path d="M634 730.9V744.6" stroke="#00ffff" stroke-width="2"/>
<path d="M633.9 731H638.9" stroke="#00ffff" stroke-width="2"/>
<path d="M606.3 744.7A13.8 13.8 0 0 0 620.1 730.9" stroke="#ff0000" stroke-dasharray="3 2"/>
<path d="M633.9 744.7A13.8 13.8 0 0 1 620.1 730.9" stroke="#ff0000" stroke-dasharray="3 2"/>
<path d="M506.4 784.5H542.3" stroke="#00ffff"/>
<path d="M507.4 786.5H539.8" stroke="#00ffff"/>
<path d="M542.5 784.3V835.3" stroke="#00ffff"/>
<path d="M539.5 786.9V820.3" stroke="#00ffff"/>
<path d="M488.8 790H506.9" stroke="#00ffff" stroke-width="2"/>
<path d="M488.9 789.9A18 18 0 0 0 506.9 807.9" stroke="#ff0000" stroke-dasharray="3 2"/>
<path d="M500 805.5H506.9" stroke="#ff0000"/>
<path d="M475 782.5h1M475 783.5h1M475 785.5h1M476 782.5h1M476 783.5h1M476 784.5h1M476 785.5h1M477 782.5h1M477 783.5h1M477 785.5h1M478 783.5h1M478 785.5h1M478 786.5h1M479 785.5h1M479 786.5h1M481 783.5h1M481 784.5h1M482 782.5h1M482 785.5h1M482 786.5h1M483 784.5h1M483 785.5h1M484 783.5h1M484 784.5h1M484 785.5h1M485 783.5h1M485 784.5h1M485 785.5h1M485 786.5h1M487 783.5h1M487 786.5h1M488 782.5h1M488 783.5h1M488 784.5h1M488 785.5h1M489 782.5h1M489 783.5h1M489 784.5h1M489 785.5h1M489 786.5h1M490 784.5h1M490 785.5h1M491 783.5h1M491 784.5h1M491 785.5h1M491 786.5h1" stroke="#00ff00"/>
<path d="M510.5 795.5H536.5V814.5H510.5Z" stroke="#ff0000" stroke-dasharray="4 2"/>
<path d="M509 804.5h1M509 805.5h1M509 806.5h1M509 808.5h1M510 804.5h1M510 805.5h1M510 806.5h1M510 807.5h1M511 804.5h1M511 805.5h1M511 806.5h1M511 808.5h1M512 804.5h1M512 805.5h1M512 806.5h1M512 808.5h1M513 805.5h1M513 806.5h1M513 807.5h1M513 808.5h1M515 804.5h1M515 805.5h1M516 805.5h1M516 806.5h1M516 807.5h1M516 808.5h1M517 805.5h1M517 806.5h1M517 808.5h1M518 806.5h1M518 807.5h1M519 804.5h1M519 805.5h1M519 806.5h1M519 807.5h1" stroke="#00ff00"/>
<path d="M551.5 767.5H631.5V824.5H551.5Z" stroke="#ff0000" stroke-dasharray="4 2"/>
<path transform="translate(575.5 794.5)" d="M-9.71,1.92L-10.35,1.53L-10.99,1.53L-11.64,2.3L-11.64,3.83L-10.99,4.6L-10.35,4.6L-9.71,4.22M-8.33,1.53L-7.68,1.53L-7.04,2.3L-7.04,3.83L-7.68,4.6L-8.33,4.6L-8.97,3.83L-8.97,2.3ZM-6.3,0L-6.3,4.6M-6.3,2.3L-5.66,1.53L-5.01,1.53L-4.37,2.3L-4.37,4.6M-3.63,3.07L-1.7,3.07L-1.7,2.3L-2.35,1.53L-2.99,1.53L-3.63,2.3L-3.63,3.83L-2.99,4.6L-2.35,4.6L-1.7,4.22M-0.97,1.53L-0.97,4.6M-0.97,2.3L-0.32,1.53L0.64,1.53M1.7,3.07L3.63,3.07L3.63,2.3L2.99,1.53L2.35,1.53L1.7,2.3L1.7,3.83L2.35,4.6L2.99,4.6L3.63,4.22M4.37,1.53L4.37,4.6M4.37,2.3L5.01,1.53L5.66,1.53L6.3,2.3L6.3,4.6M8.97,1.92L8.33,1.53L7.68,1.53L7.04,2.3L7.04,3.83L7.68,4.6L8.33,4.6L8.97,4.22M9.71,1.53L10.67,4.6M11.64,1.53L10.35,6.13L9.9,6.13" stroke="#00ff00" stroke-linejoin="round"/>
<path transform="translate(592.14 796.9)" d="M-3.4 -2.3L-3.4 2.3M-3.96 -1.15L-2.67 -1.15M-3.96 0.46L-2.67 -0.23M-2.3 -1.84L-0.28 -1.84M-2.3 -0.46L-0.28 -0.46M-1.38 -1.84L-1.38 2.3M-2.3 0.92L-0.28 0.92M-2.3 2.3L-0.28 2.3M0.64 -2.3L3.59 -2.3M0.64 -2.3L0.64 0M3.59 -2.3L3.59 0M0.64 0L3.59 0M2.12 0L2.12 2.3M0.28 2.3L3.96 2.3M1.01 1.15L3.22 1.15M0.64 -1.15L3.59 -1.15" stroke="#00ff00"/>
<path d="M686.5 671.5H715.8" stroke="#ffffff"/>
<path d="M715.5 662.6V671.8" stroke="#ffffff"/>
<path d="M693 664.5h1M693 665.5h1M693 666.5h1M693 667.5h1M694 664.5h1M694 665.5h1M694 667.5h1M695 666.5h1M695 667.5h1M696 664.5h1M696 665.5h1M696 666.5h1M698 664.5h1M698 665.5h1M698 667.5h1M699 664.5h1M699 665.5h1M699 666.5h1M699 667.5h1M700 664.5h1M700 665.5h1M700 666.5h1M701 664.5h1M701 665.5h1M701 666.5h1M701 667.5h1" stroke="#00ff00"/>
<path transform="translate(687.3 685.5)" d="M-6.41 -1.34L-2.53 -1.34M-4.47 -3.35L-4.47 0.34M-4.47 0.34L-6.41 3.35M-4.47 0.34L-2.53 3.35M-5.63 -3.02L-3.3 -3.02M-5.44 1.34L-3.5 1.34M-1.17 -3.35L-1.17 3.35M-1.17 -2.01L0.19 -2.68M0.39 -3.35L0.39 3.35M0.39 -1.34L1.94 -1.34M0.39 1.01L1.94 1.01M1.94 -1.34L1.94 3.35M-1.94 0L-0.39 0M0.39 3.35L1.94 3.35M3.11 -3.35L3.11 3.35M2.53 -1.68L3.89 -1.68M2.53 0.67L3.89 -0.33M4.27 -2.68L6.41 -2.68M4.27 -0.67L6.41 -0.67M5.25 -2.68L5.25 3.35M4.27 1.34L6.41 1.34M4.27 3.35L6.41 3.35" stroke="#00ff00"/>
<path d="M686.5 691.5H708.5V757.5H686.5Z" stroke="#a8a8a8"/>
<path d="M697.5 691V757.6" stroke="#a8a8a8"/>
<path d="M686.5 713.5H708.9" stroke="#a8a8a8"/>
<path d="M686.5 735.5H708.9" stroke="#a8a8a8"/>
<path d="M686.7 697.1H680.3Q677.3 697.1 677.3 700.1V705.5Q677.3 708.5 680.3 708.5H686.7M685.2 698.6Q681.7 702.8 685.2 707" stroke="#00ff00" stroke-width="1.3" shape-rendering="auto"/>
<path d="M708.6 697.1H715Q718 697.1 718 700.1V705.5Q718 708.5 715 708.5H708.6M710.1 698.6Q713.6 702.8 710.1 707" stroke="#00ff00" stroke-width="1.3" shape-rendering="auto"/>
<path d="M686.7 719.1H680.3Q677.3 719.1 677.3 722.1V727.5Q677.3 730.5 680.3 730.5H686.7M685.2 720.6Q681.7 724.8 685.2 729" stroke="#00ff00" stroke-width="1.3" shape-rendering="auto"/>
<path d="M708.6 719.1H715Q718 719.1 718 722.1V727.5Q718 730.5 715 730.5H708.6M710.1 720.6Q713.6 724.8 710.1 729" stroke="#00ff00" stroke-width="1.3" shape-rendering="auto"/>
<path d="M686.7 741.1H680.3Q677.3 741.1 677.3 744.1V749.5Q677.3 752.5 680.3 752.5H686.7M685.2 742.6Q681.7 746.8 685.2 751" stroke="#00ff00" stroke-width="1.3" shape-rendering="auto"/>
<path d="M708.6 741.1H715Q718 741.1 718 744.1V749.5Q718 752.5 715 752.5H708.6M710.1 742.6Q713.6 746.8 710.1 751" stroke="#00ff00" stroke-width="1.3" shape-rendering="auto"/>
<path d="M744 662V835.3" stroke="#00ffff" stroke-width="2"/>
<path d="M638.8 780H725.6" stroke="#00ffff" stroke-width="2"/>
<path d="M741.5 765.5H742.5V779.5H741.5Z" stroke="#00ffff"/>
<path d="M741.9 764.2A15.5 15.5 0 0 0 726.4 779.7" stroke="#ff0000" stroke-dasharray="3 2"/>
<path transform="translate(687.5 787.6)" d="M-10.81 -3L-10.81 3M-11.42 -1.5L-10 -1.5M-11.42 0.6L-10 -0.3M-9.59 -2.4L-7.34 -2.4M-9.59 -0.6L-7.34 -0.6M-8.57 -2.4L-8.57 3M-9.59 1.2L-7.34 1.2M-9.59 3L-7.34 3M-6.32 -3L-3.06 -3M-6.32 -3L-6.32 0M-3.06 -3L-3.06 0M-6.32 0L-3.06 0M-4.69 0L-4.69 3M-6.73 3L-2.65 3M-5.92 1.5L-3.47 1.5M-6.32 -1.5L-3.06 -1.5M-1.43 -3L-1.43 3M-2.04 -1.5L-0.61 -1.5M-2.04 0.6L-0.61 -0.3M-0.2 -2.4L2.04 -2.4M-0.2 -0.6L2.04 -0.6M0.82 -2.4L0.82 3M-0.2 1.2L2.04 1.2M-0.2 3L2.04 3M2.65 -3L6.73 -3M2.65 -3L2.65 3M6.73 -3L6.73 3M2.65 3L6.73 3M3.67 -1.2L5.71 -1.2M4.69 -1.2L4.69 1.8M3.67 1.8L5.71 1.8M3.67 0.3L5.71 0.3M8.36 -3L8.36 3M7.34 -0.9L9.38 -0.9M9.59 -2.1L11.42 -2.1M10.4 -2.1L10.4 3M9.59 0.6L11.42 0.6M7.55 1.2L9.18 0.3M9.59 3L11.42 3" stroke="#00ff00"/>
<path d="M676.5 796.5H687.5V818.5H676.5Z" stroke="#a8a8a8"/>
<path d="M676.5 802H670.1Q667.1 802 667.1 805V810.4Q667.1 813.4 670.1 813.4H676.5M675 803.5Q671.5 807.7 675 811.9" stroke="#00ff00" stroke-width="1.3" shape-rendering="auto"/>
<path d="M744.5 663.5H756.5V701.5H744.5Z" stroke="#ff0000" stroke-dasharray="4 2"/>
<path d="M744.6 663.2L756.6 701.8" stroke="#ff0000" stroke-dasharray="3 2"/>
<path d="M744.6 701.8L756.6 663.2" stroke="#ff0000" stroke-dasharray="3 2"/>
<path d="M744.5 701.5H756.5V727.5H744.5Z" stroke="#ff0000" stroke-dasharray="4 2"/>
<path d="M758 684.5h1M758 685.5h1M759 682.5h1M759 683.5h1M759 684.5h1M759 685.5h1M760 683.5h1M760 684.5h1M760 685.5h1M761 683.5h1M761 684.5h1M761 685.5h1" stroke="#00ff00"/>
<path d="M749 719.5h1M749 722.5h1M750 719.5h1M750 720.5h1M750 721.5h1M750 722.5h1M751 720.5h1M751 721.5h1M751 722.5h1M752 720.5h1M752 721.5h1M752 722.5h1M754 719.5h1M754 720.5h1M755 719.5h1M755 721.5h1M755 722.5h1M756 719.5h1M756 720.5h1M756 721.5h1M756 722.5h1" stroke="#00ff00"/>
<path d="M745.5 749.5H747.5V764.5H745.5Z" stroke="#00ffff"/>
<path d="M747 764A14.7 14.7 0 0 0 761.7 749.3" stroke="#ff0000" stroke-dasharray="3 2"/>
<path d="M761.1 749.5H851.7" stroke="#00ffff"/>
<path d="M770.3 750L810.9 760.1" stroke="#ff0000" stroke-dasharray="3 2"/>
<path d="M770.3 760.1L810.9 750" stroke="#ff0000" stroke-dasharray="3 2"/>
<path d="M811.9 750L851.7 760.1" stroke="#ff0000" stroke-dasharray="3 2"/>
<path d="M811.9 760.1L851.7 750" stroke="#ff0000" stroke-dasharray="3 2"/>
<path d="M770.3 760.5H851.7" stroke="#00ffff"/>
<path d="M770.5 749.7V760.5" stroke="#00ffff"/>
<path d="M811.5 749.7V760.5" stroke="#00ffff"/>
<path d="M852 662V835.3" stroke="#00ffff" stroke-width="2"/>
<path d="M833.5 695.5H851.7" stroke="#00ffff"/>
<path d="M833.5 731.5H851.7" stroke="#00ffff"/>
<path d="M833.9 695.8A17.8 17.8 0 0 0 851.7 713.6" stroke="#ff0000" stroke-dasharray="3 2"/>
<path d="M833.9 731.3A17.8 17.8 0 0 1 851.7 713.5" stroke="#ff0000" stroke-dasharray="3 2"/>
<path d="M776.5 775.5H815.5V784.5H776.5Z" stroke="#00ffff"/>
<path d="M776.5 794.5H815.5V803.5H776.5Z" stroke="#00ffff"/>
<path d="M786 788.5h1M786 789.5h1M787 787.5h1M787 788.5h1M787 789.5h1M788 788.5h1M788 789.5h1M788 790.5h1M789 788.5h1M789 789.5h1M789 790.5h1M791 787.5h1M791 788.5h1M791 789.5h1M791 790.5h1M792 787.5h1M792 788.5h1M792 789.5h1M793 787.5h1M793 788.5h1M793 789.5h1M793 790.5h1" stroke="#00ff00"/>
<path d="M745.4 824.6L781.1 835" stroke="#ff0000" stroke-dasharray="3 2"/>
<path d="M745.4 835L781.1 824.6" stroke="#ff0000" stroke-dasharray="3 2"/>
<path d="M782.1 824.6L818 835" stroke="#ff0000" stroke-dasharray="3 2"/>
<path d="M782.1 835L818 824.6" stroke="#ff0000" stroke-dasharray="3 2"/>
<path d="M833.1 824.6L851.4 835" stroke="#ff0000" stroke-dasharray="3 2"/>
<path d="M833.1 835L851.4 824.6" stroke="#ff0000" stroke-dasharray="3 2"/>
<path d="M745.4 824.5H818" stroke="#00ffff"/>
<path d="M833.1 824.5H851.4" stroke="#00ffff"/>
<path d="M781.5 824.4V835" stroke="#ffffff"/>
</svg></body></html>
